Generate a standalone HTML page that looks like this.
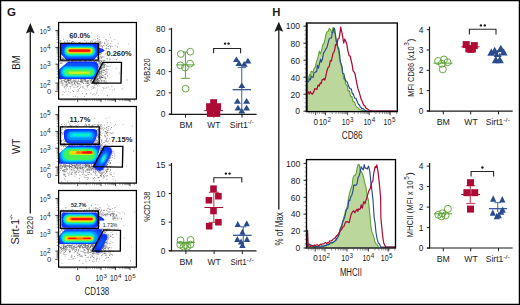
<!DOCTYPE html><html><head><meta charset="utf-8"><style>html,body{margin:0;padding:0;background:#fff;}svg{display:block;}text{font-family:"Liberation Sans",sans-serif;}</style></head><body>
<svg width="520" height="305" viewBox="0 0 520 305">
<defs><filter id="bl" x="-20%" y="-20%" width="140%" height="140%"><feGaussianBlur stdDeviation="0.6"/></filter><filter id="bl2" x="-20%" y="-20%" width="140%" height="140%"><feGaussianBlur stdDeviation="1.1"/></filter></defs>
<rect x="0" y="0" width="520" height="305" fill="#fff"/>
<text x="6.90" y="15.80" font-size="11.6" fill="#1c1c1c" font-weight="bold">G</text>
<text x="272.20" y="15.90" font-size="11.3" fill="#1c1c1c" font-weight="bold">H</text>
<line x1="30.30" y1="31.60" x2="30.30" y2="213.60" stroke="#1a1a1a" stroke-width="1.3"/>
<polygon points="30.30,23.00 34.70,33.60 30.30,31.80 25.90,33.60" fill="#1a1a1a" stroke="none" stroke-width="1"/>
<line x1="278.80" y1="29.80" x2="278.80" y2="209.60" stroke="#1a1a1a" stroke-width="1.3"/>
<polygon points="278.80,21.70 283.20,31.80 278.80,30.00 274.40,31.80" fill="#1a1a1a" stroke="none" stroke-width="1"/>
<text x="19.60" y="69.70" font-size="10.5" fill="#1c1c1c" textLength="14.50" lengthAdjust="spacingAndGlyphs" transform="rotate(-90 19.60 69.70)">BM</text>
<text x="19.60" y="154.10" font-size="10.5" fill="#1c1c1c" textLength="15.30" lengthAdjust="spacingAndGlyphs" transform="rotate(-90 19.60 154.10)">WT</text>
<text x="19.20" y="244.50" font-size="10.5" fill="#1c1c1c" textLength="25.60" lengthAdjust="spacingAndGlyphs" transform="rotate(-90 19.20 244.50)">Sirt-1</text>
<line x1="11.40" y1="219.70" x2="11.40" y2="218.30" stroke="#333" stroke-width="0.75"/>
<line x1="12.80" y1="218.10" x2="9.90" y2="216.50" stroke="#333" stroke-width="0.7"/>
<line x1="11.40" y1="216.10" x2="11.40" y2="214.70" stroke="#333" stroke-width="0.75"/>
<text x="32.90" y="234.60" font-size="8.8" fill="#1c1c1c" textLength="18.40" lengthAdjust="spacingAndGlyphs" transform="rotate(-90 32.90 234.60)">B220</text>
<clipPath id="pc0"><rect x="58.6" y="22.5" width="77.80000000000001" height="76.6"/></clipPath>
<text x="39.80" y="34.40" font-size="7.9" fill="#1c1c1c" textLength="7.00" lengthAdjust="spacingAndGlyphs">10</text>
<text x="47.00" y="31.30" font-size="6.5" fill="#1c1c1c">5</text>
<text x="39.80" y="51.70" font-size="7.9" fill="#1c1c1c" textLength="7.00" lengthAdjust="spacingAndGlyphs">10</text>
<text x="47.00" y="48.60" font-size="6.5" fill="#1c1c1c">4</text>
<text x="39.80" y="68.80" font-size="7.9" fill="#1c1c1c" textLength="7.00" lengthAdjust="spacingAndGlyphs">10</text>
<text x="47.00" y="65.70" font-size="6.5" fill="#1c1c1c">3</text>
<text x="39.80" y="87.70" font-size="7.9" fill="#1c1c1c" textLength="7.00" lengthAdjust="spacingAndGlyphs">10</text>
<text x="47.00" y="84.60" font-size="6.5" fill="#1c1c1c">2</text>
<text x="47.00" y="94.40" font-size="7.6" fill="#1c1c1c">0</text>
<line x1="55.30" y1="30.60" x2="58.60" y2="30.60" stroke="#1a1a1a" stroke-width="0.8"/>
<line x1="55.30" y1="47.40" x2="58.60" y2="47.40" stroke="#1a1a1a" stroke-width="0.8"/>
<line x1="55.30" y1="64.20" x2="58.60" y2="64.20" stroke="#1a1a1a" stroke-width="0.8"/>
<line x1="55.30" y1="83.10" x2="58.60" y2="83.10" stroke="#1a1a1a" stroke-width="0.8"/>
<line x1="55.30" y1="91.30" x2="58.60" y2="91.30" stroke="#1a1a1a" stroke-width="0.8"/>
<line x1="56.60" y1="42.34" x2="58.60" y2="42.34" stroke="#333" stroke-width="0.5"/>
<line x1="56.60" y1="39.38" x2="58.60" y2="39.38" stroke="#333" stroke-width="0.5"/>
<line x1="56.60" y1="37.29" x2="58.60" y2="37.29" stroke="#333" stroke-width="0.5"/>
<line x1="56.60" y1="35.66" x2="58.60" y2="35.66" stroke="#333" stroke-width="0.5"/>
<line x1="56.60" y1="34.33" x2="58.60" y2="34.33" stroke="#333" stroke-width="0.5"/>
<line x1="56.60" y1="33.20" x2="58.60" y2="33.20" stroke="#333" stroke-width="0.5"/>
<line x1="56.60" y1="32.23" x2="58.60" y2="32.23" stroke="#333" stroke-width="0.5"/>
<line x1="56.60" y1="31.37" x2="58.60" y2="31.37" stroke="#333" stroke-width="0.5"/>
<line x1="56.60" y1="59.14" x2="58.60" y2="59.14" stroke="#333" stroke-width="0.5"/>
<line x1="56.60" y1="56.18" x2="58.60" y2="56.18" stroke="#333" stroke-width="0.5"/>
<line x1="56.60" y1="54.09" x2="58.60" y2="54.09" stroke="#333" stroke-width="0.5"/>
<line x1="56.60" y1="52.46" x2="58.60" y2="52.46" stroke="#333" stroke-width="0.5"/>
<line x1="56.60" y1="51.13" x2="58.60" y2="51.13" stroke="#333" stroke-width="0.5"/>
<line x1="56.60" y1="50.00" x2="58.60" y2="50.00" stroke="#333" stroke-width="0.5"/>
<line x1="56.60" y1="49.03" x2="58.60" y2="49.03" stroke="#333" stroke-width="0.5"/>
<line x1="56.60" y1="48.17" x2="58.60" y2="48.17" stroke="#333" stroke-width="0.5"/>
<line x1="56.60" y1="77.41" x2="58.60" y2="77.41" stroke="#333" stroke-width="0.5"/>
<line x1="56.60" y1="74.08" x2="58.60" y2="74.08" stroke="#333" stroke-width="0.5"/>
<line x1="56.60" y1="71.72" x2="58.60" y2="71.72" stroke="#333" stroke-width="0.5"/>
<line x1="56.60" y1="69.89" x2="58.60" y2="69.89" stroke="#333" stroke-width="0.5"/>
<line x1="56.60" y1="68.39" x2="58.60" y2="68.39" stroke="#333" stroke-width="0.5"/>
<line x1="56.60" y1="67.13" x2="58.60" y2="67.13" stroke="#333" stroke-width="0.5"/>
<line x1="56.60" y1="66.03" x2="58.60" y2="66.03" stroke="#333" stroke-width="0.5"/>
<line x1="56.60" y1="65.06" x2="58.60" y2="65.06" stroke="#333" stroke-width="0.5"/>
<line x1="56.60" y1="89.66" x2="58.60" y2="89.66" stroke="#333" stroke-width="0.5"/>
<line x1="56.60" y1="88.84" x2="58.60" y2="88.84" stroke="#333" stroke-width="0.5"/>
<line x1="56.60" y1="88.02" x2="58.60" y2="88.02" stroke="#333" stroke-width="0.5"/>
<line x1="56.60" y1="87.20" x2="58.60" y2="87.20" stroke="#333" stroke-width="0.5"/>
<line x1="56.60" y1="86.38" x2="58.60" y2="86.38" stroke="#333" stroke-width="0.5"/>
<line x1="56.60" y1="85.56" x2="58.60" y2="85.56" stroke="#333" stroke-width="0.5"/>
<line x1="56.60" y1="84.74" x2="58.60" y2="84.74" stroke="#333" stroke-width="0.5"/>
<line x1="56.60" y1="83.92" x2="58.60" y2="83.92" stroke="#333" stroke-width="0.5"/>
<line x1="77.70" y1="99.10" x2="77.70" y2="102.10" stroke="#1a1a1a" stroke-width="0.8"/>
<line x1="101.00" y1="99.10" x2="101.00" y2="102.10" stroke="#1a1a1a" stroke-width="0.8"/>
<line x1="115.50" y1="99.10" x2="115.50" y2="102.10" stroke="#1a1a1a" stroke-width="0.8"/>
<line x1="130.00" y1="99.10" x2="130.00" y2="102.10" stroke="#1a1a1a" stroke-width="0.8"/>
<line x1="105.36" y1="99.10" x2="105.36" y2="101.10" stroke="#333" stroke-width="0.5"/>
<line x1="107.92" y1="99.10" x2="107.92" y2="101.10" stroke="#333" stroke-width="0.5"/>
<line x1="109.73" y1="99.10" x2="109.73" y2="101.10" stroke="#333" stroke-width="0.5"/>
<line x1="111.14" y1="99.10" x2="111.14" y2="101.10" stroke="#333" stroke-width="0.5"/>
<line x1="112.28" y1="99.10" x2="112.28" y2="101.10" stroke="#333" stroke-width="0.5"/>
<line x1="113.25" y1="99.10" x2="113.25" y2="101.10" stroke="#333" stroke-width="0.5"/>
<line x1="114.09" y1="99.10" x2="114.09" y2="101.10" stroke="#333" stroke-width="0.5"/>
<line x1="114.84" y1="99.10" x2="114.84" y2="101.10" stroke="#333" stroke-width="0.5"/>
<line x1="119.86" y1="99.10" x2="119.86" y2="101.10" stroke="#333" stroke-width="0.5"/>
<line x1="122.42" y1="99.10" x2="122.42" y2="101.10" stroke="#333" stroke-width="0.5"/>
<line x1="124.23" y1="99.10" x2="124.23" y2="101.10" stroke="#333" stroke-width="0.5"/>
<line x1="125.64" y1="99.10" x2="125.64" y2="101.10" stroke="#333" stroke-width="0.5"/>
<line x1="126.78" y1="99.10" x2="126.78" y2="101.10" stroke="#333" stroke-width="0.5"/>
<line x1="127.75" y1="99.10" x2="127.75" y2="101.10" stroke="#333" stroke-width="0.5"/>
<line x1="128.59" y1="99.10" x2="128.59" y2="101.10" stroke="#333" stroke-width="0.5"/>
<line x1="129.34" y1="99.10" x2="129.34" y2="101.10" stroke="#333" stroke-width="0.5"/>
<line x1="86.34" y1="99.10" x2="86.34" y2="101.10" stroke="#333" stroke-width="0.5"/>
<line x1="90.04" y1="99.10" x2="90.04" y2="101.10" stroke="#333" stroke-width="0.5"/>
<line x1="92.66" y1="99.10" x2="92.66" y2="101.10" stroke="#333" stroke-width="0.5"/>
<line x1="94.69" y1="99.10" x2="94.69" y2="101.10" stroke="#333" stroke-width="0.5"/>
<line x1="96.35" y1="99.10" x2="96.35" y2="101.10" stroke="#333" stroke-width="0.5"/>
<line x1="97.75" y1="99.10" x2="97.75" y2="101.10" stroke="#333" stroke-width="0.5"/>
<line x1="98.97" y1="99.10" x2="98.97" y2="101.10" stroke="#333" stroke-width="0.5"/>
<line x1="100.04" y1="99.10" x2="100.04" y2="101.10" stroke="#333" stroke-width="0.5"/>
<line x1="61.00" y1="99.10" x2="61.00" y2="100.90" stroke="#333" stroke-width="0.5"/>
<line x1="63.00" y1="99.10" x2="63.00" y2="100.90" stroke="#333" stroke-width="0.5"/>
<line x1="65.00" y1="99.10" x2="65.00" y2="100.90" stroke="#333" stroke-width="0.5"/>
<line x1="67.00" y1="99.10" x2="67.00" y2="100.90" stroke="#333" stroke-width="0.5"/>
<line x1="69.00" y1="99.10" x2="69.00" y2="100.90" stroke="#333" stroke-width="0.5"/>
<line x1="71.00" y1="99.10" x2="71.00" y2="100.90" stroke="#333" stroke-width="0.5"/>
<line x1="73.00" y1="99.10" x2="73.00" y2="100.90" stroke="#333" stroke-width="0.5"/>
<line x1="75.00" y1="99.10" x2="75.00" y2="100.90" stroke="#333" stroke-width="0.5"/>
<line x1="80.00" y1="99.10" x2="80.00" y2="100.90" stroke="#333" stroke-width="0.5"/>
<line x1="82.00" y1="99.10" x2="82.00" y2="100.90" stroke="#333" stroke-width="0.5"/>
<line x1="84.00" y1="99.10" x2="84.00" y2="100.90" stroke="#333" stroke-width="0.5"/>
<line x1="86.00" y1="99.10" x2="86.00" y2="100.90" stroke="#333" stroke-width="0.5"/>
<line x1="88.00" y1="99.10" x2="88.00" y2="100.90" stroke="#333" stroke-width="0.5"/>
<line x1="134.36" y1="99.10" x2="134.36" y2="101.10" stroke="#333" stroke-width="0.5"/>
<clipPath id="pc1"><rect x="58.6" y="106.5" width="77.80000000000001" height="76.6"/></clipPath>
<text x="39.80" y="118.40" font-size="7.9" fill="#1c1c1c" textLength="7.00" lengthAdjust="spacingAndGlyphs">10</text>
<text x="47.00" y="115.30" font-size="6.5" fill="#1c1c1c">5</text>
<text x="39.80" y="135.70" font-size="7.9" fill="#1c1c1c" textLength="7.00" lengthAdjust="spacingAndGlyphs">10</text>
<text x="47.00" y="132.60" font-size="6.5" fill="#1c1c1c">4</text>
<text x="39.80" y="152.80" font-size="7.9" fill="#1c1c1c" textLength="7.00" lengthAdjust="spacingAndGlyphs">10</text>
<text x="47.00" y="149.70" font-size="6.5" fill="#1c1c1c">3</text>
<text x="39.80" y="171.70" font-size="7.9" fill="#1c1c1c" textLength="7.00" lengthAdjust="spacingAndGlyphs">10</text>
<text x="47.00" y="168.60" font-size="6.5" fill="#1c1c1c">2</text>
<text x="47.00" y="178.40" font-size="7.6" fill="#1c1c1c">0</text>
<line x1="55.30" y1="114.60" x2="58.60" y2="114.60" stroke="#1a1a1a" stroke-width="0.8"/>
<line x1="55.30" y1="131.40" x2="58.60" y2="131.40" stroke="#1a1a1a" stroke-width="0.8"/>
<line x1="55.30" y1="148.20" x2="58.60" y2="148.20" stroke="#1a1a1a" stroke-width="0.8"/>
<line x1="55.30" y1="167.10" x2="58.60" y2="167.10" stroke="#1a1a1a" stroke-width="0.8"/>
<line x1="55.30" y1="175.30" x2="58.60" y2="175.30" stroke="#1a1a1a" stroke-width="0.8"/>
<line x1="56.60" y1="126.34" x2="58.60" y2="126.34" stroke="#333" stroke-width="0.5"/>
<line x1="56.60" y1="123.38" x2="58.60" y2="123.38" stroke="#333" stroke-width="0.5"/>
<line x1="56.60" y1="121.29" x2="58.60" y2="121.29" stroke="#333" stroke-width="0.5"/>
<line x1="56.60" y1="119.66" x2="58.60" y2="119.66" stroke="#333" stroke-width="0.5"/>
<line x1="56.60" y1="118.33" x2="58.60" y2="118.33" stroke="#333" stroke-width="0.5"/>
<line x1="56.60" y1="117.20" x2="58.60" y2="117.20" stroke="#333" stroke-width="0.5"/>
<line x1="56.60" y1="116.23" x2="58.60" y2="116.23" stroke="#333" stroke-width="0.5"/>
<line x1="56.60" y1="115.37" x2="58.60" y2="115.37" stroke="#333" stroke-width="0.5"/>
<line x1="56.60" y1="143.14" x2="58.60" y2="143.14" stroke="#333" stroke-width="0.5"/>
<line x1="56.60" y1="140.18" x2="58.60" y2="140.18" stroke="#333" stroke-width="0.5"/>
<line x1="56.60" y1="138.09" x2="58.60" y2="138.09" stroke="#333" stroke-width="0.5"/>
<line x1="56.60" y1="136.46" x2="58.60" y2="136.46" stroke="#333" stroke-width="0.5"/>
<line x1="56.60" y1="135.13" x2="58.60" y2="135.13" stroke="#333" stroke-width="0.5"/>
<line x1="56.60" y1="134.00" x2="58.60" y2="134.00" stroke="#333" stroke-width="0.5"/>
<line x1="56.60" y1="133.03" x2="58.60" y2="133.03" stroke="#333" stroke-width="0.5"/>
<line x1="56.60" y1="132.17" x2="58.60" y2="132.17" stroke="#333" stroke-width="0.5"/>
<line x1="56.60" y1="161.41" x2="58.60" y2="161.41" stroke="#333" stroke-width="0.5"/>
<line x1="56.60" y1="158.08" x2="58.60" y2="158.08" stroke="#333" stroke-width="0.5"/>
<line x1="56.60" y1="155.72" x2="58.60" y2="155.72" stroke="#333" stroke-width="0.5"/>
<line x1="56.60" y1="153.89" x2="58.60" y2="153.89" stroke="#333" stroke-width="0.5"/>
<line x1="56.60" y1="152.39" x2="58.60" y2="152.39" stroke="#333" stroke-width="0.5"/>
<line x1="56.60" y1="151.13" x2="58.60" y2="151.13" stroke="#333" stroke-width="0.5"/>
<line x1="56.60" y1="150.03" x2="58.60" y2="150.03" stroke="#333" stroke-width="0.5"/>
<line x1="56.60" y1="149.06" x2="58.60" y2="149.06" stroke="#333" stroke-width="0.5"/>
<line x1="56.60" y1="173.66" x2="58.60" y2="173.66" stroke="#333" stroke-width="0.5"/>
<line x1="56.60" y1="172.84" x2="58.60" y2="172.84" stroke="#333" stroke-width="0.5"/>
<line x1="56.60" y1="172.02" x2="58.60" y2="172.02" stroke="#333" stroke-width="0.5"/>
<line x1="56.60" y1="171.20" x2="58.60" y2="171.20" stroke="#333" stroke-width="0.5"/>
<line x1="56.60" y1="170.38" x2="58.60" y2="170.38" stroke="#333" stroke-width="0.5"/>
<line x1="56.60" y1="169.56" x2="58.60" y2="169.56" stroke="#333" stroke-width="0.5"/>
<line x1="56.60" y1="168.74" x2="58.60" y2="168.74" stroke="#333" stroke-width="0.5"/>
<line x1="56.60" y1="167.92" x2="58.60" y2="167.92" stroke="#333" stroke-width="0.5"/>
<line x1="77.70" y1="183.10" x2="77.70" y2="186.10" stroke="#1a1a1a" stroke-width="0.8"/>
<line x1="101.00" y1="183.10" x2="101.00" y2="186.10" stroke="#1a1a1a" stroke-width="0.8"/>
<line x1="115.50" y1="183.10" x2="115.50" y2="186.10" stroke="#1a1a1a" stroke-width="0.8"/>
<line x1="130.00" y1="183.10" x2="130.00" y2="186.10" stroke="#1a1a1a" stroke-width="0.8"/>
<line x1="105.36" y1="183.10" x2="105.36" y2="185.10" stroke="#333" stroke-width="0.5"/>
<line x1="107.92" y1="183.10" x2="107.92" y2="185.10" stroke="#333" stroke-width="0.5"/>
<line x1="109.73" y1="183.10" x2="109.73" y2="185.10" stroke="#333" stroke-width="0.5"/>
<line x1="111.14" y1="183.10" x2="111.14" y2="185.10" stroke="#333" stroke-width="0.5"/>
<line x1="112.28" y1="183.10" x2="112.28" y2="185.10" stroke="#333" stroke-width="0.5"/>
<line x1="113.25" y1="183.10" x2="113.25" y2="185.10" stroke="#333" stroke-width="0.5"/>
<line x1="114.09" y1="183.10" x2="114.09" y2="185.10" stroke="#333" stroke-width="0.5"/>
<line x1="114.84" y1="183.10" x2="114.84" y2="185.10" stroke="#333" stroke-width="0.5"/>
<line x1="119.86" y1="183.10" x2="119.86" y2="185.10" stroke="#333" stroke-width="0.5"/>
<line x1="122.42" y1="183.10" x2="122.42" y2="185.10" stroke="#333" stroke-width="0.5"/>
<line x1="124.23" y1="183.10" x2="124.23" y2="185.10" stroke="#333" stroke-width="0.5"/>
<line x1="125.64" y1="183.10" x2="125.64" y2="185.10" stroke="#333" stroke-width="0.5"/>
<line x1="126.78" y1="183.10" x2="126.78" y2="185.10" stroke="#333" stroke-width="0.5"/>
<line x1="127.75" y1="183.10" x2="127.75" y2="185.10" stroke="#333" stroke-width="0.5"/>
<line x1="128.59" y1="183.10" x2="128.59" y2="185.10" stroke="#333" stroke-width="0.5"/>
<line x1="129.34" y1="183.10" x2="129.34" y2="185.10" stroke="#333" stroke-width="0.5"/>
<line x1="86.34" y1="183.10" x2="86.34" y2="185.10" stroke="#333" stroke-width="0.5"/>
<line x1="90.04" y1="183.10" x2="90.04" y2="185.10" stroke="#333" stroke-width="0.5"/>
<line x1="92.66" y1="183.10" x2="92.66" y2="185.10" stroke="#333" stroke-width="0.5"/>
<line x1="94.69" y1="183.10" x2="94.69" y2="185.10" stroke="#333" stroke-width="0.5"/>
<line x1="96.35" y1="183.10" x2="96.35" y2="185.10" stroke="#333" stroke-width="0.5"/>
<line x1="97.75" y1="183.10" x2="97.75" y2="185.10" stroke="#333" stroke-width="0.5"/>
<line x1="98.97" y1="183.10" x2="98.97" y2="185.10" stroke="#333" stroke-width="0.5"/>
<line x1="100.04" y1="183.10" x2="100.04" y2="185.10" stroke="#333" stroke-width="0.5"/>
<line x1="61.00" y1="183.10" x2="61.00" y2="184.90" stroke="#333" stroke-width="0.5"/>
<line x1="63.00" y1="183.10" x2="63.00" y2="184.90" stroke="#333" stroke-width="0.5"/>
<line x1="65.00" y1="183.10" x2="65.00" y2="184.90" stroke="#333" stroke-width="0.5"/>
<line x1="67.00" y1="183.10" x2="67.00" y2="184.90" stroke="#333" stroke-width="0.5"/>
<line x1="69.00" y1="183.10" x2="69.00" y2="184.90" stroke="#333" stroke-width="0.5"/>
<line x1="71.00" y1="183.10" x2="71.00" y2="184.90" stroke="#333" stroke-width="0.5"/>
<line x1="73.00" y1="183.10" x2="73.00" y2="184.90" stroke="#333" stroke-width="0.5"/>
<line x1="75.00" y1="183.10" x2="75.00" y2="184.90" stroke="#333" stroke-width="0.5"/>
<line x1="80.00" y1="183.10" x2="80.00" y2="184.90" stroke="#333" stroke-width="0.5"/>
<line x1="82.00" y1="183.10" x2="82.00" y2="184.90" stroke="#333" stroke-width="0.5"/>
<line x1="84.00" y1="183.10" x2="84.00" y2="184.90" stroke="#333" stroke-width="0.5"/>
<line x1="86.00" y1="183.10" x2="86.00" y2="184.90" stroke="#333" stroke-width="0.5"/>
<line x1="88.00" y1="183.10" x2="88.00" y2="184.90" stroke="#333" stroke-width="0.5"/>
<line x1="134.36" y1="183.10" x2="134.36" y2="185.10" stroke="#333" stroke-width="0.5"/>
<clipPath id="pc2"><rect x="58.6" y="190.5" width="77.80000000000001" height="76.60000000000002"/></clipPath>
<text x="39.80" y="202.40" font-size="7.9" fill="#1c1c1c" textLength="7.00" lengthAdjust="spacingAndGlyphs">10</text>
<text x="47.00" y="199.30" font-size="6.5" fill="#1c1c1c">5</text>
<text x="39.80" y="219.70" font-size="7.9" fill="#1c1c1c" textLength="7.00" lengthAdjust="spacingAndGlyphs">10</text>
<text x="47.00" y="216.60" font-size="6.5" fill="#1c1c1c">4</text>
<text x="39.80" y="236.80" font-size="7.9" fill="#1c1c1c" textLength="7.00" lengthAdjust="spacingAndGlyphs">10</text>
<text x="47.00" y="233.70" font-size="6.5" fill="#1c1c1c">3</text>
<text x="39.80" y="255.70" font-size="7.9" fill="#1c1c1c" textLength="7.00" lengthAdjust="spacingAndGlyphs">10</text>
<text x="47.00" y="252.60" font-size="6.5" fill="#1c1c1c">2</text>
<text x="47.00" y="262.40" font-size="7.6" fill="#1c1c1c">0</text>
<line x1="55.30" y1="198.60" x2="58.60" y2="198.60" stroke="#1a1a1a" stroke-width="0.8"/>
<line x1="55.30" y1="215.40" x2="58.60" y2="215.40" stroke="#1a1a1a" stroke-width="0.8"/>
<line x1="55.30" y1="232.20" x2="58.60" y2="232.20" stroke="#1a1a1a" stroke-width="0.8"/>
<line x1="55.30" y1="251.10" x2="58.60" y2="251.10" stroke="#1a1a1a" stroke-width="0.8"/>
<line x1="55.30" y1="259.30" x2="58.60" y2="259.30" stroke="#1a1a1a" stroke-width="0.8"/>
<line x1="56.60" y1="210.34" x2="58.60" y2="210.34" stroke="#333" stroke-width="0.5"/>
<line x1="56.60" y1="207.38" x2="58.60" y2="207.38" stroke="#333" stroke-width="0.5"/>
<line x1="56.60" y1="205.29" x2="58.60" y2="205.29" stroke="#333" stroke-width="0.5"/>
<line x1="56.60" y1="203.66" x2="58.60" y2="203.66" stroke="#333" stroke-width="0.5"/>
<line x1="56.60" y1="202.33" x2="58.60" y2="202.33" stroke="#333" stroke-width="0.5"/>
<line x1="56.60" y1="201.20" x2="58.60" y2="201.20" stroke="#333" stroke-width="0.5"/>
<line x1="56.60" y1="200.23" x2="58.60" y2="200.23" stroke="#333" stroke-width="0.5"/>
<line x1="56.60" y1="199.37" x2="58.60" y2="199.37" stroke="#333" stroke-width="0.5"/>
<line x1="56.60" y1="227.14" x2="58.60" y2="227.14" stroke="#333" stroke-width="0.5"/>
<line x1="56.60" y1="224.18" x2="58.60" y2="224.18" stroke="#333" stroke-width="0.5"/>
<line x1="56.60" y1="222.09" x2="58.60" y2="222.09" stroke="#333" stroke-width="0.5"/>
<line x1="56.60" y1="220.46" x2="58.60" y2="220.46" stroke="#333" stroke-width="0.5"/>
<line x1="56.60" y1="219.13" x2="58.60" y2="219.13" stroke="#333" stroke-width="0.5"/>
<line x1="56.60" y1="218.00" x2="58.60" y2="218.00" stroke="#333" stroke-width="0.5"/>
<line x1="56.60" y1="217.03" x2="58.60" y2="217.03" stroke="#333" stroke-width="0.5"/>
<line x1="56.60" y1="216.17" x2="58.60" y2="216.17" stroke="#333" stroke-width="0.5"/>
<line x1="56.60" y1="245.41" x2="58.60" y2="245.41" stroke="#333" stroke-width="0.5"/>
<line x1="56.60" y1="242.08" x2="58.60" y2="242.08" stroke="#333" stroke-width="0.5"/>
<line x1="56.60" y1="239.72" x2="58.60" y2="239.72" stroke="#333" stroke-width="0.5"/>
<line x1="56.60" y1="237.89" x2="58.60" y2="237.89" stroke="#333" stroke-width="0.5"/>
<line x1="56.60" y1="236.39" x2="58.60" y2="236.39" stroke="#333" stroke-width="0.5"/>
<line x1="56.60" y1="235.13" x2="58.60" y2="235.13" stroke="#333" stroke-width="0.5"/>
<line x1="56.60" y1="234.03" x2="58.60" y2="234.03" stroke="#333" stroke-width="0.5"/>
<line x1="56.60" y1="233.06" x2="58.60" y2="233.06" stroke="#333" stroke-width="0.5"/>
<line x1="56.60" y1="257.66" x2="58.60" y2="257.66" stroke="#333" stroke-width="0.5"/>
<line x1="56.60" y1="256.84" x2="58.60" y2="256.84" stroke="#333" stroke-width="0.5"/>
<line x1="56.60" y1="256.02" x2="58.60" y2="256.02" stroke="#333" stroke-width="0.5"/>
<line x1="56.60" y1="255.20" x2="58.60" y2="255.20" stroke="#333" stroke-width="0.5"/>
<line x1="56.60" y1="254.38" x2="58.60" y2="254.38" stroke="#333" stroke-width="0.5"/>
<line x1="56.60" y1="253.56" x2="58.60" y2="253.56" stroke="#333" stroke-width="0.5"/>
<line x1="56.60" y1="252.74" x2="58.60" y2="252.74" stroke="#333" stroke-width="0.5"/>
<line x1="56.60" y1="251.92" x2="58.60" y2="251.92" stroke="#333" stroke-width="0.5"/>
<line x1="77.70" y1="267.10" x2="77.70" y2="270.10" stroke="#1a1a1a" stroke-width="0.8"/>
<line x1="101.00" y1="267.10" x2="101.00" y2="270.10" stroke="#1a1a1a" stroke-width="0.8"/>
<line x1="115.50" y1="267.10" x2="115.50" y2="270.10" stroke="#1a1a1a" stroke-width="0.8"/>
<line x1="130.00" y1="267.10" x2="130.00" y2="270.10" stroke="#1a1a1a" stroke-width="0.8"/>
<line x1="105.36" y1="267.10" x2="105.36" y2="269.10" stroke="#333" stroke-width="0.5"/>
<line x1="107.92" y1="267.10" x2="107.92" y2="269.10" stroke="#333" stroke-width="0.5"/>
<line x1="109.73" y1="267.10" x2="109.73" y2="269.10" stroke="#333" stroke-width="0.5"/>
<line x1="111.14" y1="267.10" x2="111.14" y2="269.10" stroke="#333" stroke-width="0.5"/>
<line x1="112.28" y1="267.10" x2="112.28" y2="269.10" stroke="#333" stroke-width="0.5"/>
<line x1="113.25" y1="267.10" x2="113.25" y2="269.10" stroke="#333" stroke-width="0.5"/>
<line x1="114.09" y1="267.10" x2="114.09" y2="269.10" stroke="#333" stroke-width="0.5"/>
<line x1="114.84" y1="267.10" x2="114.84" y2="269.10" stroke="#333" stroke-width="0.5"/>
<line x1="119.86" y1="267.10" x2="119.86" y2="269.10" stroke="#333" stroke-width="0.5"/>
<line x1="122.42" y1="267.10" x2="122.42" y2="269.10" stroke="#333" stroke-width="0.5"/>
<line x1="124.23" y1="267.10" x2="124.23" y2="269.10" stroke="#333" stroke-width="0.5"/>
<line x1="125.64" y1="267.10" x2="125.64" y2="269.10" stroke="#333" stroke-width="0.5"/>
<line x1="126.78" y1="267.10" x2="126.78" y2="269.10" stroke="#333" stroke-width="0.5"/>
<line x1="127.75" y1="267.10" x2="127.75" y2="269.10" stroke="#333" stroke-width="0.5"/>
<line x1="128.59" y1="267.10" x2="128.59" y2="269.10" stroke="#333" stroke-width="0.5"/>
<line x1="129.34" y1="267.10" x2="129.34" y2="269.10" stroke="#333" stroke-width="0.5"/>
<line x1="86.34" y1="267.10" x2="86.34" y2="269.10" stroke="#333" stroke-width="0.5"/>
<line x1="90.04" y1="267.10" x2="90.04" y2="269.10" stroke="#333" stroke-width="0.5"/>
<line x1="92.66" y1="267.10" x2="92.66" y2="269.10" stroke="#333" stroke-width="0.5"/>
<line x1="94.69" y1="267.10" x2="94.69" y2="269.10" stroke="#333" stroke-width="0.5"/>
<line x1="96.35" y1="267.10" x2="96.35" y2="269.10" stroke="#333" stroke-width="0.5"/>
<line x1="97.75" y1="267.10" x2="97.75" y2="269.10" stroke="#333" stroke-width="0.5"/>
<line x1="98.97" y1="267.10" x2="98.97" y2="269.10" stroke="#333" stroke-width="0.5"/>
<line x1="100.04" y1="267.10" x2="100.04" y2="269.10" stroke="#333" stroke-width="0.5"/>
<line x1="61.00" y1="267.10" x2="61.00" y2="268.90" stroke="#333" stroke-width="0.5"/>
<line x1="63.00" y1="267.10" x2="63.00" y2="268.90" stroke="#333" stroke-width="0.5"/>
<line x1="65.00" y1="267.10" x2="65.00" y2="268.90" stroke="#333" stroke-width="0.5"/>
<line x1="67.00" y1="267.10" x2="67.00" y2="268.90" stroke="#333" stroke-width="0.5"/>
<line x1="69.00" y1="267.10" x2="69.00" y2="268.90" stroke="#333" stroke-width="0.5"/>
<line x1="71.00" y1="267.10" x2="71.00" y2="268.90" stroke="#333" stroke-width="0.5"/>
<line x1="73.00" y1="267.10" x2="73.00" y2="268.90" stroke="#333" stroke-width="0.5"/>
<line x1="75.00" y1="267.10" x2="75.00" y2="268.90" stroke="#333" stroke-width="0.5"/>
<line x1="80.00" y1="267.10" x2="80.00" y2="268.90" stroke="#333" stroke-width="0.5"/>
<line x1="82.00" y1="267.10" x2="82.00" y2="268.90" stroke="#333" stroke-width="0.5"/>
<line x1="84.00" y1="267.10" x2="84.00" y2="268.90" stroke="#333" stroke-width="0.5"/>
<line x1="86.00" y1="267.10" x2="86.00" y2="268.90" stroke="#333" stroke-width="0.5"/>
<line x1="88.00" y1="267.10" x2="88.00" y2="268.90" stroke="#333" stroke-width="0.5"/>
<line x1="134.36" y1="267.10" x2="134.36" y2="269.10" stroke="#333" stroke-width="0.5"/>
<path d="M101.1 71.0h0.8v0.8h-0.8zM67.9 80.2h0.8v0.8h-0.8zM61.9 62.7h0.8v0.8h-0.8zM68.4 56.8h0.8v0.8h-0.8zM72.2 41.1h0.8v0.8h-0.8zM67.5 74.6h0.8v0.8h-0.8zM102.0 77.1h0.8v0.8h-0.8zM107.8 48.1h0.8v0.8h-0.8zM105.9 49.4h0.8v0.8h-0.8zM80.0 74.7h0.8v0.8h-0.8zM70.3 85.9h0.8v0.8h-0.8zM97.0 45.1h0.8v0.8h-0.8zM88.7 56.4h0.8v0.8h-0.8zM67.5 41.7h0.8v0.8h-0.8zM68.4 59.4h0.8v0.8h-0.8zM84.5 60.5h0.8v0.8h-0.8zM81.9 86.3h0.8v0.8h-0.8zM95.6 71.5h0.8v0.8h-0.8zM78.4 62.9h0.8v0.8h-0.8zM94.2 61.0h0.8v0.8h-0.8zM94.4 79.7h0.8v0.8h-0.8zM108.3 52.8h0.8v0.8h-0.8zM71.1 61.2h0.8v0.8h-0.8zM68.9 56.7h0.8v0.8h-0.8zM83.2 83.3h0.8v0.8h-0.8zM66.0 82.0h0.8v0.8h-0.8zM96.2 61.7h0.8v0.8h-0.8zM112.7 56.0h0.8v0.8h-0.8zM64.1 80.2h0.8v0.8h-0.8zM62.7 47.2h0.8v0.8h-0.8zM100.7 74.5h0.8v0.8h-0.8zM85.1 80.8h0.8v0.8h-0.8zM107.7 40.3h0.8v0.8h-0.8zM101.0 53.2h0.8v0.8h-0.8zM80.3 56.0h0.8v0.8h-0.8zM81.6 65.8h0.8v0.8h-0.8zM101.5 68.7h0.8v0.8h-0.8zM72.2 56.0h0.8v0.8h-0.8zM100.6 67.5h0.8v0.8h-0.8zM72.2 55.9h0.8v0.8h-0.8zM78.2 78.6h0.8v0.8h-0.8zM76.9 59.0h0.8v0.8h-0.8zM64.1 61.2h0.8v0.8h-0.8zM84.3 74.3h0.8v0.8h-0.8zM74.3 71.2h0.8v0.8h-0.8zM99.1 42.4h0.8v0.8h-0.8zM99.2 60.1h0.8v0.8h-0.8zM88.4 77.0h0.8v0.8h-0.8zM101.5 71.9h0.8v0.8h-0.8zM70.5 76.2h0.8v0.8h-0.8zM98.8 68.1h0.8v0.8h-0.8zM96.3 77.9h0.8v0.8h-0.8zM66.3 61.5h0.8v0.8h-0.8zM92.7 77.3h0.8v0.8h-0.8zM87.0 86.7h0.8v0.8h-0.8zM71.2 61.3h0.8v0.8h-0.8zM65.9 81.3h0.8v0.8h-0.8zM92.9 83.1h0.8v0.8h-0.8zM98.6 71.3h0.8v0.8h-0.8zM103.6 65.8h0.8v0.8h-0.8zM103.5 68.8h0.8v0.8h-0.8zM71.2 81.5h0.8v0.8h-0.8zM93.8 78.3h0.8v0.8h-0.8zM89.9 49.9h0.8v0.8h-0.8zM96.3 41.3h0.8v0.8h-0.8zM61.9 59.9h0.8v0.8h-0.8zM62.1 73.2h0.8v0.8h-0.8zM78.7 59.1h0.8v0.8h-0.8zM64.5 81.2h0.8v0.8h-0.8zM82.2 92.9h0.8v0.8h-0.8zM74.4 80.2h0.8v0.8h-0.8zM103.6 81.4h0.8v0.8h-0.8zM63.2 73.0h0.8v0.8h-0.8zM105.6 54.3h0.8v0.8h-0.8zM85.2 60.9h0.8v0.8h-0.8zM98.4 62.5h0.8v0.8h-0.8zM63.3 61.5h0.8v0.8h-0.8zM95.0 42.5h0.8v0.8h-0.8zM77.5 80.4h0.8v0.8h-0.8zM77.2 96.5h0.8v0.8h-0.8zM85.8 93.6h0.8v0.8h-0.8zM99.9 77.6h0.8v0.8h-0.8zM94.8 94.4h0.8v0.8h-0.8zM77.1 72.1h0.8v0.8h-0.8zM105.0 81.7h0.8v0.8h-0.8zM64.0 49.4h0.8v0.8h-0.8zM98.1 83.6h0.8v0.8h-0.8zM61.5 77.0h0.8v0.8h-0.8zM99.0 44.3h0.8v0.8h-0.8zM86.4 37.0h0.8v0.8h-0.8zM117.0 46.6h0.8v0.8h-0.8zM60.5 62.8h0.8v0.8h-0.8zM77.1 42.9h0.8v0.8h-0.8zM62.6 59.3h0.8v0.8h-0.8zM100.6 74.3h0.8v0.8h-0.8zM96.7 61.0h0.8v0.8h-0.8zM66.6 81.4h0.8v0.8h-0.8zM98.9 57.4h0.8v0.8h-0.8zM84.8 55.9h0.8v0.8h-0.8zM78.1 76.8h0.8v0.8h-0.8zM86.8 58.0h0.8v0.8h-0.8zM80.9 61.3h0.8v0.8h-0.8zM104.1 66.6h0.8v0.8h-0.8zM103.6 63.4h0.8v0.8h-0.8zM62.7 43.0h0.8v0.8h-0.8zM78.6 83.1h0.8v0.8h-0.8zM94.2 82.4h0.8v0.8h-0.8zM63.3 39.2h0.8v0.8h-0.8zM67.0 43.4h0.8v0.8h-0.8zM95.8 80.6h0.8v0.8h-0.8zM75.9 78.5h0.8v0.8h-0.8zM79.7 77.0h0.8v0.8h-0.8zM67.3 72.9h0.8v0.8h-0.8zM115.9 59.1h0.8v0.8h-0.8zM60.5 46.2h0.8v0.8h-0.8zM88.2 42.7h0.8v0.8h-0.8zM103.6 71.7h0.8v0.8h-0.8zM89.1 84.2h0.8v0.8h-0.8zM96.0 60.6h0.8v0.8h-0.8zM71.8 38.2h0.8v0.8h-0.8zM66.9 80.6h0.8v0.8h-0.8zM66.5 69.7h0.8v0.8h-0.8zM77.6 77.7h0.8v0.8h-0.8zM86.9 58.8h0.8v0.8h-0.8zM88.0 73.7h0.8v0.8h-0.8zM65.2 76.0h0.8v0.8h-0.8zM68.4 61.1h0.8v0.8h-0.8zM71.9 60.4h0.8v0.8h-0.8zM121.8 88.4h0.8v0.8h-0.8zM67.6 42.8h0.8v0.8h-0.8zM98.0 55.5h0.8v0.8h-0.8zM82.1 81.9h0.8v0.8h-0.8zM59.3 59.8h0.8v0.8h-0.8zM73.7 60.3h0.8v0.8h-0.8zM100.2 68.9h0.8v0.8h-0.8zM97.0 70.5h0.8v0.8h-0.8zM90.9 71.6h0.8v0.8h-0.8zM84.8 77.5h0.8v0.8h-0.8zM107.8 86.5h0.8v0.8h-0.8zM79.6 81.1h0.8v0.8h-0.8zM80.5 61.0h0.8v0.8h-0.8zM100.3 64.4h0.8v0.8h-0.8zM104.5 87.7h0.8v0.8h-0.8zM109.5 51.1h0.8v0.8h-0.8zM101.3 45.2h0.8v0.8h-0.8zM62.5 94.0h0.8v0.8h-0.8zM80.8 60.3h0.8v0.8h-0.8zM103.7 64.1h0.8v0.8h-0.8zM97.7 81.3h0.8v0.8h-0.8zM98.8 54.0h0.8v0.8h-0.8zM82.3 53.0h0.8v0.8h-0.8zM97.4 42.7h0.8v0.8h-0.8zM98.2 73.9h0.8v0.8h-0.8zM98.4 72.8h0.8v0.8h-0.8zM93.9 81.9h0.8v0.8h-0.8zM86.6 56.6h0.8v0.8h-0.8zM98.8 62.2h0.8v0.8h-0.8zM62.0 44.2h0.8v0.8h-0.8zM65.7 90.8h0.8v0.8h-0.8zM78.3 60.3h0.8v0.8h-0.8zM85.3 63.6h0.8v0.8h-0.8zM59.3 78.8h0.8v0.8h-0.8zM103.8 79.9h0.8v0.8h-0.8zM96.9 57.5h0.8v0.8h-0.8zM70.2 79.1h0.8v0.8h-0.8zM98.7 53.7h0.8v0.8h-0.8zM101.0 71.3h0.8v0.8h-0.8zM102.4 64.4h0.8v0.8h-0.8zM76.9 82.5h0.8v0.8h-0.8zM99.3 59.8h0.8v0.8h-0.8zM62.5 60.3h0.8v0.8h-0.8zM76.2 57.9h0.8v0.8h-0.8zM68.5 81.7h0.8v0.8h-0.8zM97.9 57.5h0.8v0.8h-0.8zM105.2 77.8h0.8v0.8h-0.8zM76.4 81.7h0.8v0.8h-0.8zM68.8 60.3h0.8v0.8h-0.8zM85.9 43.0h0.8v0.8h-0.8zM105.4 78.3h0.8v0.8h-0.8zM84.4 60.9h0.8v0.8h-0.8zM98.1 74.7h0.8v0.8h-0.8zM109.9 46.1h0.8v0.8h-0.8zM115.0 45.5h0.8v0.8h-0.8zM98.6 69.8h0.8v0.8h-0.8zM87.6 80.4h0.8v0.8h-0.8zM93.9 82.1h0.8v0.8h-0.8zM99.6 64.3h0.8v0.8h-0.8zM114.0 88.7h0.8v0.8h-0.8zM111.7 55.2h0.8v0.8h-0.8zM60.7 78.4h0.8v0.8h-0.8zM96.4 48.9h0.8v0.8h-0.8zM62.2 71.7h0.8v0.8h-0.8zM86.2 78.1h0.8v0.8h-0.8zM94.3 55.8h0.8v0.8h-0.8zM73.0 77.4h0.8v0.8h-0.8zM83.8 57.6h0.8v0.8h-0.8zM96.0 80.8h0.8v0.8h-0.8zM91.0 55.2h0.8v0.8h-0.8zM75.6 82.5h0.8v0.8h-0.8zM99.3 61.2h0.8v0.8h-0.8zM85.5 81.2h0.8v0.8h-0.8zM100.5 62.3h0.8v0.8h-0.8zM100.6 67.3h0.8v0.8h-0.8zM77.4 42.9h0.8v0.8h-0.8zM97.5 45.3h0.8v0.8h-0.8zM91.8 61.9h0.8v0.8h-0.8zM69.9 80.9h0.8v0.8h-0.8zM104.2 66.9h0.8v0.8h-0.8zM95.8 80.5h0.8v0.8h-0.8zM90.5 65.8h0.8v0.8h-0.8zM68.0 79.9h0.8v0.8h-0.8zM62.4 83.1h0.8v0.8h-0.8zM64.5 81.8h0.8v0.8h-0.8zM86.2 41.9h0.8v0.8h-0.8zM60.0 76.2h0.8v0.8h-0.8zM81.8 81.9h0.8v0.8h-0.8zM95.1 78.7h0.8v0.8h-0.8zM75.4 58.3h0.8v0.8h-0.8zM96.0 77.8h0.8v0.8h-0.8zM94.7 79.0h0.8v0.8h-0.8zM64.0 51.3h0.8v0.8h-0.8zM93.7 43.6h0.8v0.8h-0.8zM65.2 79.1h0.8v0.8h-0.8zM96.2 76.0h0.8v0.8h-0.8zM96.8 80.4h0.8v0.8h-0.8zM92.1 81.7h0.8v0.8h-0.8zM60.1 57.6h0.8v0.8h-0.8zM112.2 55.3h0.8v0.8h-0.8zM104.6 44.5h0.8v0.8h-0.8zM99.2 60.2h0.8v0.8h-0.8zM101.9 46.4h0.8v0.8h-0.8zM99.2 42.5h0.8v0.8h-0.8zM77.8 43.1h0.8v0.8h-0.8zM95.4 47.2h0.8v0.8h-0.8zM103.8 62.6h0.8v0.8h-0.8zM93.8 53.1h0.8v0.8h-0.8zM73.4 42.9h0.8v0.8h-0.8zM94.6 72.8h0.8v0.8h-0.8zM82.1 62.8h0.8v0.8h-0.8zM100.3 71.0h0.8v0.8h-0.8zM81.2 80.0h0.8v0.8h-0.8zM60.4 55.7h0.8v0.8h-0.8zM86.4 60.5h0.8v0.8h-0.8zM89.2 78.7h0.8v0.8h-0.8zM81.7 82.0h0.8v0.8h-0.8zM64.4 80.4h0.8v0.8h-0.8zM87.2 85.1h0.8v0.8h-0.8zM98.9 45.3h0.8v0.8h-0.8zM73.7 80.4h0.8v0.8h-0.8zM81.1 81.6h0.8v0.8h-0.8zM76.7 55.6h0.8v0.8h-0.8zM59.4 56.6h0.8v0.8h-0.8zM94.5 61.2h0.8v0.8h-0.8zM60.8 82.5h0.8v0.8h-0.8zM59.8 53.3h0.8v0.8h-0.8zM99.6 75.9h0.8v0.8h-0.8zM87.4 81.6h0.8v0.8h-0.8zM93.6 42.8h0.8v0.8h-0.8zM98.9 68.5h0.8v0.8h-0.8zM61.0 73.8h0.8v0.8h-0.8zM69.0 79.8h0.8v0.8h-0.8zM78.8 55.8h0.8v0.8h-0.8zM85.9 60.4h0.8v0.8h-0.8zM102.8 70.2h0.8v0.8h-0.8zM70.0 87.7h0.8v0.8h-0.8zM107.4 63.0h0.8v0.8h-0.8zM103.0 77.4h0.8v0.8h-0.8zM86.4 42.9h0.8v0.8h-0.8zM107.5 43.4h0.8v0.8h-0.8zM109.4 44.9h0.8v0.8h-0.8zM97.2 81.1h0.8v0.8h-0.8zM97.2 54.0h0.8v0.8h-0.8zM77.0 61.0h0.8v0.8h-0.8zM62.5 60.6h0.8v0.8h-0.8zM63.7 77.5h0.8v0.8h-0.8zM116.8 57.7h0.8v0.8h-0.8zM82.7 79.7h0.8v0.8h-0.8zM75.1 95.8h0.8v0.8h-0.8zM90.9 60.6h0.8v0.8h-0.8zM97.3 73.5h0.8v0.8h-0.8zM91.6 45.8h0.8v0.8h-0.8zM63.8 75.6h0.8v0.8h-0.8zM63.2 80.3h0.8v0.8h-0.8zM102.8 77.4h0.8v0.8h-0.8zM82.1 56.8h0.8v0.8h-0.8zM93.9 61.5h0.8v0.8h-0.8zM100.6 82.6h0.8v0.8h-0.8zM82.6 81.0h0.8v0.8h-0.8zM88.8 61.2h0.8v0.8h-0.8zM97.8 44.9h0.8v0.8h-0.8zM102.7 64.5h0.8v0.8h-0.8zM93.8 86.6h0.8v0.8h-0.8zM74.2 77.1h0.8v0.8h-0.8zM89.0 58.8h0.8v0.8h-0.8zM103.2 88.5h0.8v0.8h-0.8zM85.3 79.6h0.8v0.8h-0.8zM62.6 91.4h0.8v0.8h-0.8zM102.3 63.5h0.8v0.8h-0.8zM88.8 55.2h0.8v0.8h-0.8zM72.6 81.3h0.8v0.8h-0.8zM87.4 85.3h0.8v0.8h-0.8zM73.9 61.2h0.8v0.8h-0.8zM99.0 43.7h0.8v0.8h-0.8zM95.1 82.3h0.8v0.8h-0.8zM78.8 61.3h0.8v0.8h-0.8zM73.1 90.9h0.8v0.8h-0.8zM70.8 60.5h0.8v0.8h-0.8zM126.7 79.6h0.8v0.8h-0.8zM98.5 58.0h0.8v0.8h-0.8zM101.0 77.2h0.8v0.8h-0.8zM60.2 61.2h0.8v0.8h-0.8zM74.9 84.3h0.8v0.8h-0.8zM84.8 73.1h0.8v0.8h-0.8zM97.1 46.1h0.8v0.8h-0.8zM78.9 76.8h0.8v0.8h-0.8zM110.1 47.5h0.8v0.8h-0.8zM104.1 65.0h0.8v0.8h-0.8zM64.7 42.9h0.8v0.8h-0.8zM91.4 40.3h0.8v0.8h-0.8zM101.6 48.6h0.8v0.8h-0.8zM86.2 61.0h0.8v0.8h-0.8zM69.8 74.2h0.8v0.8h-0.8zM98.1 81.7h0.8v0.8h-0.8zM65.4 43.5h0.8v0.8h-0.8zM97.5 43.3h0.8v0.8h-0.8zM93.9 81.6h0.8v0.8h-0.8zM95.1 77.1h0.8v0.8h-0.8zM90.6 75.6h0.8v0.8h-0.8zM98.7 73.6h0.8v0.8h-0.8zM76.4 81.6h0.8v0.8h-0.8zM73.8 74.4h0.8v0.8h-0.8zM86.6 60.9h0.8v0.8h-0.8zM78.4 78.5h0.8v0.8h-0.8zM92.8 81.9h0.8v0.8h-0.8zM105.9 68.5h0.8v0.8h-0.8zM100.3 44.4h0.8v0.8h-0.8zM95.6 82.4h0.8v0.8h-0.8zM83.1 79.3h0.8v0.8h-0.8zM96.5 82.3h0.8v0.8h-0.8zM83.6 60.4h0.8v0.8h-0.8zM85.8 83.3h0.8v0.8h-0.8zM94.3 81.1h0.8v0.8h-0.8zM59.6 42.2h0.8v0.8h-0.8zM88.6 59.8h0.8v0.8h-0.8zM105.8 71.5h0.8v0.8h-0.8zM103.0 63.3h0.8v0.8h-0.8zM100.0 41.1h0.8v0.8h-0.8zM91.4 88.8h0.8v0.8h-0.8zM63.6 58.0h0.8v0.8h-0.8zM80.4 81.1h0.8v0.8h-0.8zM97.0 53.8h0.8v0.8h-0.8zM84.1 95.9h0.8v0.8h-0.8zM61.0 82.8h0.8v0.8h-0.8zM64.5 86.1h0.8v0.8h-0.8zM76.6 72.4h0.8v0.8h-0.8zM81.9 64.6h0.8v0.8h-0.8zM98.8 81.4h0.8v0.8h-0.8zM102.1 66.8h0.8v0.8h-0.8zM86.2 58.1h0.8v0.8h-0.8zM74.0 41.9h0.8v0.8h-0.8zM105.4 39.0h0.8v0.8h-0.8zM102.9 69.8h0.8v0.8h-0.8zM91.5 78.1h0.8v0.8h-0.8zM99.4 78.0h0.8v0.8h-0.8zM83.0 77.6h0.8v0.8h-0.8zM77.2 53.2h0.8v0.8h-0.8zM99.1 72.4h0.8v0.8h-0.8zM98.3 83.4h0.8v0.8h-0.8zM73.6 78.1h0.8v0.8h-0.8zM79.8 60.9h0.8v0.8h-0.8zM98.9 70.7h0.8v0.8h-0.8zM72.5 76.0h0.8v0.8h-0.8zM98.8 39.5h0.8v0.8h-0.8zM78.4 60.3h0.8v0.8h-0.8zM61.1 78.4h0.8v0.8h-0.8zM74.7 43.4h0.8v0.8h-0.8zM61.0 53.5h0.8v0.8h-0.8zM119.0 72.8h0.8v0.8h-0.8zM100.7 74.7h0.8v0.8h-0.8zM69.8 82.4h0.8v0.8h-0.8zM84.6 68.0h0.8v0.8h-0.8zM73.6 73.7h0.8v0.8h-0.8zM89.8 60.0h0.8v0.8h-0.8zM68.0 60.2h0.8v0.8h-0.8zM95.4 81.9h0.8v0.8h-0.8zM73.9 82.9h0.8v0.8h-0.8zM97.2 75.8h0.8v0.8h-0.8zM88.5 58.2h0.8v0.8h-0.8zM95.4 80.9h0.8v0.8h-0.8zM80.6 59.0h0.8v0.8h-0.8zM97.7 79.3h0.8v0.8h-0.8zM69.7 80.2h0.8v0.8h-0.8zM79.9 85.7h0.8v0.8h-0.8zM76.7 43.4h0.8v0.8h-0.8zM99.4 54.3h0.8v0.8h-0.8zM71.5 76.0h0.8v0.8h-0.8zM99.1 70.9h0.8v0.8h-0.8zM102.7 64.9h0.8v0.8h-0.8zM99.4 68.5h0.8v0.8h-0.8zM76.4 68.5h0.8v0.8h-0.8zM86.6 85.8h0.8v0.8h-0.8zM92.9 80.5h0.8v0.8h-0.8zM60.3 41.3h0.8v0.8h-0.8zM96.1 81.7h0.8v0.8h-0.8zM65.4 60.5h0.8v0.8h-0.8zM103.9 70.1h0.8v0.8h-0.8zM106.2 45.1h0.8v0.8h-0.8zM80.8 78.9h0.8v0.8h-0.8zM90.9 82.7h0.8v0.8h-0.8zM67.4 60.4h0.8v0.8h-0.8zM72.6 61.4h0.8v0.8h-0.8zM94.2 80.0h0.8v0.8h-0.8zM101.0 76.6h0.8v0.8h-0.8zM71.5 82.6h0.8v0.8h-0.8zM96.2 92.6h0.8v0.8h-0.8zM98.2 82.2h0.8v0.8h-0.8zM75.7 43.2h0.8v0.8h-0.8zM90.6 60.6h0.8v0.8h-0.8zM84.2 73.6h0.8v0.8h-0.8zM76.3 81.4h0.8v0.8h-0.8zM76.0 62.6h0.8v0.8h-0.8zM62.4 60.8h0.8v0.8h-0.8zM79.0 76.7h0.8v0.8h-0.8zM66.3 60.4h0.8v0.8h-0.8zM64.4 80.8h0.8v0.8h-0.8zM97.8 73.4h0.8v0.8h-0.8zM74.9 62.0h0.8v0.8h-0.8zM90.7 79.2h0.8v0.8h-0.8zM78.4 76.1h0.8v0.8h-0.8zM101.4 80.6h0.8v0.8h-0.8zM104.8 82.5h0.8v0.8h-0.8zM68.8 59.5h0.8v0.8h-0.8zM106.9 95.1h0.8v0.8h-0.8zM83.8 56.9h0.8v0.8h-0.8zM86.5 62.3h0.8v0.8h-0.8zM101.6 80.8h0.8v0.8h-0.8zM95.2 78.9h0.8v0.8h-0.8zM99.2 51.7h0.8v0.8h-0.8zM65.6 81.8h0.8v0.8h-0.8zM64.6 42.6h0.8v0.8h-0.8zM88.8 43.6h0.8v0.8h-0.8zM100.1 62.5h0.8v0.8h-0.8zM99.4 77.5h0.8v0.8h-0.8zM67.7 79.0h0.8v0.8h-0.8zM77.6 78.3h0.8v0.8h-0.8zM99.1 72.1h0.8v0.8h-0.8zM64.4 41.2h0.8v0.8h-0.8zM99.8 42.3h0.8v0.8h-0.8zM70.0 79.4h0.8v0.8h-0.8zM91.9 41.2h0.8v0.8h-0.8zM92.9 47.7h0.8v0.8h-0.8zM101.0 61.0h0.8v0.8h-0.8zM65.0 57.7h0.8v0.8h-0.8zM65.6 60.3h0.8v0.8h-0.8zM98.6 73.0h0.8v0.8h-0.8zM77.2 83.1h0.8v0.8h-0.8zM69.8 62.8h0.8v0.8h-0.8zM79.2 61.4h0.8v0.8h-0.8zM90.3 44.8h0.8v0.8h-0.8zM75.2 81.2h0.8v0.8h-0.8zM65.9 84.8h0.8v0.8h-0.8zM71.5 42.2h0.8v0.8h-0.8zM106.5 83.5h0.8v0.8h-0.8zM90.3 71.2h0.8v0.8h-0.8zM63.1 58.5h0.8v0.8h-0.8zM70.4 43.1h0.8v0.8h-0.8zM91.3 56.8h0.8v0.8h-0.8zM61.5 77.0h0.8v0.8h-0.8zM93.9 42.2h0.8v0.8h-0.8zM67.2 85.7h0.8v0.8h-0.8zM94.2 71.2h0.8v0.8h-0.8zM87.1 83.0h0.8v0.8h-0.8zM91.0 78.6h0.8v0.8h-0.8zM72.8 58.5h0.8v0.8h-0.8zM90.6 62.9h0.8v0.8h-0.8zM78.0 89.7h0.8v0.8h-0.8zM66.9 76.4h0.8v0.8h-0.8zM69.6 78.9h0.8v0.8h-0.8zM105.6 53.1h0.8v0.8h-0.8zM108.9 56.2h0.8v0.8h-0.8zM91.9 62.9h0.8v0.8h-0.8zM66.6 61.6h0.8v0.8h-0.8zM74.0 82.3h0.8v0.8h-0.8zM66.8 80.7h0.8v0.8h-0.8zM91.9 57.8h0.8v0.8h-0.8zM64.8 69.8h0.8v0.8h-0.8zM95.4 46.3h0.8v0.8h-0.8zM62.2 77.5h0.8v0.8h-0.8zM64.2 43.5h0.8v0.8h-0.8zM64.2 48.6h0.8v0.8h-0.8zM99.4 85.4h0.8v0.8h-0.8zM96.2 51.8h0.8v0.8h-0.8zM87.4 75.5h0.8v0.8h-0.8zM99.3 39.4h0.8v0.8h-0.8zM97.0 38.1h0.8v0.8h-0.8zM69.9 80.9h0.8v0.8h-0.8zM61.8 58.7h0.8v0.8h-0.8zM84.8 60.4h0.8v0.8h-0.8zM98.9 66.7h0.8v0.8h-0.8zM112.3 62.3h0.8v0.8h-0.8zM62.6 81.7h0.8v0.8h-0.8zM96.8 45.1h0.8v0.8h-0.8zM108.2 46.2h0.8v0.8h-0.8zM74.6 55.6h0.8v0.8h-0.8zM101.5 72.0h0.8v0.8h-0.8zM97.7 58.9h0.8v0.8h-0.8zM69.9 43.5h0.8v0.8h-0.8zM63.8 87.0h0.8v0.8h-0.8zM100.3 43.2h0.8v0.8h-0.8zM77.3 86.0h0.8v0.8h-0.8zM93.9 85.0h0.8v0.8h-0.8zM91.8 74.4h0.8v0.8h-0.8zM61.6 58.8h0.8v0.8h-0.8zM73.8 77.7h0.8v0.8h-0.8zM97.5 44.9h0.8v0.8h-0.8zM93.0 80.0h0.8v0.8h-0.8zM105.9 39.4h0.8v0.8h-0.8zM62.8 57.5h0.8v0.8h-0.8zM70.9 41.7h0.8v0.8h-0.8zM96.1 82.7h0.8v0.8h-0.8zM66.8 41.5h0.8v0.8h-0.8zM102.8 72.2h0.8v0.8h-0.8zM92.8 73.9h0.8v0.8h-0.8zM93.3 82.5h0.8v0.8h-0.8zM101.9 56.6h0.8v0.8h-0.8zM98.0 67.4h0.8v0.8h-0.8zM81.8 80.0h0.8v0.8h-0.8zM76.9 55.8h0.8v0.8h-0.8zM95.3 79.8h0.8v0.8h-0.8zM93.9 43.1h0.8v0.8h-0.8zM97.5 79.2h0.8v0.8h-0.8zM96.4 77.1h0.8v0.8h-0.8zM89.3 46.0h0.8v0.8h-0.8zM76.0 82.4h0.8v0.8h-0.8zM83.6 73.4h0.8v0.8h-0.8zM60.0 45.8h0.8v0.8h-0.8zM94.0 81.0h0.8v0.8h-0.8zM96.8 79.1h0.8v0.8h-0.8zM98.4 75.0h0.8v0.8h-0.8zM105.6 48.1h0.8v0.8h-0.8zM79.0 43.0h0.8v0.8h-0.8zM87.4 73.8h0.8v0.8h-0.8zM101.3 65.1h0.8v0.8h-0.8zM82.5 57.6h0.8v0.8h-0.8zM80.9 79.4h0.8v0.8h-0.8zM97.2 82.1h0.8v0.8h-0.8zM98.9 51.4h0.8v0.8h-0.8zM61.2 42.9h0.8v0.8h-0.8zM72.9 60.0h0.8v0.8h-0.8zM101.8 46.2h0.8v0.8h-0.8zM95.2 41.4h0.8v0.8h-0.8zM87.8 42.9h0.8v0.8h-0.8zM103.9 80.6h0.8v0.8h-0.8zM100.9 57.4h0.8v0.8h-0.8zM90.3 92.7h0.8v0.8h-0.8zM61.6 56.9h0.8v0.8h-0.8zM99.2 60.4h0.8v0.8h-0.8zM91.3 61.0h0.8v0.8h-0.8zM97.8 61.3h0.8v0.8h-0.8zM98.7 42.0h0.8v0.8h-0.8zM104.5 59.7h0.8v0.8h-0.8zM106.7 43.9h0.8v0.8h-0.8zM100.6 79.5h0.8v0.8h-0.8zM78.7 84.5h0.8v0.8h-0.8zM102.3 66.8h0.8v0.8h-0.8zM62.4 58.6h0.8v0.8h-0.8zM109.0 50.3h0.8v0.8h-0.8zM82.9 75.0h0.8v0.8h-0.8zM99.7 77.8h0.8v0.8h-0.8zM63.0 77.1h0.8v0.8h-0.8zM99.2 68.8h0.8v0.8h-0.8zM83.7 88.0h0.8v0.8h-0.8zM109.4 59.6h0.8v0.8h-0.8zM84.5 77.0h0.8v0.8h-0.8zM76.4 60.6h0.8v0.8h-0.8zM72.9 58.8h0.8v0.8h-0.8zM61.4 47.8h0.8v0.8h-0.8zM84.0 60.7h0.8v0.8h-0.8zM61.7 75.7h0.8v0.8h-0.8zM68.7 56.9h0.8v0.8h-0.8zM90.0 80.3h0.8v0.8h-0.8zM79.6 72.1h0.8v0.8h-0.8zM92.7 76.9h0.8v0.8h-0.8zM66.0 83.6h0.8v0.8h-0.8zM98.2 66.3h0.8v0.8h-0.8zM93.6 93.3h0.8v0.8h-0.8zM108.6 52.7h0.8v0.8h-0.8zM91.3 67.1h0.8v0.8h-0.8zM92.1 78.7h0.8v0.8h-0.8zM95.6 78.0h0.8v0.8h-0.8zM75.5 80.2h0.8v0.8h-0.8zM72.8 58.8h0.8v0.8h-0.8zM64.2 51.7h0.8v0.8h-0.8zM97.3 82.5h0.8v0.8h-0.8zM63.0 77.2h0.8v0.8h-0.8zM74.0 83.3h0.8v0.8h-0.8zM64.0 78.9h0.8v0.8h-0.8zM85.2 80.9h0.8v0.8h-0.8zM90.2 41.6h0.8v0.8h-0.8zM64.7 61.6h0.8v0.8h-0.8zM99.7 56.6h0.8v0.8h-0.8zM85.8 81.3h0.8v0.8h-0.8zM74.3 57.2h0.8v0.8h-0.8zM72.7 60.1h0.8v0.8h-0.8zM96.5 53.7h0.8v0.8h-0.8zM106.2 53.2h0.8v0.8h-0.8zM84.8 79.2h0.8v0.8h-0.8zM97.7 39.8h0.8v0.8h-0.8zM62.5 72.3h0.8v0.8h-0.8zM94.1 81.5h0.8v0.8h-0.8zM100.3 55.8h0.8v0.8h-0.8zM72.8 41.4h0.8v0.8h-0.8zM98.4 74.4h0.8v0.8h-0.8zM86.9 81.1h0.8v0.8h-0.8zM98.4 61.2h0.8v0.8h-0.8zM98.5 47.4h0.8v0.8h-0.8zM104.9 73.5h0.8v0.8h-0.8zM106.3 87.5h0.8v0.8h-0.8zM74.5 80.9h0.8v0.8h-0.8zM68.7 57.4h0.8v0.8h-0.8zM62.7 60.8h0.8v0.8h-0.8zM103.3 66.9h0.8v0.8h-0.8zM96.4 76.5h0.8v0.8h-0.8zM94.5 77.7h0.8v0.8h-0.8zM97.1 79.1h0.8v0.8h-0.8zM94.7 82.8h0.8v0.8h-0.8zM102.9 75.5h0.8v0.8h-0.8zM90.8 81.0h0.8v0.8h-0.8zM96.1 83.6h0.8v0.8h-0.8zM89.6 78.8h0.8v0.8h-0.8zM94.9 77.4h0.8v0.8h-0.8zM75.1 61.0h0.8v0.8h-0.8zM64.0 57.0h0.8v0.8h-0.8zM79.0 88.2h0.8v0.8h-0.8zM92.7 79.2h0.8v0.8h-0.8zM86.7 43.6h0.8v0.8h-0.8zM90.8 80.5h0.8v0.8h-0.8zM100.9 61.2h0.8v0.8h-0.8zM104.6 74.2h0.8v0.8h-0.8zM84.7 61.5h0.8v0.8h-0.8zM77.6 83.7h0.8v0.8h-0.8zM77.7 86.3h0.8v0.8h-0.8zM79.8 72.2h0.8v0.8h-0.8zM61.0 81.4h0.8v0.8h-0.8zM82.1 58.7h0.8v0.8h-0.8zM101.7 47.4h0.8v0.8h-0.8zM97.0 77.9h0.8v0.8h-0.8zM103.9 60.2h0.8v0.8h-0.8zM98.0 63.7h0.8v0.8h-0.8zM64.4 74.4h0.8v0.8h-0.8zM104.3 77.4h0.8v0.8h-0.8zM79.3 41.9h0.8v0.8h-0.8zM74.7 75.9h0.8v0.8h-0.8zM94.7 84.0h0.8v0.8h-0.8zM81.3 57.0h0.8v0.8h-0.8zM99.8 52.8h0.8v0.8h-0.8zM101.3 68.2h0.8v0.8h-0.8zM94.3 44.4h0.8v0.8h-0.8zM100.2 62.3h0.8v0.8h-0.8zM108.9 57.5h0.8v0.8h-0.8zM90.5 79.9h0.8v0.8h-0.8zM93.5 82.7h0.8v0.8h-0.8zM68.6 80.2h0.8v0.8h-0.8zM77.6 58.7h0.8v0.8h-0.8zM80.4 60.5h0.8v0.8h-0.8zM59.9 63.2h0.8v0.8h-0.8zM111.5 85.7h0.8v0.8h-0.8zM68.3 79.1h0.8v0.8h-0.8zM100.2 63.0h0.8v0.8h-0.8zM63.1 73.9h0.8v0.8h-0.8zM88.1 80.0h0.8v0.8h-0.8zM87.1 69.2h0.8v0.8h-0.8zM85.2 59.9h0.8v0.8h-0.8zM96.4 75.3h0.8v0.8h-0.8zM111.8 46.0h0.8v0.8h-0.8zM61.8 84.6h0.8v0.8h-0.8zM99.5 41.1h0.8v0.8h-0.8zM65.1 75.8h0.8v0.8h-0.8zM68.3 80.8h0.8v0.8h-0.8zM100.6 78.3h0.8v0.8h-0.8zM110.3 43.3h0.8v0.8h-0.8zM84.2 78.6h0.8v0.8h-0.8zM98.8 53.7h0.8v0.8h-0.8zM60.6 61.6h0.8v0.8h-0.8zM102.8 45.2h0.8v0.8h-0.8zM105.2 64.0h0.8v0.8h-0.8zM108.9 48.9h0.8v0.8h-0.8zM59.4 59.9h0.8v0.8h-0.8zM80.4 43.1h0.8v0.8h-0.8zM102.8 60.6h0.8v0.8h-0.8zM85.1 79.7h0.8v0.8h-0.8zM75.5 60.2h0.8v0.8h-0.8zM97.5 79.8h0.8v0.8h-0.8zM82.8 76.7h0.8v0.8h-0.8zM78.1 81.3h0.8v0.8h-0.8zM91.8 56.4h0.8v0.8h-0.8zM93.4 87.3h0.8v0.8h-0.8zM64.8 80.7h0.8v0.8h-0.8zM60.6 43.0h0.8v0.8h-0.8z" fill="#1a1a1a" fill-opacity="0.6"/>
<path d="M69.3 61.3h0.8v0.8h-0.8zM73.7 82.2h0.8v0.8h-0.8zM63.0 55.1h0.8v0.8h-0.8zM73.4 81.3h0.8v0.8h-0.8zM100.3 64.9h0.8v0.8h-0.8zM98.6 55.3h0.8v0.8h-0.8zM97.1 81.7h0.8v0.8h-0.8zM69.0 85.9h0.8v0.8h-0.8zM91.4 79.2h0.8v0.8h-0.8zM100.0 78.9h0.8v0.8h-0.8zM89.4 74.1h0.8v0.8h-0.8zM98.0 75.8h0.8v0.8h-0.8zM97.8 83.0h0.8v0.8h-0.8zM59.9 50.2h0.8v0.8h-0.8zM96.1 75.9h0.8v0.8h-0.8zM95.7 52.1h0.8v0.8h-0.8zM107.3 66.0h0.8v0.8h-0.8zM91.3 81.9h0.8v0.8h-0.8zM100.5 67.7h0.8v0.8h-0.8zM98.6 61.6h0.8v0.8h-0.8zM85.8 85.2h0.8v0.8h-0.8zM82.5 55.8h0.8v0.8h-0.8zM99.1 72.1h0.8v0.8h-0.8zM106.5 58.1h0.8v0.8h-0.8zM94.0 81.5h0.8v0.8h-0.8zM67.3 84.3h0.8v0.8h-0.8zM60.3 53.4h0.8v0.8h-0.8zM65.6 85.1h0.8v0.8h-0.8zM90.2 52.5h0.8v0.8h-0.8zM95.3 81.7h0.8v0.8h-0.8zM81.4 81.8h0.8v0.8h-0.8zM109.1 34.3h0.8v0.8h-0.8zM104.8 53.8h0.8v0.8h-0.8zM65.3 76.5h0.8v0.8h-0.8zM80.1 56.1h0.8v0.8h-0.8zM80.0 59.4h0.8v0.8h-0.8zM98.6 77.4h0.8v0.8h-0.8zM76.8 91.1h0.8v0.8h-0.8zM100.5 42.6h0.8v0.8h-0.8zM86.3 93.2h0.8v0.8h-0.8zM88.8 77.6h0.8v0.8h-0.8zM80.4 79.0h0.8v0.8h-0.8zM93.2 61.5h0.8v0.8h-0.8zM96.6 83.5h0.8v0.8h-0.8zM61.3 42.4h0.8v0.8h-0.8zM63.6 71.9h0.8v0.8h-0.8zM75.6 43.2h0.8v0.8h-0.8zM97.2 56.7h0.8v0.8h-0.8zM96.6 77.8h0.8v0.8h-0.8zM104.4 43.1h0.8v0.8h-0.8zM79.0 58.5h0.8v0.8h-0.8zM91.1 86.7h0.8v0.8h-0.8zM103.6 36.9h0.8v0.8h-0.8zM96.6 79.1h0.8v0.8h-0.8zM67.0 79.1h0.8v0.8h-0.8zM104.9 79.7h0.8v0.8h-0.8zM103.7 45.7h0.8v0.8h-0.8zM85.7 88.7h0.8v0.8h-0.8zM90.2 52.0h0.8v0.8h-0.8zM96.7 45.8h0.8v0.8h-0.8zM86.6 40.8h0.8v0.8h-0.8zM93.3 38.9h0.8v0.8h-0.8zM109.1 57.4h0.8v0.8h-0.8zM70.4 83.4h0.8v0.8h-0.8zM60.1 77.4h0.8v0.8h-0.8zM60.5 58.9h0.8v0.8h-0.8zM100.1 53.9h0.8v0.8h-0.8zM66.8 40.1h0.8v0.8h-0.8zM91.1 73.0h0.8v0.8h-0.8zM62.7 73.3h0.8v0.8h-0.8zM85.0 61.1h0.8v0.8h-0.8zM103.2 64.3h0.8v0.8h-0.8zM72.5 77.8h0.8v0.8h-0.8zM59.4 74.9h0.8v0.8h-0.8zM59.6 82.8h0.8v0.8h-0.8zM100.7 76.7h0.8v0.8h-0.8zM103.7 55.7h0.8v0.8h-0.8zM87.6 58.3h0.8v0.8h-0.8zM59.3 61.0h0.8v0.8h-0.8zM115.9 68.3h0.8v0.8h-0.8zM94.6 60.6h0.8v0.8h-0.8zM96.8 60.8h0.8v0.8h-0.8zM90.4 58.5h0.8v0.8h-0.8zM60.5 49.3h0.8v0.8h-0.8zM107.2 54.5h0.8v0.8h-0.8zM98.1 40.9h0.8v0.8h-0.8zM73.2 61.0h0.8v0.8h-0.8zM99.6 52.2h0.8v0.8h-0.8zM76.8 59.6h0.8v0.8h-0.8zM79.0 78.3h0.8v0.8h-0.8zM102.3 47.6h0.8v0.8h-0.8zM113.9 54.4h0.8v0.8h-0.8zM68.5 62.6h0.8v0.8h-0.8zM91.3 81.7h0.8v0.8h-0.8zM64.8 88.6h0.8v0.8h-0.8zM88.3 58.2h0.8v0.8h-0.8zM73.7 84.6h0.8v0.8h-0.8zM92.7 88.1h0.8v0.8h-0.8zM61.1 72.5h0.8v0.8h-0.8zM67.0 83.6h0.8v0.8h-0.8zM81.7 81.8h0.8v0.8h-0.8zM85.4 35.7h0.8v0.8h-0.8zM97.2 55.1h0.8v0.8h-0.8zM73.0 90.8h0.8v0.8h-0.8zM86.2 59.0h0.8v0.8h-0.8zM66.5 60.6h0.8v0.8h-0.8zM94.0 47.3h0.8v0.8h-0.8zM95.2 79.2h0.8v0.8h-0.8zM87.6 83.7h0.8v0.8h-0.8zM90.9 48.6h0.8v0.8h-0.8zM67.6 41.9h0.8v0.8h-0.8zM79.2 61.7h0.8v0.8h-0.8zM95.5 79.1h0.8v0.8h-0.8zM90.9 80.1h0.8v0.8h-0.8zM64.4 74.6h0.8v0.8h-0.8zM65.7 80.9h0.8v0.8h-0.8zM79.8 42.3h0.8v0.8h-0.8zM98.2 55.6h0.8v0.8h-0.8zM63.1 77.2h0.8v0.8h-0.8zM100.8 66.6h0.8v0.8h-0.8zM63.0 44.5h0.8v0.8h-0.8zM88.1 81.8h0.8v0.8h-0.8zM68.9 60.5h0.8v0.8h-0.8zM102.4 67.2h0.8v0.8h-0.8zM113.5 54.1h0.8v0.8h-0.8zM59.6 46.8h0.8v0.8h-0.8zM73.2 96.3h0.8v0.8h-0.8zM100.8 72.5h0.8v0.8h-0.8zM66.5 78.6h0.8v0.8h-0.8zM96.2 56.1h0.8v0.8h-0.8zM64.8 57.3h0.8v0.8h-0.8zM101.6 65.2h0.8v0.8h-0.8zM76.7 81.1h0.8v0.8h-0.8zM67.9 58.8h0.8v0.8h-0.8zM81.7 79.1h0.8v0.8h-0.8zM59.5 47.4h0.8v0.8h-0.8zM97.2 75.7h0.8v0.8h-0.8zM71.3 60.4h0.8v0.8h-0.8zM96.7 50.5h0.8v0.8h-0.8zM98.1 95.2h0.8v0.8h-0.8zM63.6 43.1h0.8v0.8h-0.8zM87.3 82.4h0.8v0.8h-0.8zM101.8 61.9h0.8v0.8h-0.8zM86.3 81.9h0.8v0.8h-0.8zM88.2 71.2h0.8v0.8h-0.8zM89.2 59.7h0.8v0.8h-0.8zM101.5 42.8h0.8v0.8h-0.8zM68.3 80.1h0.8v0.8h-0.8zM97.1 82.7h0.8v0.8h-0.8zM60.6 39.9h0.8v0.8h-0.8zM96.7 43.5h0.8v0.8h-0.8zM96.9 35.8h0.8v0.8h-0.8zM109.6 88.7h0.8v0.8h-0.8zM62.0 77.1h0.8v0.8h-0.8zM62.2 46.5h0.8v0.8h-0.8zM106.5 50.5h0.8v0.8h-0.8zM70.9 38.2h0.8v0.8h-0.8zM60.4 81.3h0.8v0.8h-0.8zM98.0 54.5h0.8v0.8h-0.8zM97.8 79.9h0.8v0.8h-0.8zM94.6 79.9h0.8v0.8h-0.8zM115.1 53.4h0.8v0.8h-0.8zM64.6 81.0h0.8v0.8h-0.8zM99.0 76.2h0.8v0.8h-0.8zM86.8 70.7h0.8v0.8h-0.8zM105.3 74.0h0.8v0.8h-0.8zM68.5 82.8h0.8v0.8h-0.8zM78.6 59.1h0.8v0.8h-0.8zM76.7 72.3h0.8v0.8h-0.8zM79.2 42.7h0.8v0.8h-0.8zM97.7 73.4h0.8v0.8h-0.8zM66.2 87.4h0.8v0.8h-0.8zM84.0 79.0h0.8v0.8h-0.8zM92.5 54.5h0.8v0.8h-0.8zM82.7 37.2h0.8v0.8h-0.8zM98.7 78.2h0.8v0.8h-0.8zM81.2 59.5h0.8v0.8h-0.8zM83.1 86.6h0.8v0.8h-0.8zM69.0 77.0h0.8v0.8h-0.8zM87.4 81.4h0.8v0.8h-0.8zM84.6 56.2h0.8v0.8h-0.8zM104.1 41.9h0.8v0.8h-0.8zM78.4 75.4h0.8v0.8h-0.8zM61.0 54.0h0.8v0.8h-0.8zM68.3 58.6h0.8v0.8h-0.8zM104.6 69.5h0.8v0.8h-0.8zM99.4 59.6h0.8v0.8h-0.8zM98.7 70.7h0.8v0.8h-0.8zM98.6 81.0h0.8v0.8h-0.8zM86.2 61.8h0.8v0.8h-0.8zM96.1 59.0h0.8v0.8h-0.8zM95.4 61.4h0.8v0.8h-0.8zM106.2 69.4h0.8v0.8h-0.8zM67.9 81.9h0.8v0.8h-0.8zM101.7 42.2h0.8v0.8h-0.8zM62.2 58.8h0.8v0.8h-0.8zM75.6 85.2h0.8v0.8h-0.8zM97.2 69.0h0.8v0.8h-0.8zM64.4 42.4h0.8v0.8h-0.8zM71.1 79.5h0.8v0.8h-0.8zM76.8 52.8h0.8v0.8h-0.8zM82.3 62.1h0.8v0.8h-0.8zM90.8 60.8h0.8v0.8h-0.8zM96.0 76.9h0.8v0.8h-0.8zM95.5 57.4h0.8v0.8h-0.8zM102.9 80.2h0.8v0.8h-0.8zM95.0 83.6h0.8v0.8h-0.8zM77.7 73.7h0.8v0.8h-0.8zM105.1 52.8h0.8v0.8h-0.8zM59.5 55.9h0.8v0.8h-0.8zM97.3 85.7h0.8v0.8h-0.8zM67.8 82.8h0.8v0.8h-0.8zM81.1 56.7h0.8v0.8h-0.8zM110.9 40.6h0.8v0.8h-0.8zM72.9 41.1h0.8v0.8h-0.8zM92.6 87.7h0.8v0.8h-0.8zM77.8 89.5h0.8v0.8h-0.8zM93.2 75.3h0.8v0.8h-0.8zM71.8 70.2h0.8v0.8h-0.8zM95.3 59.4h0.8v0.8h-0.8zM98.7 72.5h0.8v0.8h-0.8zM72.5 84.1h0.8v0.8h-0.8zM92.2 85.9h0.8v0.8h-0.8zM82.5 60.4h0.8v0.8h-0.8zM107.0 76.5h0.8v0.8h-0.8zM106.0 80.7h0.8v0.8h-0.8zM93.9 82.1h0.8v0.8h-0.8zM61.4 59.7h0.8v0.8h-0.8zM91.8 67.3h0.8v0.8h-0.8zM82.9 61.4h0.8v0.8h-0.8zM93.5 53.9h0.8v0.8h-0.8zM76.7 81.6h0.8v0.8h-0.8zM97.4 48.9h0.8v0.8h-0.8zM99.7 67.9h0.8v0.8h-0.8zM108.7 73.7h0.8v0.8h-0.8zM106.4 72.5h0.8v0.8h-0.8zM63.4 84.6h0.8v0.8h-0.8zM99.1 76.8h0.8v0.8h-0.8zM70.8 82.5h0.8v0.8h-0.8zM80.0 81.6h0.8v0.8h-0.8zM62.1 76.3h0.8v0.8h-0.8zM83.9 79.0h0.8v0.8h-0.8zM96.9 77.8h0.8v0.8h-0.8zM67.0 61.6h0.8v0.8h-0.8zM88.6 73.7h0.8v0.8h-0.8zM92.9 60.3h0.8v0.8h-0.8zM107.7 69.3h0.8v0.8h-0.8zM69.8 92.1h0.8v0.8h-0.8zM85.4 60.2h0.8v0.8h-0.8zM102.7 60.1h0.8v0.8h-0.8zM95.7 76.0h0.8v0.8h-0.8zM90.3 59.9h0.8v0.8h-0.8zM89.6 80.4h0.8v0.8h-0.8zM106.1 47.6h0.8v0.8h-0.8zM90.9 72.0h0.8v0.8h-0.8zM101.8 77.1h0.8v0.8h-0.8zM65.2 60.5h0.8v0.8h-0.8zM66.4 84.9h0.8v0.8h-0.8zM69.6 77.2h0.8v0.8h-0.8zM87.9 76.5h0.8v0.8h-0.8zM95.3 57.7h0.8v0.8h-0.8zM81.5 80.2h0.8v0.8h-0.8zM92.1 55.6h0.8v0.8h-0.8zM80.9 78.3h0.8v0.8h-0.8zM99.1 76.7h0.8v0.8h-0.8zM80.3 61.6h0.8v0.8h-0.8zM94.7 80.7h0.8v0.8h-0.8zM73.6 80.6h0.8v0.8h-0.8zM100.1 73.0h0.8v0.8h-0.8zM100.6 68.6h0.8v0.8h-0.8zM93.6 81.4h0.8v0.8h-0.8zM95.6 78.2h0.8v0.8h-0.8zM81.4 80.9h0.8v0.8h-0.8zM62.2 78.3h0.8v0.8h-0.8zM96.2 84.3h0.8v0.8h-0.8zM98.4 80.8h0.8v0.8h-0.8zM127.9 43.7h0.8v0.8h-0.8zM89.9 43.3h0.8v0.8h-0.8zM106.6 51.7h0.8v0.8h-0.8zM99.7 63.5h0.8v0.8h-0.8zM94.0 80.0h0.8v0.8h-0.8zM60.8 60.1h0.8v0.8h-0.8zM102.8 63.7h0.8v0.8h-0.8zM101.6 46.2h0.8v0.8h-0.8zM66.4 79.5h0.8v0.8h-0.8zM71.1 74.1h0.8v0.8h-0.8zM67.9 81.6h0.8v0.8h-0.8zM96.6 80.0h0.8v0.8h-0.8zM100.4 61.7h0.8v0.8h-0.8zM94.8 87.7h0.8v0.8h-0.8zM99.4 70.8h0.8v0.8h-0.8zM84.1 79.3h0.8v0.8h-0.8zM95.5 60.4h0.8v0.8h-0.8zM81.3 56.4h0.8v0.8h-0.8zM98.5 71.5h0.8v0.8h-0.8zM74.0 82.9h0.8v0.8h-0.8zM98.6 72.4h0.8v0.8h-0.8zM97.5 78.4h0.8v0.8h-0.8zM94.6 61.0h0.8v0.8h-0.8zM102.4 69.7h0.8v0.8h-0.8zM73.1 60.7h0.8v0.8h-0.8zM80.2 79.4h0.8v0.8h-0.8zM100.7 69.6h0.8v0.8h-0.8zM91.8 75.2h0.8v0.8h-0.8zM64.3 91.9h0.8v0.8h-0.8zM61.4 61.0h0.8v0.8h-0.8zM61.9 80.2h0.8v0.8h-0.8zM87.7 82.7h0.8v0.8h-0.8zM69.2 82.0h0.8v0.8h-0.8zM62.3 45.4h0.8v0.8h-0.8zM83.0 79.7h0.8v0.8h-0.8zM93.0 75.2h0.8v0.8h-0.8zM61.5 80.0h0.8v0.8h-0.8zM111.2 62.5h0.8v0.8h-0.8zM79.7 41.9h0.8v0.8h-0.8zM93.9 81.5h0.8v0.8h-0.8zM100.6 67.7h0.8v0.8h-0.8zM98.1 78.1h0.8v0.8h-0.8zM62.4 61.3h0.8v0.8h-0.8zM98.8 65.3h0.8v0.8h-0.8zM106.5 40.9h0.8v0.8h-0.8zM98.0 72.6h0.8v0.8h-0.8zM93.7 82.2h0.8v0.8h-0.8zM76.9 69.4h0.8v0.8h-0.8zM73.0 86.8h0.8v0.8h-0.8zM82.0 87.0h0.8v0.8h-0.8zM107.9 55.0h0.8v0.8h-0.8zM61.4 42.9h0.8v0.8h-0.8zM78.3 60.7h0.8v0.8h-0.8zM99.0 46.3h0.8v0.8h-0.8zM101.7 74.6h0.8v0.8h-0.8zM93.8 65.7h0.8v0.8h-0.8zM71.7 60.9h0.8v0.8h-0.8zM94.5 79.5h0.8v0.8h-0.8zM81.8 42.4h0.8v0.8h-0.8zM90.9 44.2h0.8v0.8h-0.8zM73.5 79.1h0.8v0.8h-0.8zM86.7 67.6h0.8v0.8h-0.8zM84.5 40.1h0.8v0.8h-0.8zM85.0 55.7h0.8v0.8h-0.8zM71.3 60.4h0.8v0.8h-0.8zM69.3 62.2h0.8v0.8h-0.8zM90.5 40.8h0.8v0.8h-0.8zM105.3 69.3h0.8v0.8h-0.8zM101.2 73.3h0.8v0.8h-0.8zM99.5 82.5h0.8v0.8h-0.8zM96.6 75.7h0.8v0.8h-0.8zM99.0 75.3h0.8v0.8h-0.8zM96.8 74.7h0.8v0.8h-0.8zM86.9 83.0h0.8v0.8h-0.8zM72.0 90.3h0.8v0.8h-0.8zM67.9 60.7h0.8v0.8h-0.8zM68.7 43.0h0.8v0.8h-0.8zM96.6 75.3h0.8v0.8h-0.8zM94.9 39.0h0.8v0.8h-0.8zM59.6 82.5h0.8v0.8h-0.8zM76.6 86.9h0.8v0.8h-0.8zM98.2 79.7h0.8v0.8h-0.8zM107.7 65.9h0.8v0.8h-0.8zM71.7 80.4h0.8v0.8h-0.8zM65.0 60.3h0.8v0.8h-0.8zM100.1 66.0h0.8v0.8h-0.8zM102.1 75.3h0.8v0.8h-0.8zM97.3 75.1h0.8v0.8h-0.8zM95.0 82.5h0.8v0.8h-0.8zM80.5 42.7h0.8v0.8h-0.8zM89.6 70.9h0.8v0.8h-0.8zM88.2 59.4h0.8v0.8h-0.8zM106.5 57.6h0.8v0.8h-0.8zM110.8 45.4h0.8v0.8h-0.8zM95.6 80.1h0.8v0.8h-0.8zM74.9 78.0h0.8v0.8h-0.8zM67.5 80.7h0.8v0.8h-0.8zM82.4 74.5h0.8v0.8h-0.8zM62.8 76.5h0.8v0.8h-0.8zM84.0 80.2h0.8v0.8h-0.8zM97.3 40.6h0.8v0.8h-0.8zM109.6 66.1h0.8v0.8h-0.8zM80.4 62.5h0.8v0.8h-0.8zM112.6 58.5h0.8v0.8h-0.8zM89.9 40.7h0.8v0.8h-0.8zM101.2 57.8h0.8v0.8h-0.8zM80.5 84.0h0.8v0.8h-0.8zM107.1 75.1h0.8v0.8h-0.8zM61.6 57.5h0.8v0.8h-0.8zM75.7 61.3h0.8v0.8h-0.8zM101.2 70.5h0.8v0.8h-0.8zM102.5 62.8h0.8v0.8h-0.8zM102.7 63.1h0.8v0.8h-0.8zM71.0 79.3h0.8v0.8h-0.8zM99.4 62.9h0.8v0.8h-0.8zM110.5 51.2h0.8v0.8h-0.8zM99.6 70.8h0.8v0.8h-0.8zM113.2 50.8h0.8v0.8h-0.8zM78.3 76.2h0.8v0.8h-0.8zM104.0 64.6h0.8v0.8h-0.8zM68.2 82.8h0.8v0.8h-0.8zM80.2 87.3h0.8v0.8h-0.8zM65.6 78.4h0.8v0.8h-0.8zM97.9 46.1h0.8v0.8h-0.8zM88.9 76.6h0.8v0.8h-0.8zM71.4 60.4h0.8v0.8h-0.8zM101.4 80.2h0.8v0.8h-0.8zM69.3 82.9h0.8v0.8h-0.8zM72.1 61.5h0.8v0.8h-0.8zM86.6 57.4h0.8v0.8h-0.8zM91.1 53.8h0.8v0.8h-0.8zM71.0 42.6h0.8v0.8h-0.8zM66.5 77.4h0.8v0.8h-0.8zM71.1 61.5h0.8v0.8h-0.8zM91.2 82.9h0.8v0.8h-0.8zM82.7 71.4h0.8v0.8h-0.8zM109.7 53.1h0.8v0.8h-0.8zM79.9 58.8h0.8v0.8h-0.8zM95.6 79.5h0.8v0.8h-0.8zM95.9 47.4h0.8v0.8h-0.8zM112.9 55.7h0.8v0.8h-0.8zM67.3 80.1h0.8v0.8h-0.8zM98.8 49.6h0.8v0.8h-0.8zM81.9 63.8h0.8v0.8h-0.8zM68.0 60.8h0.8v0.8h-0.8zM77.0 83.5h0.8v0.8h-0.8zM99.9 72.4h0.8v0.8h-0.8zM83.3 74.4h0.8v0.8h-0.8zM97.0 89.4h0.8v0.8h-0.8zM79.6 61.5h0.8v0.8h-0.8zM96.7 60.4h0.8v0.8h-0.8zM98.5 51.1h0.8v0.8h-0.8zM79.8 59.3h0.8v0.8h-0.8zM100.3 60.6h0.8v0.8h-0.8zM84.9 63.2h0.8v0.8h-0.8zM92.3 42.9h0.8v0.8h-0.8zM97.8 61.3h0.8v0.8h-0.8zM99.1 75.6h0.8v0.8h-0.8zM95.8 77.6h0.8v0.8h-0.8zM92.4 49.1h0.8v0.8h-0.8zM64.9 57.9h0.8v0.8h-0.8zM103.0 65.9h0.8v0.8h-0.8zM84.1 60.2h0.8v0.8h-0.8zM107.1 58.6h0.8v0.8h-0.8zM114.3 38.9h0.8v0.8h-0.8zM61.3 63.1h0.8v0.8h-0.8zM71.9 59.7h0.8v0.8h-0.8zM89.2 60.8h0.8v0.8h-0.8zM101.3 63.0h0.8v0.8h-0.8zM94.0 79.9h0.8v0.8h-0.8zM97.4 73.7h0.8v0.8h-0.8zM104.9 71.3h0.8v0.8h-0.8zM102.5 66.8h0.8v0.8h-0.8zM100.8 72.0h0.8v0.8h-0.8zM94.5 80.4h0.8v0.8h-0.8zM59.6 60.1h0.8v0.8h-0.8zM76.4 60.8h0.8v0.8h-0.8zM101.9 63.3h0.8v0.8h-0.8zM88.7 63.8h0.8v0.8h-0.8zM93.6 83.5h0.8v0.8h-0.8zM92.2 63.1h0.8v0.8h-0.8zM62.7 77.3h0.8v0.8h-0.8zM99.5 72.7h0.8v0.8h-0.8zM107.1 65.9h0.8v0.8h-0.8zM83.2 78.3h0.8v0.8h-0.8zM96.4 83.0h0.8v0.8h-0.8zM92.0 93.9h0.8v0.8h-0.8zM101.4 67.7h0.8v0.8h-0.8zM84.1 81.2h0.8v0.8h-0.8zM96.8 90.7h0.8v0.8h-0.8zM65.5 85.8h0.8v0.8h-0.8zM65.8 43.0h0.8v0.8h-0.8zM73.1 78.3h0.8v0.8h-0.8zM67.7 63.7h0.8v0.8h-0.8zM95.1 81.8h0.8v0.8h-0.8zM66.1 74.7h0.8v0.8h-0.8zM88.3 72.6h0.8v0.8h-0.8zM101.5 89.9h0.8v0.8h-0.8zM100.6 60.1h0.8v0.8h-0.8zM95.2 79.2h0.8v0.8h-0.8zM99.5 63.1h0.8v0.8h-0.8zM98.3 70.5h0.8v0.8h-0.8zM92.9 83.4h0.8v0.8h-0.8zM71.8 85.1h0.8v0.8h-0.8zM68.8 83.1h0.8v0.8h-0.8zM99.5 45.3h0.8v0.8h-0.8zM100.4 69.1h0.8v0.8h-0.8zM79.5 58.1h0.8v0.8h-0.8zM74.1 57.0h0.8v0.8h-0.8zM61.3 80.6h0.8v0.8h-0.8zM84.7 80.2h0.8v0.8h-0.8zM64.9 70.2h0.8v0.8h-0.8zM62.4 53.0h0.8v0.8h-0.8zM92.0 54.5h0.8v0.8h-0.8zM101.9 65.4h0.8v0.8h-0.8zM105.0 77.5h0.8v0.8h-0.8zM101.4 68.3h0.8v0.8h-0.8zM79.1 59.8h0.8v0.8h-0.8zM95.9 44.4h0.8v0.8h-0.8zM79.6 83.8h0.8v0.8h-0.8zM107.3 71.6h0.8v0.8h-0.8zM85.8 41.8h0.8v0.8h-0.8zM64.7 84.2h0.8v0.8h-0.8zM59.7 76.4h0.8v0.8h-0.8zM95.3 51.1h0.8v0.8h-0.8zM61.9 76.7h0.8v0.8h-0.8zM89.5 55.0h0.8v0.8h-0.8zM81.6 80.7h0.8v0.8h-0.8zM78.0 60.7h0.8v0.8h-0.8zM100.0 46.2h0.8v0.8h-0.8zM94.0 58.1h0.8v0.8h-0.8zM67.6 43.6h0.8v0.8h-0.8zM80.5 80.3h0.8v0.8h-0.8zM106.1 65.5h0.8v0.8h-0.8zM112.0 89.7h0.8v0.8h-0.8zM60.3 74.7h0.8v0.8h-0.8zM75.2 62.9h0.8v0.8h-0.8zM64.1 54.3h0.8v0.8h-0.8zM106.4 73.4h0.8v0.8h-0.8zM97.7 53.2h0.8v0.8h-0.8zM69.2 40.0h0.8v0.8h-0.8zM91.1 32.5h0.8v0.8h-0.8zM87.6 81.5h0.8v0.8h-0.8zM82.4 43.5h0.8v0.8h-0.8zM76.4 61.3h0.8v0.8h-0.8zM97.0 85.3h0.8v0.8h-0.8zM88.3 85.1h0.8v0.8h-0.8zM84.7 80.3h0.8v0.8h-0.8zM104.6 69.5h0.8v0.8h-0.8zM91.9 43.7h0.8v0.8h-0.8zM90.8 81.5h0.8v0.8h-0.8zM100.9 76.3h0.8v0.8h-0.8zM86.0 46.9h0.8v0.8h-0.8zM72.4 37.4h0.8v0.8h-0.8zM72.3 81.9h0.8v0.8h-0.8zM62.1 78.2h0.8v0.8h-0.8zM96.3 49.7h0.8v0.8h-0.8zM86.7 58.0h0.8v0.8h-0.8zM67.4 77.7h0.8v0.8h-0.8zM95.8 80.1h0.8v0.8h-0.8zM101.5 55.7h0.8v0.8h-0.8zM87.3 80.0h0.8v0.8h-0.8zM63.1 77.2h0.8v0.8h-0.8zM89.8 82.2h0.8v0.8h-0.8zM102.7 87.1h0.8v0.8h-0.8zM88.2 60.5h0.8v0.8h-0.8zM96.6 60.4h0.8v0.8h-0.8zM67.9 60.5h0.8v0.8h-0.8zM62.2 51.4h0.8v0.8h-0.8zM71.4 84.5h0.8v0.8h-0.8zM99.2 49.5h0.8v0.8h-0.8zM96.2 63.7h0.8v0.8h-0.8zM117.7 43.1h0.8v0.8h-0.8zM89.3 80.5h0.8v0.8h-0.8zM99.7 76.5h0.8v0.8h-0.8zM62.2 55.2h0.8v0.8h-0.8zM81.1 43.0h0.8v0.8h-0.8zM68.3 90.9h0.8v0.8h-0.8zM95.6 78.2h0.8v0.8h-0.8zM62.4 61.0h0.8v0.8h-0.8zM64.3 42.4h0.8v0.8h-0.8zM105.7 50.2h0.8v0.8h-0.8zM63.3 59.4h0.8v0.8h-0.8zM105.6 66.0h0.8v0.8h-0.8zM66.5 60.4h0.8v0.8h-0.8zM82.9 57.0h0.8v0.8h-0.8zM61.9 85.4h0.8v0.8h-0.8zM99.9 74.8h0.8v0.8h-0.8zM100.9 66.9h0.8v0.8h-0.8zM66.0 82.3h0.8v0.8h-0.8zM72.7 80.3h0.8v0.8h-0.8zM85.9 80.6h0.8v0.8h-0.8zM60.4 79.1h0.8v0.8h-0.8zM61.8 81.3h0.8v0.8h-0.8zM74.4 87.2h0.8v0.8h-0.8zM100.7 52.5h0.8v0.8h-0.8zM94.5 82.0h0.8v0.8h-0.8zM77.7 84.8h0.8v0.8h-0.8zM73.9 60.4h0.8v0.8h-0.8zM73.4 61.4h0.8v0.8h-0.8zM75.4 79.2h0.8v0.8h-0.8zM91.7 42.4h0.8v0.8h-0.8zM72.0 61.1h0.8v0.8h-0.8zM99.5 71.6h0.8v0.8h-0.8zM97.4 73.7h0.8v0.8h-0.8zM97.2 76.3h0.8v0.8h-0.8zM59.9 43.7h0.8v0.8h-0.8zM66.6 57.0h0.8v0.8h-0.8zM78.1 42.3h0.8v0.8h-0.8zM72.5 71.5h0.8v0.8h-0.8zM69.6 80.3h0.8v0.8h-0.8zM87.4 80.4h0.8v0.8h-0.8zM99.1 80.1h0.8v0.8h-0.8zM64.7 41.9h0.8v0.8h-0.8zM99.6 76.1h0.8v0.8h-0.8zM90.1 81.6h0.8v0.8h-0.8zM86.5 77.2h0.8v0.8h-0.8zM102.1 63.9h0.8v0.8h-0.8zM77.8 58.7h0.8v0.8h-0.8zM65.4 83.7h0.8v0.8h-0.8zM101.2 67.2h0.8v0.8h-0.8zM63.4 75.1h0.8v0.8h-0.8zM96.6 77.1h0.8v0.8h-0.8zM89.5 82.4h0.8v0.8h-0.8zM97.0 49.6h0.8v0.8h-0.8zM104.6 76.0h0.8v0.8h-0.8zM98.7 74.1h0.8v0.8h-0.8zM75.4 41.2h0.8v0.8h-0.8zM70.8 72.3h0.8v0.8h-0.8zM63.4 65.8h0.8v0.8h-0.8zM92.0 82.2h0.8v0.8h-0.8zM101.1 60.4h0.8v0.8h-0.8zM60.2 40.1h0.8v0.8h-0.8zM63.2 71.4h0.8v0.8h-0.8zM99.1 71.8h0.8v0.8h-0.8zM102.9 56.5h0.8v0.8h-0.8zM100.0 68.2h0.8v0.8h-0.8zM105.9 54.7h0.8v0.8h-0.8zM74.7 75.7h0.8v0.8h-0.8zM93.0 74.6h0.8v0.8h-0.8zM96.6 75.2h0.8v0.8h-0.8zM88.2 42.9h0.8v0.8h-0.8zM94.9 49.6h0.8v0.8h-0.8zM111.1 54.4h0.8v0.8h-0.8zM110.4 52.3h0.8v0.8h-0.8zM78.9 58.8h0.8v0.8h-0.8zM91.7 79.4h0.8v0.8h-0.8zM88.4 83.1h0.8v0.8h-0.8zM96.0 43.6h0.8v0.8h-0.8zM60.0 53.9h0.8v0.8h-0.8zM63.9 56.9h0.8v0.8h-0.8zM98.7 36.6h0.8v0.8h-0.8zM72.6 60.8h0.8v0.8h-0.8zM78.4 91.4h0.8v0.8h-0.8zM71.8 60.5h0.8v0.8h-0.8zM78.5 60.8h0.8v0.8h-0.8zM66.9 64.6h0.8v0.8h-0.8zM70.6 60.2h0.8v0.8h-0.8zM99.6 76.9h0.8v0.8h-0.8zM95.9 46.8h0.8v0.8h-0.8zM109.9 36.9h0.8v0.8h-0.8zM60.7 61.4h0.8v0.8h-0.8zM92.2 81.1h0.8v0.8h-0.8zM75.2 60.4h0.8v0.8h-0.8zM99.6 66.6h0.8v0.8h-0.8zM94.7 83.0h0.8v0.8h-0.8zM63.0 70.0h0.8v0.8h-0.8zM63.8 51.1h0.8v0.8h-0.8zM97.4 74.6h0.8v0.8h-0.8zM100.4 80.2h0.8v0.8h-0.8zM68.6 76.0h0.8v0.8h-0.8zM98.9 62.7h0.8v0.8h-0.8zM85.5 79.5h0.8v0.8h-0.8zM100.2 61.9h0.8v0.8h-0.8zM102.0 70.7h0.8v0.8h-0.8zM64.4 80.8h0.8v0.8h-0.8zM81.6 61.3h0.8v0.8h-0.8zM69.0 42.2h0.8v0.8h-0.8zM101.3 81.0h0.8v0.8h-0.8zM94.5 81.2h0.8v0.8h-0.8zM60.0 54.4h0.8v0.8h-0.8zM64.2 60.0h0.8v0.8h-0.8zM67.8 79.7h0.8v0.8h-0.8zM82.7 82.7h0.8v0.8h-0.8zM89.5 60.6h0.8v0.8h-0.8zM65.6 52.0h0.8v0.8h-0.8zM76.5 43.3h0.8v0.8h-0.8zM90.1 57.2h0.8v0.8h-0.8zM88.0 83.5h0.8v0.8h-0.8zM87.4 55.9h0.8v0.8h-0.8zM82.7 42.7h0.8v0.8h-0.8zM107.3 46.0h0.8v0.8h-0.8zM68.2 88.8h0.8v0.8h-0.8zM81.8 81.3h0.8v0.8h-0.8zM99.6 57.9h0.8v0.8h-0.8zM104.0 42.8h0.8v0.8h-0.8zM61.1 72.5h0.8v0.8h-0.8zM89.3 56.0h0.8v0.8h-0.8zM80.8 75.8h0.8v0.8h-0.8zM85.2 83.3h0.8v0.8h-0.8zM73.0 77.9h0.8v0.8h-0.8zM61.8 83.0h0.8v0.8h-0.8zM63.3 66.4h0.8v0.8h-0.8zM99.2 77.4h0.8v0.8h-0.8zM99.7 73.3h0.8v0.8h-0.8zM95.4 46.9h0.8v0.8h-0.8zM101.4 56.9h0.8v0.8h-0.8zM100.1 77.0h0.8v0.8h-0.8zM107.6 42.4h0.8v0.8h-0.8zM77.8 80.0h0.8v0.8h-0.8zM71.7 82.5h0.8v0.8h-0.8zM60.6 80.5h0.8v0.8h-0.8zM80.1 70.6h0.8v0.8h-0.8zM110.2 58.5h0.8v0.8h-0.8zM95.0 78.2h0.8v0.8h-0.8zM85.4 80.7h0.8v0.8h-0.8zM90.0 55.5h0.8v0.8h-0.8zM80.7 81.5h0.8v0.8h-0.8zM88.0 43.4h0.8v0.8h-0.8zM64.2 74.5h0.8v0.8h-0.8zM75.8 61.5h0.8v0.8h-0.8zM77.3 78.0h0.8v0.8h-0.8zM79.6 60.3h0.8v0.8h-0.8z" fill="#444" fill-opacity="0.55"/>
<path d="M91.5 161.2h0.8v0.8h-0.8zM94.6 145.0h0.8v0.8h-0.8zM73.7 150.5h0.8v0.8h-0.8zM60.3 134.8h0.8v0.8h-0.8zM95.2 165.0h0.8v0.8h-0.8zM84.6 161.9h0.8v0.8h-0.8zM109.3 150.7h0.8v0.8h-0.8zM85.8 165.3h0.8v0.8h-0.8zM98.5 165.2h0.8v0.8h-0.8zM90.6 168.0h0.8v0.8h-0.8zM107.2 164.5h0.8v0.8h-0.8zM69.6 168.8h0.8v0.8h-0.8zM90.7 155.9h0.8v0.8h-0.8zM89.6 147.4h0.8v0.8h-0.8zM79.9 159.4h0.8v0.8h-0.8zM66.7 167.9h0.8v0.8h-0.8zM80.9 155.8h0.8v0.8h-0.8zM76.5 156.1h0.8v0.8h-0.8zM95.7 157.3h0.8v0.8h-0.8zM93.8 163.5h0.8v0.8h-0.8zM83.8 144.5h0.8v0.8h-0.8zM89.7 166.0h0.8v0.8h-0.8zM99.2 143.6h0.8v0.8h-0.8zM86.2 164.6h0.8v0.8h-0.8zM79.6 158.0h0.8v0.8h-0.8zM77.6 141.6h0.8v0.8h-0.8zM99.0 142.4h0.8v0.8h-0.8zM62.7 170.9h0.8v0.8h-0.8zM66.9 165.3h0.8v0.8h-0.8zM95.3 165.3h0.8v0.8h-0.8zM74.8 166.9h0.8v0.8h-0.8zM65.6 146.2h0.8v0.8h-0.8zM96.3 165.0h0.8v0.8h-0.8zM65.0 166.1h0.8v0.8h-0.8zM72.1 155.9h0.8v0.8h-0.8zM106.7 126.6h0.8v0.8h-0.8zM93.2 168.6h0.8v0.8h-0.8zM64.8 171.5h0.8v0.8h-0.8zM89.8 169.5h0.8v0.8h-0.8zM107.9 128.5h0.8v0.8h-0.8zM70.2 157.6h0.8v0.8h-0.8zM105.4 164.9h0.8v0.8h-0.8zM97.6 171.4h0.8v0.8h-0.8zM69.3 163.0h0.8v0.8h-0.8zM63.1 146.5h0.8v0.8h-0.8zM64.1 145.3h0.8v0.8h-0.8zM78.1 172.0h0.8v0.8h-0.8zM97.5 164.7h0.8v0.8h-0.8zM68.7 144.2h0.8v0.8h-0.8zM98.2 164.9h0.8v0.8h-0.8zM91.7 162.5h0.8v0.8h-0.8zM86.2 124.7h0.8v0.8h-0.8zM110.4 157.0h0.8v0.8h-0.8zM65.4 165.6h0.8v0.8h-0.8zM83.2 142.5h0.8v0.8h-0.8zM105.3 144.2h0.8v0.8h-0.8zM94.9 144.9h0.8v0.8h-0.8zM96.9 147.3h0.8v0.8h-0.8zM62.2 126.1h0.8v0.8h-0.8zM95.1 166.7h0.8v0.8h-0.8zM72.5 167.6h0.8v0.8h-0.8zM100.7 167.1h0.8v0.8h-0.8zM85.6 159.5h0.8v0.8h-0.8zM62.7 158.0h0.8v0.8h-0.8zM100.1 175.7h0.8v0.8h-0.8zM63.1 160.5h0.8v0.8h-0.8zM101.4 172.2h0.8v0.8h-0.8zM101.2 150.4h0.8v0.8h-0.8zM94.4 118.3h0.8v0.8h-0.8zM74.7 163.6h0.8v0.8h-0.8zM97.0 140.5h0.8v0.8h-0.8zM68.0 162.6h0.8v0.8h-0.8zM106.1 127.2h0.8v0.8h-0.8zM95.9 163.8h0.8v0.8h-0.8zM71.3 156.9h0.8v0.8h-0.8zM84.2 167.8h0.8v0.8h-0.8zM99.5 159.1h0.8v0.8h-0.8zM99.2 159.6h0.8v0.8h-0.8zM70.3 161.5h0.8v0.8h-0.8zM85.5 123.9h0.8v0.8h-0.8zM77.7 161.4h0.8v0.8h-0.8zM86.1 161.4h0.8v0.8h-0.8zM93.7 143.6h0.8v0.8h-0.8zM74.7 163.4h0.8v0.8h-0.8zM75.4 166.7h0.8v0.8h-0.8zM97.5 135.1h0.8v0.8h-0.8zM98.3 144.2h0.8v0.8h-0.8zM68.6 173.9h0.8v0.8h-0.8zM96.5 166.1h0.8v0.8h-0.8zM91.9 126.3h0.8v0.8h-0.8zM100.1 157.5h0.8v0.8h-0.8zM110.0 169.0h0.8v0.8h-0.8zM68.2 121.6h0.8v0.8h-0.8zM62.3 151.3h0.8v0.8h-0.8zM96.2 130.1h0.8v0.8h-0.8zM85.6 144.7h0.8v0.8h-0.8zM66.0 150.8h0.8v0.8h-0.8zM99.3 133.8h0.8v0.8h-0.8zM105.1 162.8h0.8v0.8h-0.8zM109.5 173.4h0.8v0.8h-0.8zM101.8 151.3h0.8v0.8h-0.8zM81.3 171.7h0.8v0.8h-0.8zM104.4 134.9h0.8v0.8h-0.8zM60.3 166.3h0.8v0.8h-0.8zM82.6 146.9h0.8v0.8h-0.8zM74.5 165.7h0.8v0.8h-0.8zM100.5 161.7h0.8v0.8h-0.8zM84.5 163.4h0.8v0.8h-0.8zM103.9 145.4h0.8v0.8h-0.8zM85.5 123.5h0.8v0.8h-0.8zM106.4 139.4h0.8v0.8h-0.8zM60.9 145.3h0.8v0.8h-0.8zM72.3 162.9h0.8v0.8h-0.8zM76.7 156.6h0.8v0.8h-0.8zM87.0 140.1h0.8v0.8h-0.8zM70.3 159.1h0.8v0.8h-0.8zM83.9 161.2h0.8v0.8h-0.8zM73.7 126.5h0.8v0.8h-0.8zM68.6 173.2h0.8v0.8h-0.8zM109.0 157.5h0.8v0.8h-0.8zM95.9 163.9h0.8v0.8h-0.8zM73.3 143.7h0.8v0.8h-0.8zM72.2 141.7h0.8v0.8h-0.8zM94.0 161.2h0.8v0.8h-0.8zM59.8 167.8h0.8v0.8h-0.8zM82.2 168.0h0.8v0.8h-0.8zM71.9 145.7h0.8v0.8h-0.8zM65.4 176.1h0.8v0.8h-0.8zM72.4 170.5h0.8v0.8h-0.8zM91.3 169.4h0.8v0.8h-0.8zM86.4 161.4h0.8v0.8h-0.8zM77.6 162.4h0.8v0.8h-0.8zM64.8 132.3h0.8v0.8h-0.8zM112.2 175.9h0.8v0.8h-0.8zM80.6 167.9h0.8v0.8h-0.8zM104.5 128.1h0.8v0.8h-0.8zM76.1 143.8h0.8v0.8h-0.8zM65.7 154.7h0.8v0.8h-0.8zM82.4 165.7h0.8v0.8h-0.8zM93.7 139.9h0.8v0.8h-0.8zM60.0 170.3h0.8v0.8h-0.8zM110.5 174.6h0.8v0.8h-0.8zM60.1 130.0h0.8v0.8h-0.8zM107.9 158.6h0.8v0.8h-0.8zM64.7 146.2h0.8v0.8h-0.8zM92.7 177.9h0.8v0.8h-0.8zM70.5 163.5h0.8v0.8h-0.8zM99.7 132.6h0.8v0.8h-0.8zM94.9 168.0h0.8v0.8h-0.8zM81.6 167.4h0.8v0.8h-0.8zM81.7 143.4h0.8v0.8h-0.8zM97.6 137.0h0.8v0.8h-0.8zM88.7 165.7h0.8v0.8h-0.8zM101.3 151.5h0.8v0.8h-0.8zM74.0 144.4h0.8v0.8h-0.8zM106.8 137.9h0.8v0.8h-0.8zM67.0 161.7h0.8v0.8h-0.8zM108.4 126.1h0.8v0.8h-0.8zM59.4 133.4h0.8v0.8h-0.8zM87.8 146.3h0.8v0.8h-0.8zM87.2 162.4h0.8v0.8h-0.8zM97.7 124.9h0.8v0.8h-0.8zM73.1 151.6h0.8v0.8h-0.8zM60.4 164.6h0.8v0.8h-0.8zM74.5 148.2h0.8v0.8h-0.8zM100.3 163.4h0.8v0.8h-0.8zM85.5 163.2h0.8v0.8h-0.8zM66.8 144.3h0.8v0.8h-0.8zM106.8 161.2h0.8v0.8h-0.8zM72.6 140.3h0.8v0.8h-0.8zM100.5 164.3h0.8v0.8h-0.8zM96.7 124.6h0.8v0.8h-0.8zM88.9 172.1h0.8v0.8h-0.8zM110.2 150.4h0.8v0.8h-0.8zM106.2 171.6h0.8v0.8h-0.8zM111.8 157.3h0.8v0.8h-0.8zM106.4 147.9h0.8v0.8h-0.8zM64.1 169.2h0.8v0.8h-0.8zM61.4 167.7h0.8v0.8h-0.8zM94.1 166.6h0.8v0.8h-0.8zM70.8 173.9h0.8v0.8h-0.8zM94.2 164.0h0.8v0.8h-0.8zM74.5 160.7h0.8v0.8h-0.8zM96.6 163.8h0.8v0.8h-0.8zM88.4 164.5h0.8v0.8h-0.8zM63.3 145.4h0.8v0.8h-0.8zM87.1 179.2h0.8v0.8h-0.8zM84.9 156.5h0.8v0.8h-0.8zM73.3 160.7h0.8v0.8h-0.8zM87.4 169.5h0.8v0.8h-0.8zM71.4 125.9h0.8v0.8h-0.8zM100.1 163.6h0.8v0.8h-0.8zM61.3 161.9h0.8v0.8h-0.8zM97.1 129.2h0.8v0.8h-0.8zM99.4 126.9h0.8v0.8h-0.8zM90.3 156.6h0.8v0.8h-0.8zM62.8 150.1h0.8v0.8h-0.8zM88.4 169.3h0.8v0.8h-0.8zM103.7 176.1h0.8v0.8h-0.8zM73.1 143.1h0.8v0.8h-0.8zM96.2 164.6h0.8v0.8h-0.8zM90.7 153.5h0.8v0.8h-0.8zM74.7 161.6h0.8v0.8h-0.8zM90.1 157.4h0.8v0.8h-0.8zM95.3 139.8h0.8v0.8h-0.8zM71.6 162.2h0.8v0.8h-0.8zM106.1 128.8h0.8v0.8h-0.8zM83.2 172.6h0.8v0.8h-0.8zM96.2 159.9h0.8v0.8h-0.8zM72.3 165.1h0.8v0.8h-0.8zM71.6 166.3h0.8v0.8h-0.8zM64.0 167.0h0.8v0.8h-0.8zM105.6 174.9h0.8v0.8h-0.8zM110.3 162.7h0.8v0.8h-0.8zM77.1 168.4h0.8v0.8h-0.8zM87.6 154.9h0.8v0.8h-0.8zM91.6 159.9h0.8v0.8h-0.8zM73.9 161.7h0.8v0.8h-0.8zM71.5 166.2h0.8v0.8h-0.8zM62.0 126.7h0.8v0.8h-0.8zM83.2 166.9h0.8v0.8h-0.8zM105.6 161.1h0.8v0.8h-0.8zM95.5 167.0h0.8v0.8h-0.8zM100.7 160.3h0.8v0.8h-0.8zM101.0 176.0h0.8v0.8h-0.8zM92.1 166.0h0.8v0.8h-0.8zM110.6 151.7h0.8v0.8h-0.8zM66.6 169.4h0.8v0.8h-0.8zM65.0 169.2h0.8v0.8h-0.8zM95.3 141.7h0.8v0.8h-0.8zM109.4 159.9h0.8v0.8h-0.8zM86.9 142.7h0.8v0.8h-0.8zM80.7 142.7h0.8v0.8h-0.8zM81.0 145.9h0.8v0.8h-0.8zM77.1 167.6h0.8v0.8h-0.8zM74.8 162.9h0.8v0.8h-0.8zM63.4 126.0h0.8v0.8h-0.8zM101.0 141.8h0.8v0.8h-0.8zM87.3 162.3h0.8v0.8h-0.8zM89.5 127.0h0.8v0.8h-0.8zM95.7 143.7h0.8v0.8h-0.8zM82.9 163.4h0.8v0.8h-0.8zM77.1 151.9h0.8v0.8h-0.8zM81.3 163.5h0.8v0.8h-0.8zM101.3 163.1h0.8v0.8h-0.8zM64.2 166.3h0.8v0.8h-0.8zM86.9 162.2h0.8v0.8h-0.8zM102.5 151.0h0.8v0.8h-0.8zM65.1 133.8h0.8v0.8h-0.8zM70.0 126.5h0.8v0.8h-0.8zM100.7 147.0h0.8v0.8h-0.8zM106.1 159.7h0.8v0.8h-0.8zM109.5 155.1h0.8v0.8h-0.8zM104.8 166.0h0.8v0.8h-0.8zM83.4 139.7h0.8v0.8h-0.8zM74.9 124.9h0.8v0.8h-0.8zM74.6 158.5h0.8v0.8h-0.8zM114.5 155.6h0.8v0.8h-0.8zM114.4 153.4h0.8v0.8h-0.8zM60.2 134.4h0.8v0.8h-0.8zM97.8 124.3h0.8v0.8h-0.8zM105.9 163.4h0.8v0.8h-0.8zM103.0 146.2h0.8v0.8h-0.8zM100.9 128.7h0.8v0.8h-0.8zM85.0 164.1h0.8v0.8h-0.8zM97.4 170.1h0.8v0.8h-0.8zM63.5 157.9h0.8v0.8h-0.8zM64.1 167.0h0.8v0.8h-0.8zM96.6 133.3h0.8v0.8h-0.8zM75.2 166.6h0.8v0.8h-0.8zM62.9 162.2h0.8v0.8h-0.8zM93.1 125.6h0.8v0.8h-0.8zM83.0 155.0h0.8v0.8h-0.8zM96.1 160.7h0.8v0.8h-0.8zM82.9 169.6h0.8v0.8h-0.8zM93.1 171.6h0.8v0.8h-0.8zM62.1 150.8h0.8v0.8h-0.8zM63.5 169.9h0.8v0.8h-0.8zM74.6 165.2h0.8v0.8h-0.8zM91.0 145.2h0.8v0.8h-0.8zM60.2 164.9h0.8v0.8h-0.8zM75.6 167.5h0.8v0.8h-0.8zM104.3 153.2h0.8v0.8h-0.8zM98.4 143.3h0.8v0.8h-0.8zM69.5 145.2h0.8v0.8h-0.8zM91.1 143.2h0.8v0.8h-0.8zM79.1 178.2h0.8v0.8h-0.8zM106.7 146.6h0.8v0.8h-0.8zM82.5 171.7h0.8v0.8h-0.8zM109.1 137.9h0.8v0.8h-0.8zM70.1 166.1h0.8v0.8h-0.8zM80.2 163.6h0.8v0.8h-0.8zM82.7 141.8h0.8v0.8h-0.8zM61.2 163.4h0.8v0.8h-0.8zM83.9 160.4h0.8v0.8h-0.8zM94.0 165.8h0.8v0.8h-0.8zM71.9 125.6h0.8v0.8h-0.8zM92.7 168.4h0.8v0.8h-0.8zM99.7 127.4h0.8v0.8h-0.8zM83.1 143.4h0.8v0.8h-0.8zM109.3 154.6h0.8v0.8h-0.8zM86.4 159.8h0.8v0.8h-0.8zM109.7 163.1h0.8v0.8h-0.8zM90.1 162.1h0.8v0.8h-0.8zM80.7 158.6h0.8v0.8h-0.8zM85.3 175.3h0.8v0.8h-0.8zM81.5 144.6h0.8v0.8h-0.8zM73.8 162.4h0.8v0.8h-0.8zM99.5 170.8h0.8v0.8h-0.8zM112.2 135.2h0.8v0.8h-0.8zM86.7 170.1h0.8v0.8h-0.8zM100.7 175.3h0.8v0.8h-0.8zM96.5 126.4h0.8v0.8h-0.8zM84.5 177.1h0.8v0.8h-0.8zM103.6 177.0h0.8v0.8h-0.8zM98.8 136.2h0.8v0.8h-0.8zM68.6 162.8h0.8v0.8h-0.8zM94.8 132.9h0.8v0.8h-0.8zM88.6 159.0h0.8v0.8h-0.8zM83.6 175.8h0.8v0.8h-0.8zM87.6 144.2h0.8v0.8h-0.8zM77.4 126.5h0.8v0.8h-0.8zM80.7 140.9h0.8v0.8h-0.8zM79.4 160.5h0.8v0.8h-0.8zM98.6 145.1h0.8v0.8h-0.8zM76.8 167.1h0.8v0.8h-0.8zM77.7 156.9h0.8v0.8h-0.8zM66.4 123.7h0.8v0.8h-0.8zM79.3 157.9h0.8v0.8h-0.8zM66.2 161.2h0.8v0.8h-0.8zM97.1 162.2h0.8v0.8h-0.8zM100.4 143.9h0.8v0.8h-0.8zM74.6 163.1h0.8v0.8h-0.8zM113.1 166.8h0.8v0.8h-0.8zM61.6 126.2h0.8v0.8h-0.8zM95.5 162.8h0.8v0.8h-0.8zM67.2 127.0h0.8v0.8h-0.8zM106.7 169.1h0.8v0.8h-0.8zM92.2 156.1h0.8v0.8h-0.8zM61.2 140.6h0.8v0.8h-0.8zM63.8 142.9h0.8v0.8h-0.8zM60.1 164.5h0.8v0.8h-0.8zM100.2 175.0h0.8v0.8h-0.8zM65.5 145.6h0.8v0.8h-0.8zM81.5 141.6h0.8v0.8h-0.8zM108.3 140.6h0.8v0.8h-0.8zM100.5 146.8h0.8v0.8h-0.8zM59.9 158.5h0.8v0.8h-0.8zM97.4 177.2h0.8v0.8h-0.8zM108.4 153.8h0.8v0.8h-0.8zM68.4 126.7h0.8v0.8h-0.8zM110.1 139.1h0.8v0.8h-0.8zM61.8 161.2h0.8v0.8h-0.8zM88.4 124.7h0.8v0.8h-0.8zM70.3 150.3h0.8v0.8h-0.8zM90.3 145.4h0.8v0.8h-0.8zM64.3 174.4h0.8v0.8h-0.8zM78.1 152.5h0.8v0.8h-0.8zM93.0 144.2h0.8v0.8h-0.8zM60.4 134.5h0.8v0.8h-0.8zM100.3 158.7h0.8v0.8h-0.8zM89.2 166.5h0.8v0.8h-0.8zM100.8 174.5h0.8v0.8h-0.8zM99.3 143.6h0.8v0.8h-0.8zM94.7 140.5h0.8v0.8h-0.8zM97.9 129.5h0.8v0.8h-0.8zM85.4 159.7h0.8v0.8h-0.8zM91.3 152.6h0.8v0.8h-0.8zM88.5 164.6h0.8v0.8h-0.8zM90.2 162.5h0.8v0.8h-0.8zM82.7 162.4h0.8v0.8h-0.8zM90.4 157.9h0.8v0.8h-0.8zM101.3 168.3h0.8v0.8h-0.8zM93.9 137.1h0.8v0.8h-0.8zM71.5 174.0h0.8v0.8h-0.8zM83.0 160.9h0.8v0.8h-0.8zM63.4 164.1h0.8v0.8h-0.8zM77.9 142.4h0.8v0.8h-0.8zM97.9 136.2h0.8v0.8h-0.8zM80.1 167.0h0.8v0.8h-0.8zM104.7 135.9h0.8v0.8h-0.8zM107.3 156.8h0.8v0.8h-0.8zM93.6 171.6h0.8v0.8h-0.8zM103.2 175.5h0.8v0.8h-0.8zM69.5 171.6h0.8v0.8h-0.8zM81.4 147.6h0.8v0.8h-0.8zM133.3 150.6h0.8v0.8h-0.8zM94.8 172.2h0.8v0.8h-0.8zM98.4 126.8h0.8v0.8h-0.8zM83.0 156.3h0.8v0.8h-0.8zM89.0 145.1h0.8v0.8h-0.8zM100.9 156.2h0.8v0.8h-0.8zM76.1 125.5h0.8v0.8h-0.8zM82.3 160.5h0.8v0.8h-0.8zM97.8 161.9h0.8v0.8h-0.8zM89.2 166.3h0.8v0.8h-0.8zM72.0 147.0h0.8v0.8h-0.8zM97.0 141.9h0.8v0.8h-0.8zM69.9 160.7h0.8v0.8h-0.8zM88.2 145.3h0.8v0.8h-0.8zM93.1 164.6h0.8v0.8h-0.8zM77.2 162.8h0.8v0.8h-0.8zM94.2 143.8h0.8v0.8h-0.8zM62.1 165.9h0.8v0.8h-0.8zM89.5 163.4h0.8v0.8h-0.8zM76.4 160.8h0.8v0.8h-0.8zM93.0 161.1h0.8v0.8h-0.8zM100.7 162.1h0.8v0.8h-0.8zM85.1 139.0h0.8v0.8h-0.8zM72.5 163.5h0.8v0.8h-0.8zM84.3 143.1h0.8v0.8h-0.8zM99.3 130.9h0.8v0.8h-0.8zM86.6 166.5h0.8v0.8h-0.8zM88.4 157.4h0.8v0.8h-0.8zM101.3 153.9h0.8v0.8h-0.8zM81.6 169.7h0.8v0.8h-0.8zM99.7 137.3h0.8v0.8h-0.8zM108.8 156.6h0.8v0.8h-0.8zM88.0 159.5h0.8v0.8h-0.8zM74.9 166.0h0.8v0.8h-0.8zM107.1 156.1h0.8v0.8h-0.8zM92.8 161.0h0.8v0.8h-0.8zM69.6 144.0h0.8v0.8h-0.8zM106.9 134.4h0.8v0.8h-0.8zM80.5 166.2h0.8v0.8h-0.8zM88.2 124.3h0.8v0.8h-0.8zM101.0 141.5h0.8v0.8h-0.8zM80.0 141.0h0.8v0.8h-0.8zM110.5 167.1h0.8v0.8h-0.8zM82.5 139.9h0.8v0.8h-0.8zM90.8 126.9h0.8v0.8h-0.8zM96.9 132.8h0.8v0.8h-0.8zM109.0 160.7h0.8v0.8h-0.8zM106.5 168.8h0.8v0.8h-0.8zM63.4 170.0h0.8v0.8h-0.8zM106.2 161.3h0.8v0.8h-0.8zM84.9 170.0h0.8v0.8h-0.8zM95.9 132.4h0.8v0.8h-0.8zM86.6 145.1h0.8v0.8h-0.8zM96.9 144.3h0.8v0.8h-0.8zM107.3 163.7h0.8v0.8h-0.8zM71.8 159.8h0.8v0.8h-0.8zM95.2 165.7h0.8v0.8h-0.8zM105.8 161.2h0.8v0.8h-0.8zM78.5 166.9h0.8v0.8h-0.8zM71.0 126.8h0.8v0.8h-0.8zM113.6 125.4h0.8v0.8h-0.8zM95.6 138.4h0.8v0.8h-0.8zM70.4 166.2h0.8v0.8h-0.8zM93.5 141.4h0.8v0.8h-0.8zM91.5 141.1h0.8v0.8h-0.8zM102.6 162.2h0.8v0.8h-0.8zM99.7 159.6h0.8v0.8h-0.8zM94.3 179.8h0.8v0.8h-0.8zM75.9 164.0h0.8v0.8h-0.8zM104.9 131.2h0.8v0.8h-0.8zM99.8 172.8h0.8v0.8h-0.8zM97.1 160.6h0.8v0.8h-0.8zM61.8 144.7h0.8v0.8h-0.8zM110.0 170.2h0.8v0.8h-0.8zM105.4 140.4h0.8v0.8h-0.8zM76.6 140.2h0.8v0.8h-0.8zM71.3 167.1h0.8v0.8h-0.8zM95.3 173.6h0.8v0.8h-0.8zM93.8 161.4h0.8v0.8h-0.8zM88.1 177.7h0.8v0.8h-0.8zM61.6 126.6h0.8v0.8h-0.8zM102.1 173.0h0.8v0.8h-0.8zM100.6 150.2h0.8v0.8h-0.8zM83.3 170.8h0.8v0.8h-0.8zM91.8 162.8h0.8v0.8h-0.8zM79.5 166.9h0.8v0.8h-0.8zM80.3 142.4h0.8v0.8h-0.8zM79.8 168.8h0.8v0.8h-0.8zM103.7 142.3h0.8v0.8h-0.8zM110.5 151.0h0.8v0.8h-0.8zM99.3 162.8h0.8v0.8h-0.8zM79.4 160.7h0.8v0.8h-0.8zM69.8 166.1h0.8v0.8h-0.8zM82.2 144.8h0.8v0.8h-0.8zM96.6 164.2h0.8v0.8h-0.8zM100.1 131.9h0.8v0.8h-0.8zM61.0 157.5h0.8v0.8h-0.8zM103.5 161.6h0.8v0.8h-0.8zM83.1 150.7h0.8v0.8h-0.8zM102.9 172.4h0.8v0.8h-0.8zM106.5 132.6h0.8v0.8h-0.8zM86.7 177.2h0.8v0.8h-0.8zM105.0 173.0h0.8v0.8h-0.8zM67.6 158.8h0.8v0.8h-0.8zM101.3 147.7h0.8v0.8h-0.8zM105.7 160.6h0.8v0.8h-0.8zM91.3 165.9h0.8v0.8h-0.8zM107.9 168.4h0.8v0.8h-0.8zM94.5 167.8h0.8v0.8h-0.8zM84.3 125.6h0.8v0.8h-0.8zM74.9 159.0h0.8v0.8h-0.8zM71.7 142.3h0.8v0.8h-0.8zM99.1 180.3h0.8v0.8h-0.8zM74.5 175.8h0.8v0.8h-0.8zM85.8 163.3h0.8v0.8h-0.8zM82.2 167.8h0.8v0.8h-0.8zM97.6 165.3h0.8v0.8h-0.8zM86.2 169.3h0.8v0.8h-0.8zM73.6 170.3h0.8v0.8h-0.8zM84.9 164.0h0.8v0.8h-0.8zM98.4 129.5h0.8v0.8h-0.8zM112.1 155.0h0.8v0.8h-0.8zM77.4 143.5h0.8v0.8h-0.8zM92.3 143.4h0.8v0.8h-0.8zM60.4 134.7h0.8v0.8h-0.8zM104.7 132.7h0.8v0.8h-0.8zM61.3 164.9h0.8v0.8h-0.8zM63.6 162.0h0.8v0.8h-0.8zM80.6 162.4h0.8v0.8h-0.8zM94.7 157.3h0.8v0.8h-0.8zM93.2 161.6h0.8v0.8h-0.8zM88.9 169.8h0.8v0.8h-0.8zM80.4 167.7h0.8v0.8h-0.8zM68.6 166.2h0.8v0.8h-0.8zM74.9 166.4h0.8v0.8h-0.8zM93.4 163.3h0.8v0.8h-0.8zM82.1 167.3h0.8v0.8h-0.8zM61.8 132.6h0.8v0.8h-0.8zM100.3 150.5h0.8v0.8h-0.8zM68.9 156.9h0.8v0.8h-0.8zM72.9 142.7h0.8v0.8h-0.8zM92.4 160.3h0.8v0.8h-0.8zM107.4 130.1h0.8v0.8h-0.8zM69.6 158.4h0.8v0.8h-0.8zM73.9 163.5h0.8v0.8h-0.8zM105.0 136.8h0.8v0.8h-0.8zM99.4 137.0h0.8v0.8h-0.8zM98.2 177.3h0.8v0.8h-0.8zM77.4 143.2h0.8v0.8h-0.8zM99.3 170.4h0.8v0.8h-0.8zM68.8 125.6h0.8v0.8h-0.8zM90.6 154.9h0.8v0.8h-0.8zM100.8 160.3h0.8v0.8h-0.8zM90.8 163.5h0.8v0.8h-0.8zM67.2 142.5h0.8v0.8h-0.8zM82.0 163.0h0.8v0.8h-0.8zM67.7 126.5h0.8v0.8h-0.8zM108.0 155.1h0.8v0.8h-0.8zM69.4 164.5h0.8v0.8h-0.8zM97.3 167.4h0.8v0.8h-0.8zM92.0 125.0h0.8v0.8h-0.8zM108.0 153.3h0.8v0.8h-0.8zM106.3 160.0h0.8v0.8h-0.8zM64.3 173.8h0.8v0.8h-0.8zM70.8 172.8h0.8v0.8h-0.8zM64.5 165.1h0.8v0.8h-0.8zM105.7 165.7h0.8v0.8h-0.8zM78.2 160.8h0.8v0.8h-0.8zM67.4 180.8h0.8v0.8h-0.8zM61.8 167.2h0.8v0.8h-0.8zM90.7 163.9h0.8v0.8h-0.8zM96.1 164.0h0.8v0.8h-0.8zM69.2 123.5h0.8v0.8h-0.8zM99.2 141.6h0.8v0.8h-0.8zM61.2 156.3h0.8v0.8h-0.8zM82.0 164.4h0.8v0.8h-0.8zM94.6 140.5h0.8v0.8h-0.8zM98.9 134.3h0.8v0.8h-0.8zM100.8 140.4h0.8v0.8h-0.8zM65.5 140.9h0.8v0.8h-0.8zM80.4 145.3h0.8v0.8h-0.8zM70.9 163.9h0.8v0.8h-0.8zM69.2 165.3h0.8v0.8h-0.8zM63.3 133.8h0.8v0.8h-0.8zM63.7 171.7h0.8v0.8h-0.8zM76.1 164.5h0.8v0.8h-0.8zM85.2 154.1h0.8v0.8h-0.8zM92.5 126.7h0.8v0.8h-0.8zM69.2 163.1h0.8v0.8h-0.8zM90.6 172.9h0.8v0.8h-0.8zM84.8 166.7h0.8v0.8h-0.8zM78.4 170.4h0.8v0.8h-0.8zM107.3 131.7h0.8v0.8h-0.8zM107.3 160.5h0.8v0.8h-0.8zM63.0 165.2h0.8v0.8h-0.8zM94.8 163.8h0.8v0.8h-0.8zM61.3 143.9h0.8v0.8h-0.8zM88.5 165.0h0.8v0.8h-0.8zM60.1 133.8h0.8v0.8h-0.8zM88.5 166.7h0.8v0.8h-0.8zM93.2 147.6h0.8v0.8h-0.8zM70.0 125.1h0.8v0.8h-0.8zM76.5 146.0h0.8v0.8h-0.8zM76.9 149.8h0.8v0.8h-0.8zM89.3 136.5h0.8v0.8h-0.8zM94.5 137.7h0.8v0.8h-0.8zM88.3 174.2h0.8v0.8h-0.8zM106.9 171.1h0.8v0.8h-0.8zM69.3 167.5h0.8v0.8h-0.8zM101.7 171.8h0.8v0.8h-0.8zM83.7 173.9h0.8v0.8h-0.8zM97.7 154.4h0.8v0.8h-0.8zM132.9 142.2h0.8v0.8h-0.8zM90.7 166.4h0.8v0.8h-0.8zM83.1 126.3h0.8v0.8h-0.8zM87.8 166.4h0.8v0.8h-0.8zM100.9 134.9h0.8v0.8h-0.8zM101.4 173.9h0.8v0.8h-0.8zM100.3 128.8h0.8v0.8h-0.8zM106.1 158.3h0.8v0.8h-0.8zM74.5 151.9h0.8v0.8h-0.8zM83.9 164.9h0.8v0.8h-0.8zM99.6 148.8h0.8v0.8h-0.8zM86.5 161.1h0.8v0.8h-0.8zM98.4 152.0h0.8v0.8h-0.8zM88.5 163.0h0.8v0.8h-0.8zM97.9 170.8h0.8v0.8h-0.8zM93.9 159.3h0.8v0.8h-0.8zM73.1 143.5h0.8v0.8h-0.8zM69.2 166.8h0.8v0.8h-0.8zM62.4 170.0h0.8v0.8h-0.8zM85.4 160.6h0.8v0.8h-0.8zM80.1 158.4h0.8v0.8h-0.8zM62.6 139.8h0.8v0.8h-0.8zM107.2 169.5h0.8v0.8h-0.8zM79.3 180.7h0.8v0.8h-0.8zM73.9 153.1h0.8v0.8h-0.8zM83.2 148.6h0.8v0.8h-0.8zM77.2 126.6h0.8v0.8h-0.8zM64.8 164.5h0.8v0.8h-0.8zM87.0 169.0h0.8v0.8h-0.8zM87.1 164.6h0.8v0.8h-0.8zM93.8 142.9h0.8v0.8h-0.8zM97.0 140.5h0.8v0.8h-0.8zM110.8 152.2h0.8v0.8h-0.8zM78.0 143.2h0.8v0.8h-0.8zM59.9 142.7h0.8v0.8h-0.8zM108.4 152.7h0.8v0.8h-0.8zM62.3 165.9h0.8v0.8h-0.8zM108.1 155.4h0.8v0.8h-0.8zM93.4 169.8h0.8v0.8h-0.8zM104.2 124.8h0.8v0.8h-0.8zM84.1 163.5h0.8v0.8h-0.8zM97.1 135.5h0.8v0.8h-0.8zM81.3 148.1h0.8v0.8h-0.8zM101.4 162.4h0.8v0.8h-0.8zM96.1 159.8h0.8v0.8h-0.8zM69.0 167.3h0.8v0.8h-0.8zM106.4 166.9h0.8v0.8h-0.8zM95.5 142.4h0.8v0.8h-0.8zM79.9 145.9h0.8v0.8h-0.8zM61.0 131.9h0.8v0.8h-0.8zM101.5 139.4h0.8v0.8h-0.8zM84.8 163.4h0.8v0.8h-0.8zM100.6 148.2h0.8v0.8h-0.8zM76.9 121.9h0.8v0.8h-0.8zM89.1 164.9h0.8v0.8h-0.8zM89.8 150.2h0.8v0.8h-0.8zM99.3 130.5h0.8v0.8h-0.8zM60.4 143.0h0.8v0.8h-0.8zM78.3 155.2h0.8v0.8h-0.8zM99.0 164.7h0.8v0.8h-0.8zM99.9 143.0h0.8v0.8h-0.8zM73.7 126.1h0.8v0.8h-0.8zM88.8 142.7h0.8v0.8h-0.8zM99.4 126.6h0.8v0.8h-0.8zM99.7 173.3h0.8v0.8h-0.8zM74.4 165.3h0.8v0.8h-0.8zM76.2 167.4h0.8v0.8h-0.8zM62.5 160.0h0.8v0.8h-0.8zM64.5 141.1h0.8v0.8h-0.8zM85.7 162.2h0.8v0.8h-0.8zM82.0 159.0h0.8v0.8h-0.8zM108.1 153.4h0.8v0.8h-0.8zM98.5 166.7h0.8v0.8h-0.8zM89.3 162.5h0.8v0.8h-0.8zM106.6 132.1h0.8v0.8h-0.8zM100.3 162.2h0.8v0.8h-0.8zM88.3 162.1h0.8v0.8h-0.8zM86.9 158.3h0.8v0.8h-0.8zM61.6 145.3h0.8v0.8h-0.8zM85.4 167.3h0.8v0.8h-0.8zM70.7 173.9h0.8v0.8h-0.8zM104.8 164.7h0.8v0.8h-0.8zM109.9 162.1h0.8v0.8h-0.8zM102.9 163.7h0.8v0.8h-0.8zM98.5 126.7h0.8v0.8h-0.8zM102.6 177.7h0.8v0.8h-0.8zM72.2 145.0h0.8v0.8h-0.8zM81.6 159.6h0.8v0.8h-0.8zM71.3 163.6h0.8v0.8h-0.8zM71.2 169.3h0.8v0.8h-0.8zM97.3 144.7h0.8v0.8h-0.8zM66.0 168.5h0.8v0.8h-0.8zM79.5 164.6h0.8v0.8h-0.8zM87.2 163.1h0.8v0.8h-0.8zM60.1 159.2h0.8v0.8h-0.8zM80.9 126.7h0.8v0.8h-0.8zM76.1 162.0h0.8v0.8h-0.8zM106.8 164.2h0.8v0.8h-0.8zM69.4 141.7h0.8v0.8h-0.8zM66.5 166.0h0.8v0.8h-0.8zM85.2 166.1h0.8v0.8h-0.8zM114.3 157.8h0.8v0.8h-0.8zM92.0 168.0h0.8v0.8h-0.8zM90.4 139.9h0.8v0.8h-0.8zM77.9 163.0h0.8v0.8h-0.8zM83.0 158.9h0.8v0.8h-0.8zM85.7 155.1h0.8v0.8h-0.8zM104.7 163.3h0.8v0.8h-0.8zM86.9 172.3h0.8v0.8h-0.8zM61.7 165.7h0.8v0.8h-0.8zM91.0 169.4h0.8v0.8h-0.8zM64.4 175.5h0.8v0.8h-0.8zM60.3 137.0h0.8v0.8h-0.8zM74.3 165.0h0.8v0.8h-0.8zM66.2 163.1h0.8v0.8h-0.8zM101.8 145.6h0.8v0.8h-0.8zM64.8 179.4h0.8v0.8h-0.8zM75.5 171.5h0.8v0.8h-0.8zM99.8 150.1h0.8v0.8h-0.8zM71.0 161.1h0.8v0.8h-0.8zM67.9 156.5h0.8v0.8h-0.8zM101.1 168.9h0.8v0.8h-0.8zM76.6 126.6h0.8v0.8h-0.8zM74.5 165.6h0.8v0.8h-0.8zM63.4 170.4h0.8v0.8h-0.8zM69.8 158.7h0.8v0.8h-0.8zM70.8 161.2h0.8v0.8h-0.8zM68.0 157.2h0.8v0.8h-0.8zM106.0 165.3h0.8v0.8h-0.8zM111.1 127.1h0.8v0.8h-0.8zM103.3 174.9h0.8v0.8h-0.8zM72.7 164.7h0.8v0.8h-0.8zM100.3 131.4h0.8v0.8h-0.8zM93.3 143.0h0.8v0.8h-0.8zM84.6 162.2h0.8v0.8h-0.8zM82.1 143.2h0.8v0.8h-0.8zM99.8 164.0h0.8v0.8h-0.8zM67.6 159.6h0.8v0.8h-0.8zM97.9 145.1h0.8v0.8h-0.8zM96.0 166.8h0.8v0.8h-0.8zM68.9 157.7h0.8v0.8h-0.8zM71.9 165.2h0.8v0.8h-0.8zM98.9 145.5h0.8v0.8h-0.8zM88.7 167.2h0.8v0.8h-0.8zM86.7 156.9h0.8v0.8h-0.8zM86.3 125.4h0.8v0.8h-0.8zM80.0 168.0h0.8v0.8h-0.8zM102.4 161.6h0.8v0.8h-0.8zM64.6 135.8h0.8v0.8h-0.8zM77.6 124.6h0.8v0.8h-0.8zM90.9 125.4h0.8v0.8h-0.8zM105.7 139.9h0.8v0.8h-0.8zM64.1 145.2h0.8v0.8h-0.8zM79.6 141.4h0.8v0.8h-0.8zM64.1 123.9h0.8v0.8h-0.8zM96.0 159.8h0.8v0.8h-0.8zM60.9 162.5h0.8v0.8h-0.8zM110.8 151.8h0.8v0.8h-0.8zM89.2 143.8h0.8v0.8h-0.8zM84.3 163.3h0.8v0.8h-0.8zM99.5 164.4h0.8v0.8h-0.8zM76.3 171.4h0.8v0.8h-0.8zM68.9 157.5h0.8v0.8h-0.8zM92.7 168.4h0.8v0.8h-0.8zM92.4 158.9h0.8v0.8h-0.8zM68.4 160.1h0.8v0.8h-0.8zM110.2 132.4h0.8v0.8h-0.8zM99.6 157.6h0.8v0.8h-0.8zM107.2 163.5h0.8v0.8h-0.8zM97.9 145.0h0.8v0.8h-0.8zM81.6 168.6h0.8v0.8h-0.8zM93.0 167.4h0.8v0.8h-0.8zM78.1 164.4h0.8v0.8h-0.8zM96.6 174.7h0.8v0.8h-0.8zM100.4 127.9h0.8v0.8h-0.8zM70.1 160.1h0.8v0.8h-0.8zM82.1 173.9h0.8v0.8h-0.8zM105.5 153.4h0.8v0.8h-0.8zM94.1 177.0h0.8v0.8h-0.8zM95.7 130.7h0.8v0.8h-0.8zM71.9 143.7h0.8v0.8h-0.8zM76.7 164.0h0.8v0.8h-0.8zM67.5 141.4h0.8v0.8h-0.8zM81.3 152.9h0.8v0.8h-0.8zM61.0 161.8h0.8v0.8h-0.8zM107.5 158.1h0.8v0.8h-0.8zM68.1 144.2h0.8v0.8h-0.8zM95.9 142.8h0.8v0.8h-0.8zM97.0 164.7h0.8v0.8h-0.8zM75.8 174.2h0.8v0.8h-0.8zM67.5 142.3h0.8v0.8h-0.8zM84.8 141.4h0.8v0.8h-0.8zM101.0 159.0h0.8v0.8h-0.8zM93.3 162.1h0.8v0.8h-0.8zM97.8 141.6h0.8v0.8h-0.8zM100.7 124.0h0.8v0.8h-0.8zM110.0 128.8h0.8v0.8h-0.8zM74.8 142.5h0.8v0.8h-0.8zM99.8 161.4h0.8v0.8h-0.8zM107.5 159.7h0.8v0.8h-0.8zM98.8 156.3h0.8v0.8h-0.8zM99.6 130.5h0.8v0.8h-0.8zM94.6 152.9h0.8v0.8h-0.8zM62.2 154.1h0.8v0.8h-0.8z" fill="#1a1a1a" fill-opacity="0.6"/>
<path d="M89.0 166.9h0.8v0.8h-0.8zM64.2 171.1h0.8v0.8h-0.8zM100.0 162.7h0.8v0.8h-0.8zM99.9 156.8h0.8v0.8h-0.8zM97.6 163.5h0.8v0.8h-0.8zM107.7 169.1h0.8v0.8h-0.8zM65.3 159.0h0.8v0.8h-0.8zM92.8 145.5h0.8v0.8h-0.8zM98.9 165.3h0.8v0.8h-0.8zM96.6 129.7h0.8v0.8h-0.8zM109.1 165.5h0.8v0.8h-0.8zM95.2 170.3h0.8v0.8h-0.8zM91.9 157.7h0.8v0.8h-0.8zM62.1 134.3h0.8v0.8h-0.8zM67.6 166.0h0.8v0.8h-0.8zM73.7 144.4h0.8v0.8h-0.8zM108.5 143.2h0.8v0.8h-0.8zM100.3 148.6h0.8v0.8h-0.8zM103.9 173.8h0.8v0.8h-0.8zM71.9 155.8h0.8v0.8h-0.8zM77.5 164.9h0.8v0.8h-0.8zM78.2 165.4h0.8v0.8h-0.8zM77.7 158.3h0.8v0.8h-0.8zM115.1 124.1h0.8v0.8h-0.8zM81.1 162.8h0.8v0.8h-0.8zM60.0 159.5h0.8v0.8h-0.8zM65.3 145.1h0.8v0.8h-0.8zM64.6 162.8h0.8v0.8h-0.8zM82.3 167.1h0.8v0.8h-0.8zM84.5 149.8h0.8v0.8h-0.8zM99.1 141.9h0.8v0.8h-0.8zM63.4 165.7h0.8v0.8h-0.8zM94.9 169.1h0.8v0.8h-0.8zM71.2 166.0h0.8v0.8h-0.8zM95.8 135.0h0.8v0.8h-0.8zM100.3 170.2h0.8v0.8h-0.8zM67.3 162.4h0.8v0.8h-0.8zM89.1 126.4h0.8v0.8h-0.8zM102.4 166.0h0.8v0.8h-0.8zM78.3 125.8h0.8v0.8h-0.8zM61.5 162.6h0.8v0.8h-0.8zM100.0 168.2h0.8v0.8h-0.8zM79.2 166.9h0.8v0.8h-0.8zM85.8 164.6h0.8v0.8h-0.8zM76.8 158.9h0.8v0.8h-0.8zM84.6 124.6h0.8v0.8h-0.8zM113.7 176.0h0.8v0.8h-0.8zM101.1 163.1h0.8v0.8h-0.8zM89.0 124.0h0.8v0.8h-0.8zM60.7 161.4h0.8v0.8h-0.8zM61.0 168.6h0.8v0.8h-0.8zM93.8 140.1h0.8v0.8h-0.8zM101.3 159.5h0.8v0.8h-0.8zM101.8 148.1h0.8v0.8h-0.8zM95.9 147.2h0.8v0.8h-0.8zM69.7 123.4h0.8v0.8h-0.8zM96.5 158.8h0.8v0.8h-0.8zM85.0 144.0h0.8v0.8h-0.8zM90.8 144.8h0.8v0.8h-0.8zM97.1 141.4h0.8v0.8h-0.8zM91.6 170.4h0.8v0.8h-0.8zM65.7 167.2h0.8v0.8h-0.8zM64.8 137.6h0.8v0.8h-0.8zM97.5 145.1h0.8v0.8h-0.8zM67.7 160.5h0.8v0.8h-0.8zM95.8 127.2h0.8v0.8h-0.8zM106.9 159.5h0.8v0.8h-0.8zM76.7 145.3h0.8v0.8h-0.8zM65.7 166.7h0.8v0.8h-0.8zM95.0 166.9h0.8v0.8h-0.8zM97.6 143.6h0.8v0.8h-0.8zM69.2 166.3h0.8v0.8h-0.8zM99.6 159.3h0.8v0.8h-0.8zM106.3 159.5h0.8v0.8h-0.8zM95.8 165.4h0.8v0.8h-0.8zM87.8 169.9h0.8v0.8h-0.8zM92.3 143.2h0.8v0.8h-0.8zM103.1 149.1h0.8v0.8h-0.8zM98.3 139.1h0.8v0.8h-0.8zM59.3 161.9h0.8v0.8h-0.8zM76.3 171.7h0.8v0.8h-0.8zM88.1 142.0h0.8v0.8h-0.8zM88.0 165.9h0.8v0.8h-0.8zM77.4 144.6h0.8v0.8h-0.8zM80.9 144.8h0.8v0.8h-0.8zM98.2 161.9h0.8v0.8h-0.8zM60.9 181.1h0.8v0.8h-0.8zM104.8 163.8h0.8v0.8h-0.8zM78.9 171.8h0.8v0.8h-0.8zM80.2 156.9h0.8v0.8h-0.8zM68.1 175.3h0.8v0.8h-0.8zM71.2 164.4h0.8v0.8h-0.8zM106.2 161.9h0.8v0.8h-0.8zM97.0 135.3h0.8v0.8h-0.8zM107.1 166.8h0.8v0.8h-0.8zM106.4 170.3h0.8v0.8h-0.8zM83.6 162.1h0.8v0.8h-0.8zM59.9 167.8h0.8v0.8h-0.8zM95.7 132.4h0.8v0.8h-0.8zM80.6 144.2h0.8v0.8h-0.8zM95.9 165.9h0.8v0.8h-0.8zM74.9 143.3h0.8v0.8h-0.8zM106.4 165.6h0.8v0.8h-0.8zM104.9 162.9h0.8v0.8h-0.8zM79.0 162.5h0.8v0.8h-0.8zM95.1 168.6h0.8v0.8h-0.8zM70.2 145.9h0.8v0.8h-0.8zM103.5 127.2h0.8v0.8h-0.8zM100.3 159.9h0.8v0.8h-0.8zM102.0 164.7h0.8v0.8h-0.8zM89.9 167.9h0.8v0.8h-0.8zM96.0 143.2h0.8v0.8h-0.8zM100.1 134.1h0.8v0.8h-0.8zM69.2 157.7h0.8v0.8h-0.8zM108.7 117.4h0.8v0.8h-0.8zM103.1 169.5h0.8v0.8h-0.8zM59.4 137.7h0.8v0.8h-0.8zM107.3 156.4h0.8v0.8h-0.8zM79.3 141.7h0.8v0.8h-0.8zM105.1 165.8h0.8v0.8h-0.8zM91.2 169.4h0.8v0.8h-0.8zM59.3 168.9h0.8v0.8h-0.8zM100.2 153.0h0.8v0.8h-0.8zM73.7 158.7h0.8v0.8h-0.8zM126.0 165.7h0.8v0.8h-0.8zM89.1 169.7h0.8v0.8h-0.8zM115.2 179.9h0.8v0.8h-0.8zM103.2 161.0h0.8v0.8h-0.8zM76.7 170.4h0.8v0.8h-0.8zM74.8 143.3h0.8v0.8h-0.8zM60.1 135.1h0.8v0.8h-0.8zM79.6 174.6h0.8v0.8h-0.8zM77.6 161.4h0.8v0.8h-0.8zM61.9 166.3h0.8v0.8h-0.8zM99.9 171.6h0.8v0.8h-0.8zM86.2 158.5h0.8v0.8h-0.8zM106.1 165.1h0.8v0.8h-0.8zM110.4 162.5h0.8v0.8h-0.8zM73.8 158.2h0.8v0.8h-0.8zM98.7 146.6h0.8v0.8h-0.8zM93.0 134.2h0.8v0.8h-0.8zM78.4 143.3h0.8v0.8h-0.8zM78.1 166.0h0.8v0.8h-0.8zM74.1 166.1h0.8v0.8h-0.8zM64.8 131.8h0.8v0.8h-0.8zM82.3 157.7h0.8v0.8h-0.8zM60.6 167.1h0.8v0.8h-0.8zM80.3 161.2h0.8v0.8h-0.8zM99.0 129.8h0.8v0.8h-0.8zM88.8 167.4h0.8v0.8h-0.8zM101.5 164.0h0.8v0.8h-0.8zM97.5 156.9h0.8v0.8h-0.8zM101.4 126.2h0.8v0.8h-0.8zM63.2 144.5h0.8v0.8h-0.8zM100.3 162.2h0.8v0.8h-0.8zM99.3 132.9h0.8v0.8h-0.8zM72.4 165.5h0.8v0.8h-0.8zM102.7 168.5h0.8v0.8h-0.8zM99.7 138.8h0.8v0.8h-0.8zM96.8 142.2h0.8v0.8h-0.8zM71.4 145.6h0.8v0.8h-0.8zM102.7 148.7h0.8v0.8h-0.8zM110.3 121.9h0.8v0.8h-0.8zM107.1 135.1h0.8v0.8h-0.8zM99.8 132.1h0.8v0.8h-0.8zM71.0 125.6h0.8v0.8h-0.8zM105.0 131.6h0.8v0.8h-0.8zM110.7 173.9h0.8v0.8h-0.8zM108.3 161.7h0.8v0.8h-0.8zM105.6 131.1h0.8v0.8h-0.8zM67.5 161.7h0.8v0.8h-0.8zM61.0 124.2h0.8v0.8h-0.8zM89.6 160.5h0.8v0.8h-0.8zM106.3 164.8h0.8v0.8h-0.8zM70.9 157.2h0.8v0.8h-0.8zM68.3 145.1h0.8v0.8h-0.8zM94.4 145.9h0.8v0.8h-0.8zM109.5 156.1h0.8v0.8h-0.8zM93.6 162.2h0.8v0.8h-0.8zM93.6 149.1h0.8v0.8h-0.8zM99.8 151.7h0.8v0.8h-0.8zM63.6 142.9h0.8v0.8h-0.8zM108.7 157.7h0.8v0.8h-0.8zM59.9 129.4h0.8v0.8h-0.8zM90.6 147.1h0.8v0.8h-0.8zM78.8 168.5h0.8v0.8h-0.8zM106.0 171.1h0.8v0.8h-0.8zM63.9 160.7h0.8v0.8h-0.8zM63.2 173.8h0.8v0.8h-0.8zM74.4 152.9h0.8v0.8h-0.8zM95.0 138.0h0.8v0.8h-0.8zM66.8 162.6h0.8v0.8h-0.8zM86.2 165.7h0.8v0.8h-0.8zM95.2 172.9h0.8v0.8h-0.8zM66.0 162.1h0.8v0.8h-0.8zM64.5 167.3h0.8v0.8h-0.8zM84.8 165.2h0.8v0.8h-0.8zM87.7 148.6h0.8v0.8h-0.8zM99.4 163.6h0.8v0.8h-0.8zM86.0 162.8h0.8v0.8h-0.8zM111.7 132.2h0.8v0.8h-0.8zM73.8 164.7h0.8v0.8h-0.8zM100.8 144.2h0.8v0.8h-0.8zM95.3 170.0h0.8v0.8h-0.8zM90.8 167.5h0.8v0.8h-0.8zM105.1 147.0h0.8v0.8h-0.8zM85.8 144.7h0.8v0.8h-0.8zM87.4 162.3h0.8v0.8h-0.8zM110.8 153.2h0.8v0.8h-0.8zM99.5 142.0h0.8v0.8h-0.8zM107.8 161.9h0.8v0.8h-0.8zM106.1 153.4h0.8v0.8h-0.8zM91.7 164.6h0.8v0.8h-0.8zM106.1 176.0h0.8v0.8h-0.8zM59.2 172.2h0.8v0.8h-0.8zM81.0 145.3h0.8v0.8h-0.8zM83.2 144.4h0.8v0.8h-0.8zM98.4 125.0h0.8v0.8h-0.8zM106.8 157.9h0.8v0.8h-0.8zM87.4 173.9h0.8v0.8h-0.8zM73.8 142.9h0.8v0.8h-0.8zM110.7 137.5h0.8v0.8h-0.8zM65.8 145.0h0.8v0.8h-0.8zM100.5 165.6h0.8v0.8h-0.8zM60.4 144.2h0.8v0.8h-0.8zM80.6 163.0h0.8v0.8h-0.8zM91.8 124.8h0.8v0.8h-0.8zM94.2 126.3h0.8v0.8h-0.8zM107.2 122.5h0.8v0.8h-0.8zM63.2 145.4h0.8v0.8h-0.8zM82.5 165.7h0.8v0.8h-0.8zM77.7 168.0h0.8v0.8h-0.8zM60.7 167.7h0.8v0.8h-0.8zM63.9 164.6h0.8v0.8h-0.8zM98.8 158.9h0.8v0.8h-0.8zM74.5 123.0h0.8v0.8h-0.8zM79.7 171.1h0.8v0.8h-0.8zM90.7 168.4h0.8v0.8h-0.8zM89.9 162.4h0.8v0.8h-0.8zM106.0 159.9h0.8v0.8h-0.8zM76.9 169.4h0.8v0.8h-0.8zM93.0 165.7h0.8v0.8h-0.8zM76.4 163.0h0.8v0.8h-0.8zM89.1 166.6h0.8v0.8h-0.8zM67.1 166.2h0.8v0.8h-0.8zM93.4 161.0h0.8v0.8h-0.8zM66.3 165.0h0.8v0.8h-0.8zM66.0 161.6h0.8v0.8h-0.8zM109.6 151.8h0.8v0.8h-0.8zM65.6 168.8h0.8v0.8h-0.8zM64.8 131.0h0.8v0.8h-0.8zM68.7 158.1h0.8v0.8h-0.8zM62.4 133.3h0.8v0.8h-0.8zM103.4 171.0h0.8v0.8h-0.8zM96.7 142.1h0.8v0.8h-0.8zM97.1 165.6h0.8v0.8h-0.8zM86.0 164.8h0.8v0.8h-0.8zM61.3 160.6h0.8v0.8h-0.8zM99.2 144.6h0.8v0.8h-0.8zM63.7 152.6h0.8v0.8h-0.8zM102.7 154.0h0.8v0.8h-0.8zM68.8 140.5h0.8v0.8h-0.8zM86.8 160.7h0.8v0.8h-0.8zM76.0 126.1h0.8v0.8h-0.8zM74.7 165.3h0.8v0.8h-0.8zM74.7 143.8h0.8v0.8h-0.8zM91.1 168.5h0.8v0.8h-0.8zM98.1 147.3h0.8v0.8h-0.8zM99.7 163.3h0.8v0.8h-0.8zM91.6 168.4h0.8v0.8h-0.8zM88.4 163.8h0.8v0.8h-0.8zM63.9 166.3h0.8v0.8h-0.8zM90.7 169.7h0.8v0.8h-0.8zM79.1 166.5h0.8v0.8h-0.8zM78.6 160.6h0.8v0.8h-0.8zM75.8 173.8h0.8v0.8h-0.8zM86.0 166.4h0.8v0.8h-0.8zM91.4 165.5h0.8v0.8h-0.8zM103.3 169.1h0.8v0.8h-0.8zM62.5 126.3h0.8v0.8h-0.8zM76.4 159.2h0.8v0.8h-0.8zM98.3 134.1h0.8v0.8h-0.8zM73.9 145.2h0.8v0.8h-0.8zM91.2 166.2h0.8v0.8h-0.8zM93.3 167.0h0.8v0.8h-0.8zM73.2 168.9h0.8v0.8h-0.8zM85.9 145.4h0.8v0.8h-0.8zM87.1 143.6h0.8v0.8h-0.8zM63.6 169.3h0.8v0.8h-0.8zM94.2 144.5h0.8v0.8h-0.8zM72.1 143.9h0.8v0.8h-0.8zM66.1 170.6h0.8v0.8h-0.8zM68.8 167.5h0.8v0.8h-0.8zM98.3 122.2h0.8v0.8h-0.8zM91.3 163.6h0.8v0.8h-0.8zM76.5 144.4h0.8v0.8h-0.8zM101.8 154.3h0.8v0.8h-0.8zM85.6 164.3h0.8v0.8h-0.8zM102.9 161.2h0.8v0.8h-0.8zM60.4 141.2h0.8v0.8h-0.8zM104.7 163.8h0.8v0.8h-0.8zM79.7 168.3h0.8v0.8h-0.8zM72.7 164.5h0.8v0.8h-0.8zM73.1 158.9h0.8v0.8h-0.8zM76.4 165.2h0.8v0.8h-0.8zM96.4 136.0h0.8v0.8h-0.8zM90.2 126.3h0.8v0.8h-0.8zM75.1 172.1h0.8v0.8h-0.8zM65.5 154.8h0.8v0.8h-0.8zM79.9 165.8h0.8v0.8h-0.8zM98.3 136.4h0.8v0.8h-0.8zM95.3 168.8h0.8v0.8h-0.8zM89.1 124.5h0.8v0.8h-0.8zM95.4 178.0h0.8v0.8h-0.8zM65.3 174.4h0.8v0.8h-0.8zM63.1 155.2h0.8v0.8h-0.8zM68.9 162.2h0.8v0.8h-0.8zM63.0 174.4h0.8v0.8h-0.8zM81.1 155.2h0.8v0.8h-0.8zM97.4 124.5h0.8v0.8h-0.8zM85.6 171.5h0.8v0.8h-0.8zM108.4 151.9h0.8v0.8h-0.8zM87.7 144.5h0.8v0.8h-0.8zM65.8 140.1h0.8v0.8h-0.8zM94.8 164.5h0.8v0.8h-0.8zM89.6 167.2h0.8v0.8h-0.8zM67.9 166.0h0.8v0.8h-0.8zM104.9 140.7h0.8v0.8h-0.8zM79.3 161.9h0.8v0.8h-0.8zM71.7 157.3h0.8v0.8h-0.8zM86.9 145.6h0.8v0.8h-0.8zM100.0 125.2h0.8v0.8h-0.8zM61.5 129.4h0.8v0.8h-0.8zM102.7 158.4h0.8v0.8h-0.8zM100.2 146.6h0.8v0.8h-0.8zM100.2 151.4h0.8v0.8h-0.8zM88.9 171.5h0.8v0.8h-0.8zM95.1 135.7h0.8v0.8h-0.8zM90.3 145.0h0.8v0.8h-0.8zM69.4 164.1h0.8v0.8h-0.8zM68.5 143.8h0.8v0.8h-0.8zM99.3 135.7h0.8v0.8h-0.8zM60.6 165.3h0.8v0.8h-0.8zM86.6 177.0h0.8v0.8h-0.8zM112.5 145.6h0.8v0.8h-0.8zM95.5 159.3h0.8v0.8h-0.8zM94.4 144.5h0.8v0.8h-0.8zM92.4 166.9h0.8v0.8h-0.8zM77.8 144.4h0.8v0.8h-0.8zM102.0 153.0h0.8v0.8h-0.8zM81.7 145.0h0.8v0.8h-0.8zM89.3 141.8h0.8v0.8h-0.8zM74.5 165.2h0.8v0.8h-0.8zM77.3 160.8h0.8v0.8h-0.8zM96.1 139.6h0.8v0.8h-0.8zM107.1 168.3h0.8v0.8h-0.8zM107.1 175.1h0.8v0.8h-0.8zM70.6 145.1h0.8v0.8h-0.8zM90.9 145.7h0.8v0.8h-0.8zM75.2 156.6h0.8v0.8h-0.8zM107.1 155.5h0.8v0.8h-0.8zM93.8 158.0h0.8v0.8h-0.8zM86.9 164.6h0.8v0.8h-0.8zM87.9 165.0h0.8v0.8h-0.8zM67.1 157.7h0.8v0.8h-0.8zM70.5 126.0h0.8v0.8h-0.8zM74.0 172.5h0.8v0.8h-0.8zM77.5 165.8h0.8v0.8h-0.8zM99.6 162.1h0.8v0.8h-0.8zM73.6 167.3h0.8v0.8h-0.8zM80.2 155.9h0.8v0.8h-0.8zM84.7 163.5h0.8v0.8h-0.8zM76.6 164.9h0.8v0.8h-0.8zM79.5 175.2h0.8v0.8h-0.8zM111.6 145.5h0.8v0.8h-0.8zM92.8 124.0h0.8v0.8h-0.8zM109.4 158.4h0.8v0.8h-0.8zM95.1 145.0h0.8v0.8h-0.8zM101.1 162.8h0.8v0.8h-0.8zM81.7 145.0h0.8v0.8h-0.8zM99.1 177.2h0.8v0.8h-0.8zM95.6 142.9h0.8v0.8h-0.8zM99.7 158.6h0.8v0.8h-0.8zM91.7 166.2h0.8v0.8h-0.8zM67.0 172.6h0.8v0.8h-0.8zM63.2 132.1h0.8v0.8h-0.8zM105.9 172.4h0.8v0.8h-0.8zM86.8 168.4h0.8v0.8h-0.8zM109.1 170.9h0.8v0.8h-0.8zM71.9 161.2h0.8v0.8h-0.8zM100.7 163.9h0.8v0.8h-0.8zM62.8 166.2h0.8v0.8h-0.8zM115.7 166.9h0.8v0.8h-0.8zM97.0 134.8h0.8v0.8h-0.8zM81.6 166.8h0.8v0.8h-0.8zM68.1 147.8h0.8v0.8h-0.8zM80.7 165.6h0.8v0.8h-0.8zM87.3 165.8h0.8v0.8h-0.8zM106.1 164.7h0.8v0.8h-0.8zM78.7 169.7h0.8v0.8h-0.8zM74.0 145.0h0.8v0.8h-0.8zM100.2 156.9h0.8v0.8h-0.8zM78.6 165.1h0.8v0.8h-0.8zM94.9 137.6h0.8v0.8h-0.8zM93.3 162.1h0.8v0.8h-0.8zM99.7 159.0h0.8v0.8h-0.8zM66.8 169.2h0.8v0.8h-0.8zM89.1 125.5h0.8v0.8h-0.8zM101.3 173.1h0.8v0.8h-0.8zM79.5 144.3h0.8v0.8h-0.8zM78.6 159.8h0.8v0.8h-0.8zM98.3 136.1h0.8v0.8h-0.8zM99.0 172.2h0.8v0.8h-0.8zM100.0 134.7h0.8v0.8h-0.8zM101.5 124.6h0.8v0.8h-0.8zM93.9 157.1h0.8v0.8h-0.8zM92.0 167.7h0.8v0.8h-0.8zM101.1 144.8h0.8v0.8h-0.8zM75.3 165.9h0.8v0.8h-0.8zM97.7 157.5h0.8v0.8h-0.8zM86.9 162.6h0.8v0.8h-0.8zM73.7 158.5h0.8v0.8h-0.8zM64.7 128.0h0.8v0.8h-0.8zM97.5 166.1h0.8v0.8h-0.8zM72.7 167.5h0.8v0.8h-0.8zM68.7 165.1h0.8v0.8h-0.8zM72.1 161.8h0.8v0.8h-0.8zM89.7 139.3h0.8v0.8h-0.8zM105.7 118.2h0.8v0.8h-0.8zM93.8 139.8h0.8v0.8h-0.8zM96.3 140.6h0.8v0.8h-0.8zM72.8 121.6h0.8v0.8h-0.8zM100.6 125.8h0.8v0.8h-0.8zM98.1 134.2h0.8v0.8h-0.8zM106.0 165.0h0.8v0.8h-0.8zM66.2 146.9h0.8v0.8h-0.8zM97.5 133.8h0.8v0.8h-0.8zM98.8 162.4h0.8v0.8h-0.8zM91.0 145.4h0.8v0.8h-0.8zM106.0 141.3h0.8v0.8h-0.8zM66.6 158.9h0.8v0.8h-0.8zM98.7 166.3h0.8v0.8h-0.8zM75.0 146.1h0.8v0.8h-0.8zM95.1 145.0h0.8v0.8h-0.8zM74.4 164.9h0.8v0.8h-0.8zM88.1 165.7h0.8v0.8h-0.8zM98.4 162.2h0.8v0.8h-0.8zM116.7 140.0h0.8v0.8h-0.8zM110.8 172.2h0.8v0.8h-0.8zM94.3 165.7h0.8v0.8h-0.8zM95.8 129.7h0.8v0.8h-0.8zM96.0 163.0h0.8v0.8h-0.8zM114.5 146.3h0.8v0.8h-0.8zM88.3 159.1h0.8v0.8h-0.8zM74.2 143.3h0.8v0.8h-0.8zM65.3 164.6h0.8v0.8h-0.8zM94.5 143.1h0.8v0.8h-0.8zM62.9 168.7h0.8v0.8h-0.8zM96.5 165.6h0.8v0.8h-0.8zM71.3 172.6h0.8v0.8h-0.8zM65.4 166.6h0.8v0.8h-0.8zM64.2 145.2h0.8v0.8h-0.8zM101.1 157.8h0.8v0.8h-0.8zM86.1 175.0h0.8v0.8h-0.8zM101.8 144.2h0.8v0.8h-0.8zM99.5 137.8h0.8v0.8h-0.8zM90.7 158.7h0.8v0.8h-0.8zM73.6 165.0h0.8v0.8h-0.8zM76.2 164.6h0.8v0.8h-0.8zM101.4 152.0h0.8v0.8h-0.8zM75.9 167.8h0.8v0.8h-0.8zM101.9 149.7h0.8v0.8h-0.8zM70.6 168.4h0.8v0.8h-0.8zM90.7 166.2h0.8v0.8h-0.8zM86.6 162.7h0.8v0.8h-0.8zM95.4 143.3h0.8v0.8h-0.8zM62.3 123.0h0.8v0.8h-0.8zM113.0 132.4h0.8v0.8h-0.8zM89.0 147.6h0.8v0.8h-0.8zM103.0 155.1h0.8v0.8h-0.8zM101.2 160.1h0.8v0.8h-0.8zM93.8 165.6h0.8v0.8h-0.8zM93.8 165.5h0.8v0.8h-0.8zM61.9 159.1h0.8v0.8h-0.8zM111.5 165.8h0.8v0.8h-0.8zM78.8 144.3h0.8v0.8h-0.8zM102.1 143.0h0.8v0.8h-0.8zM72.6 143.8h0.8v0.8h-0.8zM78.2 168.2h0.8v0.8h-0.8zM108.5 151.0h0.8v0.8h-0.8zM91.0 164.8h0.8v0.8h-0.8zM97.6 165.2h0.8v0.8h-0.8zM85.1 146.4h0.8v0.8h-0.8zM103.5 142.0h0.8v0.8h-0.8zM94.6 134.5h0.8v0.8h-0.8zM99.4 141.2h0.8v0.8h-0.8zM101.0 163.6h0.8v0.8h-0.8zM99.5 168.4h0.8v0.8h-0.8zM61.3 148.9h0.8v0.8h-0.8zM76.9 160.4h0.8v0.8h-0.8zM62.1 126.7h0.8v0.8h-0.8zM104.2 163.4h0.8v0.8h-0.8zM100.3 156.5h0.8v0.8h-0.8zM77.1 164.9h0.8v0.8h-0.8zM87.8 167.9h0.8v0.8h-0.8zM97.5 167.5h0.8v0.8h-0.8zM99.6 138.1h0.8v0.8h-0.8zM99.5 158.4h0.8v0.8h-0.8zM90.7 167.3h0.8v0.8h-0.8zM99.6 126.3h0.8v0.8h-0.8zM94.1 143.8h0.8v0.8h-0.8zM81.7 144.6h0.8v0.8h-0.8zM67.0 146.0h0.8v0.8h-0.8zM102.3 156.1h0.8v0.8h-0.8zM99.9 162.9h0.8v0.8h-0.8zM102.7 172.2h0.8v0.8h-0.8zM73.6 142.7h0.8v0.8h-0.8zM95.3 164.5h0.8v0.8h-0.8zM89.3 144.4h0.8v0.8h-0.8zM62.2 144.8h0.8v0.8h-0.8zM91.9 168.1h0.8v0.8h-0.8zM98.7 145.0h0.8v0.8h-0.8zM81.8 153.9h0.8v0.8h-0.8zM79.9 164.0h0.8v0.8h-0.8zM71.2 144.4h0.8v0.8h-0.8zM83.7 159.0h0.8v0.8h-0.8zM79.2 144.4h0.8v0.8h-0.8zM98.1 138.2h0.8v0.8h-0.8zM71.2 160.9h0.8v0.8h-0.8zM88.0 144.6h0.8v0.8h-0.8zM117.1 135.8h0.8v0.8h-0.8zM95.3 131.9h0.8v0.8h-0.8zM60.3 142.3h0.8v0.8h-0.8zM84.5 165.1h0.8v0.8h-0.8zM67.8 144.2h0.8v0.8h-0.8zM74.5 170.8h0.8v0.8h-0.8zM107.2 155.8h0.8v0.8h-0.8zM85.4 159.4h0.8v0.8h-0.8zM87.9 168.3h0.8v0.8h-0.8zM70.9 144.5h0.8v0.8h-0.8zM71.4 166.8h0.8v0.8h-0.8zM98.3 156.9h0.8v0.8h-0.8zM99.6 163.9h0.8v0.8h-0.8zM90.5 158.6h0.8v0.8h-0.8zM79.6 164.7h0.8v0.8h-0.8zM85.3 165.6h0.8v0.8h-0.8zM61.8 144.6h0.8v0.8h-0.8zM63.7 174.3h0.8v0.8h-0.8zM62.2 125.8h0.8v0.8h-0.8zM92.6 167.1h0.8v0.8h-0.8zM100.9 145.2h0.8v0.8h-0.8zM66.1 140.8h0.8v0.8h-0.8zM62.0 129.3h0.8v0.8h-0.8zM86.5 165.6h0.8v0.8h-0.8zM68.5 163.2h0.8v0.8h-0.8zM106.9 158.4h0.8v0.8h-0.8zM100.0 148.9h0.8v0.8h-0.8zM96.8 164.5h0.8v0.8h-0.8zM98.2 144.8h0.8v0.8h-0.8zM96.1 160.0h0.8v0.8h-0.8zM101.9 128.3h0.8v0.8h-0.8zM76.6 166.2h0.8v0.8h-0.8zM94.2 142.3h0.8v0.8h-0.8zM95.6 162.6h0.8v0.8h-0.8zM86.3 164.7h0.8v0.8h-0.8zM92.4 166.2h0.8v0.8h-0.8zM83.5 166.5h0.8v0.8h-0.8zM99.1 144.4h0.8v0.8h-0.8zM93.1 140.0h0.8v0.8h-0.8zM106.3 160.3h0.8v0.8h-0.8zM106.9 141.7h0.8v0.8h-0.8zM85.3 171.7h0.8v0.8h-0.8zM83.2 144.5h0.8v0.8h-0.8zM95.0 171.1h0.8v0.8h-0.8zM106.5 169.0h0.8v0.8h-0.8zM83.2 164.7h0.8v0.8h-0.8zM113.9 173.0h0.8v0.8h-0.8zM62.5 165.7h0.8v0.8h-0.8zM64.0 160.9h0.8v0.8h-0.8zM77.3 168.7h0.8v0.8h-0.8zM68.4 142.4h0.8v0.8h-0.8zM85.1 171.0h0.8v0.8h-0.8zM74.1 170.5h0.8v0.8h-0.8zM74.4 162.6h0.8v0.8h-0.8zM107.8 154.8h0.8v0.8h-0.8zM61.0 140.7h0.8v0.8h-0.8zM96.0 143.2h0.8v0.8h-0.8zM91.7 168.3h0.8v0.8h-0.8zM102.1 128.3h0.8v0.8h-0.8zM80.7 144.4h0.8v0.8h-0.8zM108.5 132.1h0.8v0.8h-0.8zM104.9 130.8h0.8v0.8h-0.8zM100.3 161.3h0.8v0.8h-0.8zM90.1 148.8h0.8v0.8h-0.8zM99.4 124.2h0.8v0.8h-0.8zM82.9 147.5h0.8v0.8h-0.8zM91.6 157.8h0.8v0.8h-0.8zM72.6 165.5h0.8v0.8h-0.8zM62.0 162.6h0.8v0.8h-0.8zM95.6 133.6h0.8v0.8h-0.8zM94.7 162.8h0.8v0.8h-0.8zM73.9 160.7h0.8v0.8h-0.8zM71.7 158.7h0.8v0.8h-0.8zM97.1 153.1h0.8v0.8h-0.8zM98.7 142.5h0.8v0.8h-0.8zM87.8 172.3h0.8v0.8h-0.8zM68.8 162.3h0.8v0.8h-0.8zM89.5 165.0h0.8v0.8h-0.8zM76.8 160.9h0.8v0.8h-0.8zM105.1 169.6h0.8v0.8h-0.8zM104.8 130.8h0.8v0.8h-0.8zM99.2 171.4h0.8v0.8h-0.8zM63.6 162.9h0.8v0.8h-0.8zM91.9 157.3h0.8v0.8h-0.8zM108.6 162.5h0.8v0.8h-0.8zM62.0 166.3h0.8v0.8h-0.8zM107.5 160.1h0.8v0.8h-0.8zM63.8 169.8h0.8v0.8h-0.8zM97.7 144.6h0.8v0.8h-0.8zM90.6 143.8h0.8v0.8h-0.8zM94.3 124.0h0.8v0.8h-0.8zM70.1 158.8h0.8v0.8h-0.8zM88.8 164.7h0.8v0.8h-0.8zM64.3 171.1h0.8v0.8h-0.8zM87.0 158.3h0.8v0.8h-0.8zM92.9 178.0h0.8v0.8h-0.8zM66.7 163.4h0.8v0.8h-0.8zM81.9 152.4h0.8v0.8h-0.8zM73.8 168.1h0.8v0.8h-0.8zM65.3 170.8h0.8v0.8h-0.8zM75.7 153.3h0.8v0.8h-0.8zM106.1 170.3h0.8v0.8h-0.8zM90.9 160.1h0.8v0.8h-0.8zM101.6 127.0h0.8v0.8h-0.8zM103.6 159.6h0.8v0.8h-0.8zM68.5 160.3h0.8v0.8h-0.8zM63.5 162.4h0.8v0.8h-0.8zM97.4 130.6h0.8v0.8h-0.8zM110.9 160.3h0.8v0.8h-0.8zM107.0 141.3h0.8v0.8h-0.8zM74.9 166.9h0.8v0.8h-0.8zM83.1 168.8h0.8v0.8h-0.8zM91.7 126.6h0.8v0.8h-0.8zM122.7 123.9h0.8v0.8h-0.8zM99.9 175.2h0.8v0.8h-0.8zM101.3 140.0h0.8v0.8h-0.8zM60.2 145.1h0.8v0.8h-0.8zM85.4 165.2h0.8v0.8h-0.8zM83.6 161.5h0.8v0.8h-0.8zM93.2 170.9h0.8v0.8h-0.8zM73.6 143.5h0.8v0.8h-0.8zM68.2 163.3h0.8v0.8h-0.8zM88.4 161.4h0.8v0.8h-0.8zM111.9 133.4h0.8v0.8h-0.8zM106.2 133.1h0.8v0.8h-0.8zM112.8 178.7h0.8v0.8h-0.8zM94.5 124.1h0.8v0.8h-0.8zM104.4 134.8h0.8v0.8h-0.8zM98.0 125.6h0.8v0.8h-0.8zM75.9 159.6h0.8v0.8h-0.8zM100.0 145.3h0.8v0.8h-0.8zM75.6 147.4h0.8v0.8h-0.8zM93.1 139.4h0.8v0.8h-0.8zM60.9 159.8h0.8v0.8h-0.8zM74.4 168.5h0.8v0.8h-0.8zM102.3 151.6h0.8v0.8h-0.8zM76.7 161.7h0.8v0.8h-0.8zM73.1 157.1h0.8v0.8h-0.8zM72.0 172.0h0.8v0.8h-0.8zM108.0 161.5h0.8v0.8h-0.8zM98.7 163.1h0.8v0.8h-0.8zM84.0 145.8h0.8v0.8h-0.8zM69.7 144.5h0.8v0.8h-0.8zM96.3 145.6h0.8v0.8h-0.8zM96.7 163.7h0.8v0.8h-0.8zM74.8 173.0h0.8v0.8h-0.8zM79.4 161.9h0.8v0.8h-0.8zM74.0 161.4h0.8v0.8h-0.8zM87.7 168.8h0.8v0.8h-0.8zM99.8 148.8h0.8v0.8h-0.8zM88.8 168.9h0.8v0.8h-0.8zM60.8 145.6h0.8v0.8h-0.8zM60.0 133.9h0.8v0.8h-0.8zM107.6 153.7h0.8v0.8h-0.8zM63.6 141.9h0.8v0.8h-0.8zM64.0 178.0h0.8v0.8h-0.8zM67.8 165.0h0.8v0.8h-0.8zM106.0 148.6h0.8v0.8h-0.8zM106.5 131.8h0.8v0.8h-0.8zM78.6 163.2h0.8v0.8h-0.8zM100.0 152.1h0.8v0.8h-0.8zM63.0 161.6h0.8v0.8h-0.8zM96.3 154.4h0.8v0.8h-0.8zM93.6 151.2h0.8v0.8h-0.8zM99.1 162.3h0.8v0.8h-0.8zM86.0 164.5h0.8v0.8h-0.8zM73.6 146.1h0.8v0.8h-0.8zM73.0 126.9h0.8v0.8h-0.8zM74.2 160.7h0.8v0.8h-0.8zM74.4 144.6h0.8v0.8h-0.8zM65.5 162.8h0.8v0.8h-0.8zM112.7 152.6h0.8v0.8h-0.8zM69.5 143.0h0.8v0.8h-0.8zM101.0 161.2h0.8v0.8h-0.8zM101.9 132.8h0.8v0.8h-0.8zM70.1 160.8h0.8v0.8h-0.8zM66.2 153.1h0.8v0.8h-0.8zM106.4 179.1h0.8v0.8h-0.8zM110.2 167.0h0.8v0.8h-0.8zM94.9 132.6h0.8v0.8h-0.8zM76.6 126.1h0.8v0.8h-0.8zM59.4 166.3h0.8v0.8h-0.8zM79.0 145.1h0.8v0.8h-0.8zM95.7 174.9h0.8v0.8h-0.8zM97.8 130.6h0.8v0.8h-0.8zM72.0 144.7h0.8v0.8h-0.8zM87.0 161.8h0.8v0.8h-0.8zM98.0 172.0h0.8v0.8h-0.8zM67.4 168.8h0.8v0.8h-0.8zM68.0 145.4h0.8v0.8h-0.8zM89.6 167.6h0.8v0.8h-0.8zM106.0 138.5h0.8v0.8h-0.8zM82.4 144.7h0.8v0.8h-0.8zM85.0 161.5h0.8v0.8h-0.8zM102.7 161.5h0.8v0.8h-0.8zM71.6 169.3h0.8v0.8h-0.8zM105.6 163.1h0.8v0.8h-0.8zM71.2 125.5h0.8v0.8h-0.8zM108.7 158.1h0.8v0.8h-0.8zM73.6 159.1h0.8v0.8h-0.8zM108.4 152.0h0.8v0.8h-0.8zM98.7 158.1h0.8v0.8h-0.8zM62.2 170.2h0.8v0.8h-0.8zM67.8 144.0h0.8v0.8h-0.8zM109.9 157.8h0.8v0.8h-0.8zM97.8 143.3h0.8v0.8h-0.8zM82.9 145.1h0.8v0.8h-0.8zM62.3 127.7h0.8v0.8h-0.8zM89.8 146.9h0.8v0.8h-0.8zM64.6 154.6h0.8v0.8h-0.8zM84.8 161.1h0.8v0.8h-0.8zM91.2 161.5h0.8v0.8h-0.8zM64.1 131.7h0.8v0.8h-0.8zM79.6 157.9h0.8v0.8h-0.8zM111.1 133.2h0.8v0.8h-0.8zM65.6 125.1h0.8v0.8h-0.8zM110.4 149.9h0.8v0.8h-0.8zM63.6 156.4h0.8v0.8h-0.8zM99.4 162.2h0.8v0.8h-0.8zM103.1 161.7h0.8v0.8h-0.8zM103.2 129.3h0.8v0.8h-0.8zM90.6 166.8h0.8v0.8h-0.8zM59.4 162.8h0.8v0.8h-0.8zM86.7 126.2h0.8v0.8h-0.8zM70.4 166.3h0.8v0.8h-0.8zM79.0 163.4h0.8v0.8h-0.8zM109.4 152.4h0.8v0.8h-0.8zM106.6 158.4h0.8v0.8h-0.8zM131.7 125.6h0.8v0.8h-0.8zM59.4 157.2h0.8v0.8h-0.8zM73.9 162.6h0.8v0.8h-0.8zM98.7 158.9h0.8v0.8h-0.8zM78.3 165.5h0.8v0.8h-0.8zM71.0 125.7h0.8v0.8h-0.8zM85.9 163.5h0.8v0.8h-0.8zM101.4 153.6h0.8v0.8h-0.8zM87.8 163.4h0.8v0.8h-0.8zM113.2 151.1h0.8v0.8h-0.8zM85.4 166.4h0.8v0.8h-0.8zM100.2 153.0h0.8v0.8h-0.8zM91.1 173.9h0.8v0.8h-0.8zM90.2 167.1h0.8v0.8h-0.8zM85.2 141.6h0.8v0.8h-0.8zM65.6 165.2h0.8v0.8h-0.8zM97.7 143.9h0.8v0.8h-0.8zM105.4 135.5h0.8v0.8h-0.8zM95.2 164.1h0.8v0.8h-0.8zM95.1 132.2h0.8v0.8h-0.8zM77.3 166.8h0.8v0.8h-0.8zM93.8 169.1h0.8v0.8h-0.8zM102.7 162.1h0.8v0.8h-0.8zM109.1 152.1h0.8v0.8h-0.8zM96.0 171.4h0.8v0.8h-0.8zM85.4 165.1h0.8v0.8h-0.8zM71.0 142.7h0.8v0.8h-0.8zM104.0 171.7h0.8v0.8h-0.8zM61.7 163.0h0.8v0.8h-0.8zM71.8 165.3h0.8v0.8h-0.8zM90.5 167.2h0.8v0.8h-0.8zM64.3 148.6h0.8v0.8h-0.8zM75.3 165.6h0.8v0.8h-0.8zM91.3 145.5h0.8v0.8h-0.8zM102.0 161.3h0.8v0.8h-0.8zM101.5 146.4h0.8v0.8h-0.8zM81.7 159.9h0.8v0.8h-0.8zM107.6 161.5h0.8v0.8h-0.8zM102.6 129.7h0.8v0.8h-0.8zM77.2 163.4h0.8v0.8h-0.8zM93.6 157.7h0.8v0.8h-0.8zM97.4 136.9h0.8v0.8h-0.8zM70.7 170.1h0.8v0.8h-0.8zM63.1 139.6h0.8v0.8h-0.8zM80.2 145.2h0.8v0.8h-0.8z" fill="#444" fill-opacity="0.55"/>
<path d="M85.2 246.6h0.8v0.8h-0.8zM103.3 225.3h0.8v0.8h-0.8zM103.2 244.8h0.8v0.8h-0.8zM60.4 226.4h0.8v0.8h-0.8zM75.1 229.6h0.8v0.8h-0.8zM71.4 226.4h0.8v0.8h-0.8zM85.2 227.8h0.8v0.8h-0.8zM65.2 249.1h0.8v0.8h-0.8zM68.8 246.6h0.8v0.8h-0.8zM95.4 218.7h0.8v0.8h-0.8zM101.4 225.7h0.8v0.8h-0.8zM107.1 226.1h0.8v0.8h-0.8zM101.7 255.5h0.8v0.8h-0.8zM111.9 213.0h0.8v0.8h-0.8zM82.6 229.4h0.8v0.8h-0.8zM101.7 214.3h0.8v0.8h-0.8zM77.7 240.9h0.8v0.8h-0.8zM102.3 248.5h0.8v0.8h-0.8zM95.4 213.3h0.8v0.8h-0.8zM65.1 250.9h0.8v0.8h-0.8zM88.5 239.2h0.8v0.8h-0.8zM79.6 253.7h0.8v0.8h-0.8zM90.1 250.7h0.8v0.8h-0.8zM99.4 225.5h0.8v0.8h-0.8zM103.8 260.1h0.8v0.8h-0.8zM71.2 238.5h0.8v0.8h-0.8zM101.4 232.6h0.8v0.8h-0.8zM113.1 213.0h0.8v0.8h-0.8zM102.4 253.9h0.8v0.8h-0.8zM87.7 243.8h0.8v0.8h-0.8zM63.7 252.1h0.8v0.8h-0.8zM80.2 244.9h0.8v0.8h-0.8zM114.5 220.6h0.8v0.8h-0.8zM103.1 236.3h0.8v0.8h-0.8zM69.6 251.7h0.8v0.8h-0.8zM102.5 247.5h0.8v0.8h-0.8zM86.7 249.2h0.8v0.8h-0.8zM63.5 241.7h0.8v0.8h-0.8zM63.2 212.7h0.8v0.8h-0.8zM86.7 226.7h0.8v0.8h-0.8zM69.9 225.9h0.8v0.8h-0.8zM104.4 237.8h0.8v0.8h-0.8zM103.5 252.9h0.8v0.8h-0.8zM100.8 246.4h0.8v0.8h-0.8zM86.2 236.4h0.8v0.8h-0.8zM70.3 245.4h0.8v0.8h-0.8zM60.1 247.2h0.8v0.8h-0.8zM79.8 238.3h0.8v0.8h-0.8zM98.3 223.8h0.8v0.8h-0.8zM70.7 230.3h0.8v0.8h-0.8zM106.9 235.0h0.8v0.8h-0.8zM103.5 225.4h0.8v0.8h-0.8zM68.1 229.5h0.8v0.8h-0.8zM80.4 210.5h0.8v0.8h-0.8zM69.1 227.0h0.8v0.8h-0.8zM97.3 229.5h0.8v0.8h-0.8zM63.2 217.9h0.8v0.8h-0.8zM100.6 213.5h0.8v0.8h-0.8zM73.6 243.2h0.8v0.8h-0.8zM97.1 216.9h0.8v0.8h-0.8zM98.8 223.3h0.8v0.8h-0.8zM73.3 224.7h0.8v0.8h-0.8zM59.3 246.1h0.8v0.8h-0.8zM69.4 227.6h0.8v0.8h-0.8zM73.2 248.1h0.8v0.8h-0.8zM78.2 233.7h0.8v0.8h-0.8zM73.8 242.0h0.8v0.8h-0.8zM78.4 249.5h0.8v0.8h-0.8zM82.1 246.6h0.8v0.8h-0.8zM81.6 228.2h0.8v0.8h-0.8zM100.7 240.2h0.8v0.8h-0.8zM63.0 248.1h0.8v0.8h-0.8zM87.3 243.2h0.8v0.8h-0.8zM86.8 234.6h0.8v0.8h-0.8zM62.3 227.6h0.8v0.8h-0.8zM75.0 247.0h0.8v0.8h-0.8zM113.9 223.9h0.8v0.8h-0.8zM71.3 256.7h0.8v0.8h-0.8zM70.3 245.1h0.8v0.8h-0.8zM80.2 250.7h0.8v0.8h-0.8zM81.3 227.0h0.8v0.8h-0.8zM71.5 247.6h0.8v0.8h-0.8zM93.8 235.0h0.8v0.8h-0.8zM64.9 247.1h0.8v0.8h-0.8zM66.5 247.1h0.8v0.8h-0.8zM85.6 224.3h0.8v0.8h-0.8zM104.5 252.7h0.8v0.8h-0.8zM69.6 225.3h0.8v0.8h-0.8zM87.9 242.5h0.8v0.8h-0.8zM94.1 247.6h0.8v0.8h-0.8zM90.1 229.0h0.8v0.8h-0.8zM106.3 239.1h0.8v0.8h-0.8zM98.3 232.6h0.8v0.8h-0.8zM94.6 239.7h0.8v0.8h-0.8zM99.5 215.3h0.8v0.8h-0.8zM90.2 256.8h0.8v0.8h-0.8zM106.7 229.8h0.8v0.8h-0.8zM116.9 221.4h0.8v0.8h-0.8zM84.2 248.9h0.8v0.8h-0.8zM108.4 236.6h0.8v0.8h-0.8zM76.3 229.1h0.8v0.8h-0.8zM104.2 248.2h0.8v0.8h-0.8zM80.4 225.1h0.8v0.8h-0.8zM92.9 252.9h0.8v0.8h-0.8zM80.2 247.3h0.8v0.8h-0.8zM95.9 230.5h0.8v0.8h-0.8zM94.7 208.2h0.8v0.8h-0.8zM84.6 242.9h0.8v0.8h-0.8zM92.2 235.1h0.8v0.8h-0.8zM63.8 241.6h0.8v0.8h-0.8zM68.9 251.3h0.8v0.8h-0.8zM68.1 245.7h0.8v0.8h-0.8zM98.3 225.7h0.8v0.8h-0.8zM85.3 255.1h0.8v0.8h-0.8zM95.7 211.0h0.8v0.8h-0.8zM75.9 234.6h0.8v0.8h-0.8zM96.4 221.0h0.8v0.8h-0.8zM90.8 249.7h0.8v0.8h-0.8zM92.0 242.3h0.8v0.8h-0.8zM107.0 214.5h0.8v0.8h-0.8zM66.4 245.4h0.8v0.8h-0.8zM74.4 235.4h0.8v0.8h-0.8zM90.6 239.4h0.8v0.8h-0.8zM107.5 238.4h0.8v0.8h-0.8zM115.7 217.4h0.8v0.8h-0.8zM115.6 221.8h0.8v0.8h-0.8zM75.7 229.5h0.8v0.8h-0.8zM101.3 250.2h0.8v0.8h-0.8zM73.9 247.7h0.8v0.8h-0.8zM63.2 246.4h0.8v0.8h-0.8zM61.3 229.1h0.8v0.8h-0.8zM91.7 252.0h0.8v0.8h-0.8zM88.6 249.2h0.8v0.8h-0.8zM84.3 252.4h0.8v0.8h-0.8zM100.0 244.9h0.8v0.8h-0.8zM65.9 241.2h0.8v0.8h-0.8zM83.5 210.8h0.8v0.8h-0.8zM73.9 229.9h0.8v0.8h-0.8zM61.7 241.7h0.8v0.8h-0.8zM73.6 229.5h0.8v0.8h-0.8zM101.2 242.8h0.8v0.8h-0.8zM71.6 244.8h0.8v0.8h-0.8zM80.1 245.1h0.8v0.8h-0.8zM96.9 249.5h0.8v0.8h-0.8zM109.1 255.0h0.8v0.8h-0.8zM109.7 243.0h0.8v0.8h-0.8zM87.8 256.6h0.8v0.8h-0.8zM92.8 241.7h0.8v0.8h-0.8zM93.2 225.3h0.8v0.8h-0.8zM94.7 220.9h0.8v0.8h-0.8zM117.4 217.7h0.8v0.8h-0.8zM100.3 252.6h0.8v0.8h-0.8zM118.7 226.3h0.8v0.8h-0.8zM70.7 239.8h0.8v0.8h-0.8zM64.4 228.9h0.8v0.8h-0.8zM87.5 241.5h0.8v0.8h-0.8zM93.5 220.9h0.8v0.8h-0.8zM88.8 207.6h0.8v0.8h-0.8zM79.6 239.8h0.8v0.8h-0.8zM83.7 246.8h0.8v0.8h-0.8zM87.4 248.9h0.8v0.8h-0.8zM67.9 245.1h0.8v0.8h-0.8zM86.1 235.2h0.8v0.8h-0.8zM91.1 229.5h0.8v0.8h-0.8zM92.7 237.5h0.8v0.8h-0.8zM59.9 247.1h0.8v0.8h-0.8zM88.0 249.9h0.8v0.8h-0.8zM112.5 241.9h0.8v0.8h-0.8zM101.2 242.8h0.8v0.8h-0.8zM92.0 255.6h0.8v0.8h-0.8zM64.1 248.4h0.8v0.8h-0.8zM94.1 220.1h0.8v0.8h-0.8zM76.1 249.0h0.8v0.8h-0.8zM69.4 228.3h0.8v0.8h-0.8zM113.2 215.2h0.8v0.8h-0.8zM92.7 231.5h0.8v0.8h-0.8zM59.8 213.0h0.8v0.8h-0.8zM93.2 251.2h0.8v0.8h-0.8zM86.1 224.9h0.8v0.8h-0.8zM88.7 242.8h0.8v0.8h-0.8zM80.0 225.4h0.8v0.8h-0.8zM98.6 212.0h0.8v0.8h-0.8zM90.1 240.5h0.8v0.8h-0.8zM81.4 243.8h0.8v0.8h-0.8zM105.3 258.3h0.8v0.8h-0.8zM94.1 241.4h0.8v0.8h-0.8zM113.8 221.1h0.8v0.8h-0.8zM104.1 232.5h0.8v0.8h-0.8zM102.1 252.5h0.8v0.8h-0.8zM82.7 241.5h0.8v0.8h-0.8zM92.0 247.9h0.8v0.8h-0.8zM95.4 244.4h0.8v0.8h-0.8zM87.2 245.1h0.8v0.8h-0.8zM115.9 214.9h0.8v0.8h-0.8zM86.4 248.3h0.8v0.8h-0.8zM100.7 249.3h0.8v0.8h-0.8zM99.2 258.8h0.8v0.8h-0.8zM64.8 248.0h0.8v0.8h-0.8zM93.3 242.4h0.8v0.8h-0.8zM110.9 247.5h0.8v0.8h-0.8zM86.7 248.5h0.8v0.8h-0.8zM64.8 207.4h0.8v0.8h-0.8zM82.5 225.2h0.8v0.8h-0.8zM77.4 255.1h0.8v0.8h-0.8zM67.4 249.0h0.8v0.8h-0.8zM88.0 250.5h0.8v0.8h-0.8zM92.3 246.4h0.8v0.8h-0.8zM101.6 240.2h0.8v0.8h-0.8zM94.9 222.5h0.8v0.8h-0.8zM87.5 234.3h0.8v0.8h-0.8zM108.6 205.8h0.8v0.8h-0.8zM90.9 234.8h0.8v0.8h-0.8zM101.4 216.2h0.8v0.8h-0.8zM97.4 221.4h0.8v0.8h-0.8zM70.5 210.3h0.8v0.8h-0.8zM79.3 254.1h0.8v0.8h-0.8zM117.6 228.5h0.8v0.8h-0.8zM87.2 229.2h0.8v0.8h-0.8zM101.0 250.3h0.8v0.8h-0.8zM97.5 240.7h0.8v0.8h-0.8zM73.3 233.2h0.8v0.8h-0.8zM77.7 229.5h0.8v0.8h-0.8zM63.8 254.3h0.8v0.8h-0.8zM62.7 228.3h0.8v0.8h-0.8zM79.3 240.5h0.8v0.8h-0.8zM102.2 244.8h0.8v0.8h-0.8zM90.3 245.9h0.8v0.8h-0.8zM97.6 212.7h0.8v0.8h-0.8zM86.9 246.9h0.8v0.8h-0.8zM112.6 237.1h0.8v0.8h-0.8zM79.3 246.6h0.8v0.8h-0.8zM99.4 252.4h0.8v0.8h-0.8zM96.8 223.8h0.8v0.8h-0.8zM60.4 240.0h0.8v0.8h-0.8zM66.2 246.0h0.8v0.8h-0.8zM72.0 229.1h0.8v0.8h-0.8zM104.2 253.2h0.8v0.8h-0.8zM99.4 213.2h0.8v0.8h-0.8zM85.6 260.9h0.8v0.8h-0.8zM86.7 242.2h0.8v0.8h-0.8zM85.7 245.4h0.8v0.8h-0.8zM66.0 228.5h0.8v0.8h-0.8zM62.8 243.2h0.8v0.8h-0.8zM98.5 229.5h0.8v0.8h-0.8zM61.4 251.2h0.8v0.8h-0.8zM81.6 224.4h0.8v0.8h-0.8zM96.0 217.3h0.8v0.8h-0.8zM59.9 232.8h0.8v0.8h-0.8zM108.2 234.4h0.8v0.8h-0.8zM105.8 236.9h0.8v0.8h-0.8zM77.1 236.3h0.8v0.8h-0.8zM109.5 223.6h0.8v0.8h-0.8zM134.5 211.7h0.8v0.8h-0.8zM102.3 240.7h0.8v0.8h-0.8zM88.5 244.8h0.8v0.8h-0.8zM79.7 225.0h0.8v0.8h-0.8zM67.1 210.9h0.8v0.8h-0.8zM66.0 236.0h0.8v0.8h-0.8zM79.0 246.9h0.8v0.8h-0.8zM102.3 245.8h0.8v0.8h-0.8zM98.1 224.1h0.8v0.8h-0.8zM96.6 219.8h0.8v0.8h-0.8zM98.4 215.5h0.8v0.8h-0.8zM83.5 227.7h0.8v0.8h-0.8zM95.8 259.3h0.8v0.8h-0.8zM85.3 229.4h0.8v0.8h-0.8zM81.8 255.6h0.8v0.8h-0.8zM104.9 247.4h0.8v0.8h-0.8zM94.7 247.0h0.8v0.8h-0.8zM96.7 208.1h0.8v0.8h-0.8zM73.5 241.5h0.8v0.8h-0.8zM113.9 218.1h0.8v0.8h-0.8zM79.6 243.9h0.8v0.8h-0.8zM96.8 211.4h0.8v0.8h-0.8zM64.5 249.6h0.8v0.8h-0.8zM80.3 246.6h0.8v0.8h-0.8zM75.6 234.5h0.8v0.8h-0.8zM79.1 246.3h0.8v0.8h-0.8zM93.6 248.8h0.8v0.8h-0.8zM97.0 218.0h0.8v0.8h-0.8zM76.2 227.6h0.8v0.8h-0.8zM98.0 247.7h0.8v0.8h-0.8zM69.2 238.4h0.8v0.8h-0.8zM94.2 215.4h0.8v0.8h-0.8zM60.5 218.8h0.8v0.8h-0.8zM92.9 247.1h0.8v0.8h-0.8zM72.9 231.1h0.8v0.8h-0.8zM97.0 228.9h0.8v0.8h-0.8zM114.4 229.7h0.8v0.8h-0.8zM95.6 229.2h0.8v0.8h-0.8zM91.8 226.9h0.8v0.8h-0.8zM98.6 237.4h0.8v0.8h-0.8zM97.8 220.8h0.8v0.8h-0.8zM97.7 226.5h0.8v0.8h-0.8zM115.7 225.1h0.8v0.8h-0.8zM96.6 223.4h0.8v0.8h-0.8zM97.0 214.7h0.8v0.8h-0.8zM93.3 232.9h0.8v0.8h-0.8zM85.8 225.1h0.8v0.8h-0.8zM65.3 245.9h0.8v0.8h-0.8zM70.2 217.7h0.8v0.8h-0.8zM86.6 241.9h0.8v0.8h-0.8zM62.3 250.3h0.8v0.8h-0.8zM91.5 244.9h0.8v0.8h-0.8zM98.5 229.8h0.8v0.8h-0.8zM84.8 239.4h0.8v0.8h-0.8zM102.2 241.5h0.8v0.8h-0.8zM105.7 214.1h0.8v0.8h-0.8zM106.5 233.6h0.8v0.8h-0.8zM65.2 246.6h0.8v0.8h-0.8zM70.1 241.7h0.8v0.8h-0.8zM94.8 226.1h0.8v0.8h-0.8zM63.6 226.4h0.8v0.8h-0.8zM93.2 233.5h0.8v0.8h-0.8zM70.6 247.3h0.8v0.8h-0.8zM80.2 239.8h0.8v0.8h-0.8zM69.5 228.4h0.8v0.8h-0.8zM97.3 231.2h0.8v0.8h-0.8zM79.8 244.7h0.8v0.8h-0.8zM84.7 253.7h0.8v0.8h-0.8zM78.7 228.3h0.8v0.8h-0.8zM97.0 257.9h0.8v0.8h-0.8zM92.2 224.7h0.8v0.8h-0.8zM94.1 220.5h0.8v0.8h-0.8zM67.3 227.2h0.8v0.8h-0.8zM104.2 247.8h0.8v0.8h-0.8zM93.0 227.2h0.8v0.8h-0.8zM99.6 247.4h0.8v0.8h-0.8zM97.0 211.3h0.8v0.8h-0.8zM69.0 230.0h0.8v0.8h-0.8zM88.6 243.9h0.8v0.8h-0.8zM108.8 249.9h0.8v0.8h-0.8zM89.0 236.5h0.8v0.8h-0.8zM95.6 210.7h0.8v0.8h-0.8zM113.8 211.2h0.8v0.8h-0.8zM74.0 251.9h0.8v0.8h-0.8zM109.9 224.8h0.8v0.8h-0.8zM105.5 224.0h0.8v0.8h-0.8zM87.5 231.0h0.8v0.8h-0.8zM112.7 217.3h0.8v0.8h-0.8zM105.6 228.0h0.8v0.8h-0.8zM100.1 239.6h0.8v0.8h-0.8zM116.2 222.5h0.8v0.8h-0.8zM88.7 248.4h0.8v0.8h-0.8zM60.8 230.0h0.8v0.8h-0.8zM108.0 256.9h0.8v0.8h-0.8zM77.8 250.8h0.8v0.8h-0.8zM95.3 243.3h0.8v0.8h-0.8zM100.7 235.5h0.8v0.8h-0.8zM74.8 257.9h0.8v0.8h-0.8zM91.4 220.7h0.8v0.8h-0.8zM98.3 236.6h0.8v0.8h-0.8zM112.2 254.6h0.8v0.8h-0.8zM104.8 232.1h0.8v0.8h-0.8zM101.6 230.9h0.8v0.8h-0.8zM95.9 247.7h0.8v0.8h-0.8zM64.4 242.9h0.8v0.8h-0.8zM70.5 242.4h0.8v0.8h-0.8zM105.1 245.5h0.8v0.8h-0.8zM104.4 225.0h0.8v0.8h-0.8zM106.7 237.1h0.8v0.8h-0.8zM97.7 227.9h0.8v0.8h-0.8zM99.0 243.5h0.8v0.8h-0.8zM114.3 223.6h0.8v0.8h-0.8zM63.8 212.6h0.8v0.8h-0.8zM78.9 246.1h0.8v0.8h-0.8zM83.3 240.7h0.8v0.8h-0.8zM79.6 230.5h0.8v0.8h-0.8zM105.7 238.6h0.8v0.8h-0.8zM61.9 242.4h0.8v0.8h-0.8zM71.9 224.2h0.8v0.8h-0.8zM87.7 238.6h0.8v0.8h-0.8zM88.0 250.7h0.8v0.8h-0.8zM113.5 216.7h0.8v0.8h-0.8zM63.4 237.0h0.8v0.8h-0.8zM90.2 252.0h0.8v0.8h-0.8zM89.0 242.7h0.8v0.8h-0.8zM84.5 252.0h0.8v0.8h-0.8zM71.8 249.9h0.8v0.8h-0.8zM106.3 257.2h0.8v0.8h-0.8zM78.2 250.7h0.8v0.8h-0.8zM74.5 245.9h0.8v0.8h-0.8zM120.9 218.1h0.8v0.8h-0.8zM107.9 248.3h0.8v0.8h-0.8zM100.8 227.6h0.8v0.8h-0.8zM90.4 243.5h0.8v0.8h-0.8zM89.0 230.6h0.8v0.8h-0.8zM88.1 246.1h0.8v0.8h-0.8zM94.5 237.4h0.8v0.8h-0.8zM65.7 254.0h0.8v0.8h-0.8zM69.6 244.7h0.8v0.8h-0.8zM114.4 207.5h0.8v0.8h-0.8zM106.9 241.6h0.8v0.8h-0.8zM99.0 236.1h0.8v0.8h-0.8zM65.0 224.1h0.8v0.8h-0.8zM81.0 245.3h0.8v0.8h-0.8zM105.7 242.1h0.8v0.8h-0.8zM107.9 207.8h0.8v0.8h-0.8zM85.2 227.5h0.8v0.8h-0.8zM104.7 250.2h0.8v0.8h-0.8zM109.7 225.1h0.8v0.8h-0.8zM99.4 238.8h0.8v0.8h-0.8zM103.2 215.2h0.8v0.8h-0.8zM93.8 213.5h0.8v0.8h-0.8zM92.4 260.8h0.8v0.8h-0.8zM107.7 248.3h0.8v0.8h-0.8zM91.0 204.8h0.8v0.8h-0.8zM91.0 232.6h0.8v0.8h-0.8zM95.9 252.2h0.8v0.8h-0.8zM85.7 227.8h0.8v0.8h-0.8zM95.3 221.4h0.8v0.8h-0.8zM104.3 226.3h0.8v0.8h-0.8zM98.4 216.1h0.8v0.8h-0.8zM104.4 223.9h0.8v0.8h-0.8zM109.6 214.4h0.8v0.8h-0.8zM97.0 223.9h0.8v0.8h-0.8zM70.0 210.9h0.8v0.8h-0.8zM59.2 215.8h0.8v0.8h-0.8zM94.9 245.5h0.8v0.8h-0.8zM91.9 209.9h0.8v0.8h-0.8zM87.4 229.2h0.8v0.8h-0.8zM104.4 251.2h0.8v0.8h-0.8zM90.5 228.4h0.8v0.8h-0.8zM89.9 228.8h0.8v0.8h-0.8zM86.3 208.9h0.8v0.8h-0.8zM87.6 250.4h0.8v0.8h-0.8zM93.0 224.7h0.8v0.8h-0.8zM61.4 211.8h0.8v0.8h-0.8zM108.4 226.7h0.8v0.8h-0.8zM102.6 251.2h0.8v0.8h-0.8zM93.8 210.8h0.8v0.8h-0.8zM67.3 245.2h0.8v0.8h-0.8zM107.7 225.2h0.8v0.8h-0.8zM104.5 239.0h0.8v0.8h-0.8zM91.7 243.6h0.8v0.8h-0.8zM67.5 245.3h0.8v0.8h-0.8zM96.5 250.3h0.8v0.8h-0.8zM101.6 234.1h0.8v0.8h-0.8zM100.2 236.8h0.8v0.8h-0.8zM91.1 244.4h0.8v0.8h-0.8zM102.7 213.2h0.8v0.8h-0.8zM83.7 245.3h0.8v0.8h-0.8zM104.5 243.6h0.8v0.8h-0.8zM96.3 249.8h0.8v0.8h-0.8zM99.3 226.3h0.8v0.8h-0.8zM92.5 211.0h0.8v0.8h-0.8zM77.2 227.7h0.8v0.8h-0.8zM71.3 245.8h0.8v0.8h-0.8zM106.3 246.8h0.8v0.8h-0.8zM72.0 210.9h0.8v0.8h-0.8zM65.8 235.8h0.8v0.8h-0.8zM97.7 244.9h0.8v0.8h-0.8zM103.0 245.6h0.8v0.8h-0.8zM94.4 240.3h0.8v0.8h-0.8zM98.1 236.9h0.8v0.8h-0.8zM63.5 219.3h0.8v0.8h-0.8zM96.0 226.3h0.8v0.8h-0.8zM84.8 227.4h0.8v0.8h-0.8zM101.3 247.6h0.8v0.8h-0.8zM106.7 243.4h0.8v0.8h-0.8zM109.7 214.1h0.8v0.8h-0.8zM63.5 246.8h0.8v0.8h-0.8zM103.4 241.1h0.8v0.8h-0.8zM112.7 215.7h0.8v0.8h-0.8zM108.4 247.0h0.8v0.8h-0.8zM62.3 242.0h0.8v0.8h-0.8zM68.3 240.0h0.8v0.8h-0.8zM100.5 230.0h0.8v0.8h-0.8zM104.2 238.7h0.8v0.8h-0.8zM59.9 226.6h0.8v0.8h-0.8zM89.7 247.5h0.8v0.8h-0.8zM84.9 244.6h0.8v0.8h-0.8zM81.4 208.2h0.8v0.8h-0.8zM83.0 244.0h0.8v0.8h-0.8zM104.0 239.0h0.8v0.8h-0.8zM79.0 241.0h0.8v0.8h-0.8zM62.8 249.1h0.8v0.8h-0.8zM99.4 229.2h0.8v0.8h-0.8zM99.3 221.0h0.8v0.8h-0.8zM77.3 242.7h0.8v0.8h-0.8zM87.5 253.0h0.8v0.8h-0.8zM69.1 244.9h0.8v0.8h-0.8zM83.0 247.2h0.8v0.8h-0.8zM72.8 238.6h0.8v0.8h-0.8zM75.1 251.1h0.8v0.8h-0.8zM108.1 225.9h0.8v0.8h-0.8zM86.5 242.1h0.8v0.8h-0.8zM101.3 242.6h0.8v0.8h-0.8zM63.7 225.9h0.8v0.8h-0.8zM59.5 211.5h0.8v0.8h-0.8zM66.2 246.6h0.8v0.8h-0.8zM105.4 245.6h0.8v0.8h-0.8zM100.3 222.8h0.8v0.8h-0.8zM106.7 213.1h0.8v0.8h-0.8zM85.1 243.5h0.8v0.8h-0.8zM60.8 246.9h0.8v0.8h-0.8zM89.6 229.5h0.8v0.8h-0.8zM99.3 215.7h0.8v0.8h-0.8zM124.0 213.4h0.8v0.8h-0.8zM82.2 229.2h0.8v0.8h-0.8zM90.6 220.9h0.8v0.8h-0.8zM97.8 208.6h0.8v0.8h-0.8zM68.4 242.6h0.8v0.8h-0.8zM101.7 246.6h0.8v0.8h-0.8zM106.7 209.7h0.8v0.8h-0.8zM68.1 239.0h0.8v0.8h-0.8zM85.6 226.4h0.8v0.8h-0.8zM63.6 229.2h0.8v0.8h-0.8zM92.1 248.4h0.8v0.8h-0.8zM104.6 213.6h0.8v0.8h-0.8zM109.0 224.5h0.8v0.8h-0.8zM105.9 238.8h0.8v0.8h-0.8zM77.2 252.6h0.8v0.8h-0.8zM82.1 243.7h0.8v0.8h-0.8zM98.7 223.6h0.8v0.8h-0.8zM104.3 242.0h0.8v0.8h-0.8zM110.5 236.1h0.8v0.8h-0.8zM59.4 243.6h0.8v0.8h-0.8zM112.8 214.6h0.8v0.8h-0.8zM110.5 224.4h0.8v0.8h-0.8zM77.5 229.1h0.8v0.8h-0.8zM88.3 245.8h0.8v0.8h-0.8zM79.5 247.9h0.8v0.8h-0.8zM85.2 229.8h0.8v0.8h-0.8zM64.8 228.6h0.8v0.8h-0.8zM103.0 246.8h0.8v0.8h-0.8zM102.0 247.7h0.8v0.8h-0.8zM103.0 249.0h0.8v0.8h-0.8zM101.1 226.4h0.8v0.8h-0.8zM103.8 225.8h0.8v0.8h-0.8zM94.9 244.0h0.8v0.8h-0.8zM93.1 241.6h0.8v0.8h-0.8zM90.0 246.7h0.8v0.8h-0.8zM99.7 223.8h0.8v0.8h-0.8zM70.9 227.9h0.8v0.8h-0.8zM97.8 254.1h0.8v0.8h-0.8zM102.7 245.7h0.8v0.8h-0.8zM112.5 212.6h0.8v0.8h-0.8zM101.6 236.9h0.8v0.8h-0.8zM69.1 245.8h0.8v0.8h-0.8zM101.6 239.5h0.8v0.8h-0.8zM92.9 257.2h0.8v0.8h-0.8zM93.3 243.6h0.8v0.8h-0.8zM101.9 247.1h0.8v0.8h-0.8zM104.3 245.6h0.8v0.8h-0.8zM100.2 233.0h0.8v0.8h-0.8zM92.7 248.2h0.8v0.8h-0.8zM91.6 245.9h0.8v0.8h-0.8zM86.1 224.0h0.8v0.8h-0.8zM72.0 226.4h0.8v0.8h-0.8zM97.7 216.7h0.8v0.8h-0.8zM102.8 244.6h0.8v0.8h-0.8zM92.3 243.3h0.8v0.8h-0.8zM98.1 214.4h0.8v0.8h-0.8zM101.4 241.0h0.8v0.8h-0.8zM91.5 232.0h0.8v0.8h-0.8zM104.6 239.7h0.8v0.8h-0.8zM79.5 246.2h0.8v0.8h-0.8zM62.5 231.3h0.8v0.8h-0.8zM92.0 255.9h0.8v0.8h-0.8zM60.0 224.5h0.8v0.8h-0.8zM83.6 247.1h0.8v0.8h-0.8zM108.2 224.3h0.8v0.8h-0.8zM98.7 221.0h0.8v0.8h-0.8zM69.8 235.5h0.8v0.8h-0.8zM83.8 243.4h0.8v0.8h-0.8zM60.7 249.4h0.8v0.8h-0.8zM62.8 242.1h0.8v0.8h-0.8zM95.2 211.6h0.8v0.8h-0.8zM70.7 245.7h0.8v0.8h-0.8zM59.9 247.9h0.8v0.8h-0.8zM109.5 208.6h0.8v0.8h-0.8zM66.2 248.4h0.8v0.8h-0.8zM99.6 226.3h0.8v0.8h-0.8zM65.9 231.9h0.8v0.8h-0.8zM90.7 245.1h0.8v0.8h-0.8zM82.2 224.4h0.8v0.8h-0.8zM74.0 256.2h0.8v0.8h-0.8zM67.8 241.2h0.8v0.8h-0.8zM96.5 216.9h0.8v0.8h-0.8zM95.6 211.0h0.8v0.8h-0.8zM62.9 245.3h0.8v0.8h-0.8zM95.8 214.3h0.8v0.8h-0.8zM66.6 237.4h0.8v0.8h-0.8zM88.0 241.7h0.8v0.8h-0.8zM103.9 240.3h0.8v0.8h-0.8zM86.0 210.3h0.8v0.8h-0.8zM66.2 239.5h0.8v0.8h-0.8zM61.7 224.8h0.8v0.8h-0.8zM89.1 229.4h0.8v0.8h-0.8zM112.5 251.3h0.8v0.8h-0.8zM90.7 250.1h0.8v0.8h-0.8zM86.6 241.2h0.8v0.8h-0.8zM95.1 215.9h0.8v0.8h-0.8zM71.5 228.6h0.8v0.8h-0.8zM95.7 238.6h0.8v0.8h-0.8zM107.4 213.7h0.8v0.8h-0.8zM95.0 243.6h0.8v0.8h-0.8zM99.0 243.5h0.8v0.8h-0.8zM113.3 225.6h0.8v0.8h-0.8zM85.8 228.2h0.8v0.8h-0.8zM93.7 243.6h0.8v0.8h-0.8zM66.7 241.1h0.8v0.8h-0.8zM101.7 231.9h0.8v0.8h-0.8zM80.5 224.5h0.8v0.8h-0.8zM93.0 252.4h0.8v0.8h-0.8zM81.3 242.0h0.8v0.8h-0.8zM103.6 240.3h0.8v0.8h-0.8zM96.4 229.6h0.8v0.8h-0.8zM82.4 247.7h0.8v0.8h-0.8zM89.9 241.4h0.8v0.8h-0.8zM82.3 247.5h0.8v0.8h-0.8zM62.8 209.4h0.8v0.8h-0.8zM82.5 241.7h0.8v0.8h-0.8zM114.4 217.2h0.8v0.8h-0.8zM108.0 251.6h0.8v0.8h-0.8zM75.7 247.5h0.8v0.8h-0.8zM73.0 258.0h0.8v0.8h-0.8zM85.5 245.7h0.8v0.8h-0.8zM96.2 245.1h0.8v0.8h-0.8zM68.8 238.7h0.8v0.8h-0.8zM101.2 244.1h0.8v0.8h-0.8zM68.6 259.1h0.8v0.8h-0.8zM95.0 218.3h0.8v0.8h-0.8zM96.4 245.5h0.8v0.8h-0.8zM99.5 244.6h0.8v0.8h-0.8zM96.3 229.0h0.8v0.8h-0.8zM89.2 226.3h0.8v0.8h-0.8zM79.8 255.9h0.8v0.8h-0.8zM71.7 242.7h0.8v0.8h-0.8zM101.3 250.9h0.8v0.8h-0.8zM78.3 245.3h0.8v0.8h-0.8zM104.1 231.2h0.8v0.8h-0.8zM96.1 247.7h0.8v0.8h-0.8zM85.5 216.3h0.8v0.8h-0.8zM96.8 212.7h0.8v0.8h-0.8zM130.2 260.6h0.8v0.8h-0.8zM62.6 228.8h0.8v0.8h-0.8zM71.2 229.5h0.8v0.8h-0.8zM87.3 243.3h0.8v0.8h-0.8zM98.5 226.1h0.8v0.8h-0.8zM88.2 226.5h0.8v0.8h-0.8zM60.5 222.0h0.8v0.8h-0.8zM60.8 238.6h0.8v0.8h-0.8zM63.8 225.1h0.8v0.8h-0.8zM92.1 252.9h0.8v0.8h-0.8zM93.1 241.8h0.8v0.8h-0.8zM74.3 242.0h0.8v0.8h-0.8zM105.4 248.4h0.8v0.8h-0.8zM103.7 241.9h0.8v0.8h-0.8zM63.2 245.0h0.8v0.8h-0.8zM112.9 222.7h0.8v0.8h-0.8zM89.4 252.1h0.8v0.8h-0.8zM76.0 247.3h0.8v0.8h-0.8zM81.1 255.9h0.8v0.8h-0.8zM88.8 247.8h0.8v0.8h-0.8zM105.5 231.0h0.8v0.8h-0.8zM71.3 210.8h0.8v0.8h-0.8zM84.3 209.6h0.8v0.8h-0.8zM100.8 243.1h0.8v0.8h-0.8zM99.4 209.5h0.8v0.8h-0.8zM95.4 233.1h0.8v0.8h-0.8zM88.8 242.4h0.8v0.8h-0.8zM100.6 238.0h0.8v0.8h-0.8zM99.9 246.2h0.8v0.8h-0.8zM76.4 240.1h0.8v0.8h-0.8zM77.7 242.9h0.8v0.8h-0.8zM98.8 209.8h0.8v0.8h-0.8zM92.5 245.4h0.8v0.8h-0.8zM96.5 217.0h0.8v0.8h-0.8zM112.4 234.2h0.8v0.8h-0.8zM78.8 228.8h0.8v0.8h-0.8zM77.2 228.7h0.8v0.8h-0.8zM101.6 228.9h0.8v0.8h-0.8zM63.3 223.5h0.8v0.8h-0.8zM97.4 244.8h0.8v0.8h-0.8zM82.6 251.1h0.8v0.8h-0.8zM94.1 230.4h0.8v0.8h-0.8zM79.7 231.0h0.8v0.8h-0.8zM88.3 229.2h0.8v0.8h-0.8zM102.9 227.7h0.8v0.8h-0.8zM61.6 243.5h0.8v0.8h-0.8zM63.5 244.5h0.8v0.8h-0.8zM103.3 232.7h0.8v0.8h-0.8zM97.3 216.4h0.8v0.8h-0.8zM95.6 229.5h0.8v0.8h-0.8zM106.1 230.1h0.8v0.8h-0.8zM109.6 227.9h0.8v0.8h-0.8zM110.0 226.9h0.8v0.8h-0.8zM103.3 246.5h0.8v0.8h-0.8zM61.0 209.6h0.8v0.8h-0.8zM98.5 216.0h0.8v0.8h-0.8zM88.1 248.8h0.8v0.8h-0.8zM108.0 234.4h0.8v0.8h-0.8zM100.7 231.6h0.8v0.8h-0.8zM102.2 245.5h0.8v0.8h-0.8zM84.5 243.0h0.8v0.8h-0.8zM63.0 247.1h0.8v0.8h-0.8zM69.0 245.4h0.8v0.8h-0.8zM64.1 245.9h0.8v0.8h-0.8zM84.3 245.6h0.8v0.8h-0.8zM73.4 245.9h0.8v0.8h-0.8zM78.8 231.4h0.8v0.8h-0.8zM83.4 210.8h0.8v0.8h-0.8zM62.8 216.4h0.8v0.8h-0.8zM69.1 244.7h0.8v0.8h-0.8zM104.3 250.9h0.8v0.8h-0.8zM59.3 250.4h0.8v0.8h-0.8zM62.6 211.9h0.8v0.8h-0.8zM88.0 240.2h0.8v0.8h-0.8zM102.1 226.0h0.8v0.8h-0.8zM85.5 247.2h0.8v0.8h-0.8zM63.0 228.5h0.8v0.8h-0.8zM61.6 248.2h0.8v0.8h-0.8zM110.4 215.1h0.8v0.8h-0.8zM87.2 228.4h0.8v0.8h-0.8zM75.8 240.7h0.8v0.8h-0.8zM69.4 229.0h0.8v0.8h-0.8zM65.4 240.8h0.8v0.8h-0.8zM70.5 229.0h0.8v0.8h-0.8zM74.5 240.5h0.8v0.8h-0.8zM110.6 249.7h0.8v0.8h-0.8zM83.1 226.2h0.8v0.8h-0.8zM104.3 237.3h0.8v0.8h-0.8zM89.9 229.8h0.8v0.8h-0.8zM82.0 236.5h0.8v0.8h-0.8zM60.0 242.4h0.8v0.8h-0.8zM76.2 229.5h0.8v0.8h-0.8zM86.5 245.1h0.8v0.8h-0.8zM92.4 247.9h0.8v0.8h-0.8zM101.2 255.2h0.8v0.8h-0.8zM105.1 223.7h0.8v0.8h-0.8zM81.3 225.5h0.8v0.8h-0.8zM110.3 234.8h0.8v0.8h-0.8zM112.8 218.8h0.8v0.8h-0.8zM112.6 219.5h0.8v0.8h-0.8zM84.2 229.3h0.8v0.8h-0.8zM110.5 254.2h0.8v0.8h-0.8zM82.2 229.8h0.8v0.8h-0.8zM77.1 235.0h0.8v0.8h-0.8zM64.6 229.7h0.8v0.8h-0.8zM78.2 242.7h0.8v0.8h-0.8zM92.7 249.0h0.8v0.8h-0.8zM76.5 210.9h0.8v0.8h-0.8zM96.6 250.2h0.8v0.8h-0.8zM74.1 250.4h0.8v0.8h-0.8zM101.7 238.3h0.8v0.8h-0.8zM74.0 226.8h0.8v0.8h-0.8zM72.1 242.9h0.8v0.8h-0.8zM61.3 241.3h0.8v0.8h-0.8zM98.0 252.0h0.8v0.8h-0.8zM107.0 227.7h0.8v0.8h-0.8zM94.2 215.6h0.8v0.8h-0.8zM100.7 241.9h0.8v0.8h-0.8zM115.3 225.5h0.8v0.8h-0.8zM65.7 242.5h0.8v0.8h-0.8zM65.7 245.5h0.8v0.8h-0.8zM61.5 238.0h0.8v0.8h-0.8zM103.7 225.3h0.8v0.8h-0.8zM105.5 246.7h0.8v0.8h-0.8zM97.8 221.3h0.8v0.8h-0.8zM104.1 245.4h0.8v0.8h-0.8zM98.8 243.8h0.8v0.8h-0.8zM70.9 235.6h0.8v0.8h-0.8zM68.5 229.7h0.8v0.8h-0.8zM98.8 219.3h0.8v0.8h-0.8zM93.2 244.9h0.8v0.8h-0.8zM59.3 219.1h0.8v0.8h-0.8zM90.7 245.4h0.8v0.8h-0.8zM92.8 227.8h0.8v0.8h-0.8zM71.0 236.6h0.8v0.8h-0.8zM82.3 243.5h0.8v0.8h-0.8zM68.6 209.5h0.8v0.8h-0.8zM102.0 240.3h0.8v0.8h-0.8zM65.8 249.6h0.8v0.8h-0.8zM77.7 246.1h0.8v0.8h-0.8zM98.7 225.8h0.8v0.8h-0.8zM82.9 247.8h0.8v0.8h-0.8zM101.2 209.8h0.8v0.8h-0.8zM84.9 242.5h0.8v0.8h-0.8zM90.4 240.2h0.8v0.8h-0.8zM113.9 214.2h0.8v0.8h-0.8zM71.0 255.4h0.8v0.8h-0.8zM102.8 251.6h0.8v0.8h-0.8zM62.3 248.2h0.8v0.8h-0.8zM98.9 245.2h0.8v0.8h-0.8zM100.1 238.4h0.8v0.8h-0.8zM108.3 238.5h0.8v0.8h-0.8zM98.7 240.9h0.8v0.8h-0.8zM106.7 236.8h0.8v0.8h-0.8zM83.7 227.7h0.8v0.8h-0.8zM64.7 245.7h0.8v0.8h-0.8zM84.3 227.3h0.8v0.8h-0.8zM80.7 229.4h0.8v0.8h-0.8zM61.6 217.1h0.8v0.8h-0.8zM102.9 249.1h0.8v0.8h-0.8zM67.0 225.1h0.8v0.8h-0.8zM87.8 252.4h0.8v0.8h-0.8zM61.3 248.6h0.8v0.8h-0.8zM96.5 225.0h0.8v0.8h-0.8zM90.4 236.7h0.8v0.8h-0.8zM91.8 237.7h0.8v0.8h-0.8zM108.6 243.3h0.8v0.8h-0.8zM98.3 224.6h0.8v0.8h-0.8zM77.6 243.8h0.8v0.8h-0.8zM60.3 227.6h0.8v0.8h-0.8zM94.4 246.6h0.8v0.8h-0.8zM69.4 228.8h0.8v0.8h-0.8zM95.6 244.7h0.8v0.8h-0.8zM96.2 258.5h0.8v0.8h-0.8zM99.2 240.8h0.8v0.8h-0.8zM89.1 209.6h0.8v0.8h-0.8zM100.1 226.9h0.8v0.8h-0.8zM93.5 226.6h0.8v0.8h-0.8zM63.8 244.5h0.8v0.8h-0.8zM101.6 242.6h0.8v0.8h-0.8zM99.3 240.0h0.8v0.8h-0.8zM86.0 242.4h0.8v0.8h-0.8zM61.8 229.6h0.8v0.8h-0.8zM76.6 229.3h0.8v0.8h-0.8zM98.8 219.5h0.8v0.8h-0.8zM103.8 210.0h0.8v0.8h-0.8zM94.6 209.9h0.8v0.8h-0.8zM103.6 214.5h0.8v0.8h-0.8zM114.9 218.3h0.8v0.8h-0.8zM108.3 248.6h0.8v0.8h-0.8zM59.7 230.9h0.8v0.8h-0.8zM80.7 229.6h0.8v0.8h-0.8zM84.8 228.2h0.8v0.8h-0.8zM60.5 240.2h0.8v0.8h-0.8zM87.0 248.6h0.8v0.8h-0.8zM105.3 235.2h0.8v0.8h-0.8z" fill="#1a1a1a" fill-opacity="0.6"/>
<path d="M104.6 249.8h0.8v0.8h-0.8zM89.8 239.1h0.8v0.8h-0.8zM88.0 238.5h0.8v0.8h-0.8zM77.5 252.6h0.8v0.8h-0.8zM94.7 220.8h0.8v0.8h-0.8zM73.5 246.2h0.8v0.8h-0.8zM109.4 226.7h0.8v0.8h-0.8zM85.4 241.4h0.8v0.8h-0.8zM105.6 234.3h0.8v0.8h-0.8zM108.9 212.4h0.8v0.8h-0.8zM100.7 209.8h0.8v0.8h-0.8zM72.6 210.5h0.8v0.8h-0.8zM73.2 228.1h0.8v0.8h-0.8zM74.7 240.3h0.8v0.8h-0.8zM70.0 227.6h0.8v0.8h-0.8zM86.9 246.9h0.8v0.8h-0.8zM108.6 234.7h0.8v0.8h-0.8zM85.4 247.6h0.8v0.8h-0.8zM106.2 242.5h0.8v0.8h-0.8zM91.9 244.3h0.8v0.8h-0.8zM93.3 252.9h0.8v0.8h-0.8zM101.2 238.2h0.8v0.8h-0.8zM74.3 245.6h0.8v0.8h-0.8zM90.6 246.6h0.8v0.8h-0.8zM106.6 240.7h0.8v0.8h-0.8zM92.4 247.4h0.8v0.8h-0.8zM102.3 224.7h0.8v0.8h-0.8zM90.2 249.4h0.8v0.8h-0.8zM91.9 230.0h0.8v0.8h-0.8zM78.5 242.9h0.8v0.8h-0.8zM91.1 238.7h0.8v0.8h-0.8zM112.6 231.4h0.8v0.8h-0.8zM92.8 225.5h0.8v0.8h-0.8zM98.4 225.8h0.8v0.8h-0.8zM112.9 250.7h0.8v0.8h-0.8zM95.8 217.3h0.8v0.8h-0.8zM72.2 248.3h0.8v0.8h-0.8zM117.8 227.4h0.8v0.8h-0.8zM92.9 209.0h0.8v0.8h-0.8zM95.4 216.9h0.8v0.8h-0.8zM115.8 220.6h0.8v0.8h-0.8zM78.8 229.3h0.8v0.8h-0.8zM103.1 248.0h0.8v0.8h-0.8zM74.4 249.2h0.8v0.8h-0.8zM91.2 241.2h0.8v0.8h-0.8zM112.2 215.9h0.8v0.8h-0.8zM101.0 243.6h0.8v0.8h-0.8zM110.8 213.3h0.8v0.8h-0.8zM98.0 245.1h0.8v0.8h-0.8zM96.5 214.2h0.8v0.8h-0.8zM103.2 243.6h0.8v0.8h-0.8zM79.9 255.5h0.8v0.8h-0.8zM109.6 244.8h0.8v0.8h-0.8zM94.6 220.3h0.8v0.8h-0.8zM73.6 233.6h0.8v0.8h-0.8zM92.3 245.9h0.8v0.8h-0.8zM68.9 249.7h0.8v0.8h-0.8zM99.4 211.7h0.8v0.8h-0.8zM59.5 215.1h0.8v0.8h-0.8zM73.9 243.6h0.8v0.8h-0.8zM97.0 219.6h0.8v0.8h-0.8zM93.3 245.5h0.8v0.8h-0.8zM113.1 220.3h0.8v0.8h-0.8zM103.7 240.3h0.8v0.8h-0.8zM88.9 229.5h0.8v0.8h-0.8zM93.8 236.8h0.8v0.8h-0.8zM95.5 217.5h0.8v0.8h-0.8zM63.9 244.4h0.8v0.8h-0.8zM81.0 243.9h0.8v0.8h-0.8zM99.8 224.1h0.8v0.8h-0.8zM68.1 228.1h0.8v0.8h-0.8zM107.9 226.3h0.8v0.8h-0.8zM79.1 244.5h0.8v0.8h-0.8zM71.1 239.9h0.8v0.8h-0.8zM68.3 249.8h0.8v0.8h-0.8zM88.1 227.2h0.8v0.8h-0.8zM77.8 241.4h0.8v0.8h-0.8zM100.9 231.6h0.8v0.8h-0.8zM78.6 254.5h0.8v0.8h-0.8zM60.7 251.6h0.8v0.8h-0.8zM65.4 229.0h0.8v0.8h-0.8zM102.3 239.3h0.8v0.8h-0.8zM98.4 229.9h0.8v0.8h-0.8zM78.5 253.4h0.8v0.8h-0.8zM70.9 247.5h0.8v0.8h-0.8zM71.5 259.0h0.8v0.8h-0.8zM69.6 245.4h0.8v0.8h-0.8zM85.2 242.8h0.8v0.8h-0.8zM78.8 241.8h0.8v0.8h-0.8zM91.9 245.8h0.8v0.8h-0.8zM86.8 250.4h0.8v0.8h-0.8zM67.0 245.3h0.8v0.8h-0.8zM63.3 242.0h0.8v0.8h-0.8zM81.0 229.6h0.8v0.8h-0.8zM72.0 229.7h0.8v0.8h-0.8zM94.8 245.6h0.8v0.8h-0.8zM60.3 217.0h0.8v0.8h-0.8zM85.4 244.2h0.8v0.8h-0.8zM84.9 250.0h0.8v0.8h-0.8zM87.0 248.0h0.8v0.8h-0.8zM72.0 226.2h0.8v0.8h-0.8zM100.0 217.6h0.8v0.8h-0.8zM86.3 235.3h0.8v0.8h-0.8zM94.0 252.6h0.8v0.8h-0.8zM59.8 252.4h0.8v0.8h-0.8zM62.6 245.7h0.8v0.8h-0.8zM70.3 229.8h0.8v0.8h-0.8zM82.5 263.1h0.8v0.8h-0.8zM96.6 252.3h0.8v0.8h-0.8zM69.4 226.8h0.8v0.8h-0.8zM93.8 246.2h0.8v0.8h-0.8zM110.1 253.3h0.8v0.8h-0.8zM93.2 248.4h0.8v0.8h-0.8zM98.2 247.8h0.8v0.8h-0.8zM72.7 231.6h0.8v0.8h-0.8zM105.9 234.4h0.8v0.8h-0.8zM104.8 234.6h0.8v0.8h-0.8zM96.5 241.2h0.8v0.8h-0.8zM98.1 215.1h0.8v0.8h-0.8zM106.4 239.3h0.8v0.8h-0.8zM84.4 246.7h0.8v0.8h-0.8zM83.9 226.6h0.8v0.8h-0.8zM82.2 246.2h0.8v0.8h-0.8zM85.5 232.9h0.8v0.8h-0.8zM123.6 237.6h0.8v0.8h-0.8zM64.0 229.5h0.8v0.8h-0.8zM98.7 213.4h0.8v0.8h-0.8zM82.8 225.2h0.8v0.8h-0.8zM67.1 228.9h0.8v0.8h-0.8zM95.4 251.2h0.8v0.8h-0.8zM108.7 210.9h0.8v0.8h-0.8zM82.3 256.7h0.8v0.8h-0.8zM69.2 247.4h0.8v0.8h-0.8zM104.3 240.3h0.8v0.8h-0.8zM62.5 230.5h0.8v0.8h-0.8zM67.7 239.2h0.8v0.8h-0.8zM119.5 212.6h0.8v0.8h-0.8zM75.7 210.1h0.8v0.8h-0.8zM80.1 229.6h0.8v0.8h-0.8zM99.8 251.8h0.8v0.8h-0.8zM84.9 244.6h0.8v0.8h-0.8zM81.5 226.0h0.8v0.8h-0.8zM99.1 242.1h0.8v0.8h-0.8zM78.8 228.8h0.8v0.8h-0.8zM113.1 221.3h0.8v0.8h-0.8zM111.8 211.1h0.8v0.8h-0.8zM100.4 246.2h0.8v0.8h-0.8zM82.9 231.4h0.8v0.8h-0.8zM92.1 253.2h0.8v0.8h-0.8zM93.4 254.5h0.8v0.8h-0.8zM91.3 244.4h0.8v0.8h-0.8zM105.3 232.8h0.8v0.8h-0.8zM102.2 244.5h0.8v0.8h-0.8zM107.6 260.5h0.8v0.8h-0.8zM92.5 246.1h0.8v0.8h-0.8zM94.6 229.1h0.8v0.8h-0.8zM98.6 222.3h0.8v0.8h-0.8zM86.9 210.1h0.8v0.8h-0.8zM103.6 225.0h0.8v0.8h-0.8zM91.6 242.2h0.8v0.8h-0.8zM94.9 207.6h0.8v0.8h-0.8zM72.3 246.5h0.8v0.8h-0.8zM79.1 225.0h0.8v0.8h-0.8zM90.8 244.5h0.8v0.8h-0.8zM63.9 232.1h0.8v0.8h-0.8zM103.4 241.9h0.8v0.8h-0.8zM74.6 229.4h0.8v0.8h-0.8zM100.8 246.1h0.8v0.8h-0.8zM96.8 251.6h0.8v0.8h-0.8zM113.8 215.7h0.8v0.8h-0.8zM68.5 242.4h0.8v0.8h-0.8zM85.0 245.8h0.8v0.8h-0.8zM109.1 255.2h0.8v0.8h-0.8zM72.5 244.3h0.8v0.8h-0.8zM72.5 258.6h0.8v0.8h-0.8zM99.3 226.2h0.8v0.8h-0.8zM106.2 210.0h0.8v0.8h-0.8zM103.5 224.0h0.8v0.8h-0.8zM73.5 237.8h0.8v0.8h-0.8zM74.9 242.1h0.8v0.8h-0.8zM72.9 231.8h0.8v0.8h-0.8zM65.2 246.2h0.8v0.8h-0.8zM102.9 242.8h0.8v0.8h-0.8zM95.8 245.8h0.8v0.8h-0.8zM74.7 210.8h0.8v0.8h-0.8zM63.4 212.3h0.8v0.8h-0.8zM73.2 233.0h0.8v0.8h-0.8zM77.7 229.3h0.8v0.8h-0.8zM75.9 240.6h0.8v0.8h-0.8zM79.6 224.7h0.8v0.8h-0.8zM120.8 218.9h0.8v0.8h-0.8zM104.9 241.9h0.8v0.8h-0.8zM75.8 249.8h0.8v0.8h-0.8zM94.2 216.7h0.8v0.8h-0.8zM83.9 250.2h0.8v0.8h-0.8zM88.2 224.9h0.8v0.8h-0.8zM77.4 257.2h0.8v0.8h-0.8zM63.3 245.9h0.8v0.8h-0.8zM91.1 209.5h0.8v0.8h-0.8zM80.7 226.3h0.8v0.8h-0.8zM100.9 248.8h0.8v0.8h-0.8zM97.8 214.8h0.8v0.8h-0.8zM96.4 240.0h0.8v0.8h-0.8zM77.8 241.3h0.8v0.8h-0.8zM72.5 249.3h0.8v0.8h-0.8zM100.5 243.5h0.8v0.8h-0.8zM59.5 212.2h0.8v0.8h-0.8zM94.2 234.6h0.8v0.8h-0.8zM112.6 214.3h0.8v0.8h-0.8zM96.0 210.9h0.8v0.8h-0.8zM83.2 229.1h0.8v0.8h-0.8zM88.5 208.6h0.8v0.8h-0.8zM99.5 233.5h0.8v0.8h-0.8zM79.4 235.5h0.8v0.8h-0.8zM112.5 234.1h0.8v0.8h-0.8zM84.5 235.3h0.8v0.8h-0.8zM114.9 207.0h0.8v0.8h-0.8zM70.0 250.6h0.8v0.8h-0.8zM122.5 211.7h0.8v0.8h-0.8zM61.7 263.2h0.8v0.8h-0.8zM63.4 238.2h0.8v0.8h-0.8zM85.4 242.6h0.8v0.8h-0.8zM99.1 219.6h0.8v0.8h-0.8zM84.7 255.1h0.8v0.8h-0.8zM64.5 246.7h0.8v0.8h-0.8zM66.6 235.1h0.8v0.8h-0.8zM68.8 238.4h0.8v0.8h-0.8zM102.5 245.6h0.8v0.8h-0.8zM113.0 223.5h0.8v0.8h-0.8zM63.5 248.0h0.8v0.8h-0.8zM82.4 226.9h0.8v0.8h-0.8zM113.9 223.6h0.8v0.8h-0.8zM104.4 249.8h0.8v0.8h-0.8zM99.9 250.9h0.8v0.8h-0.8zM92.3 250.5h0.8v0.8h-0.8zM123.5 225.2h0.8v0.8h-0.8zM66.4 210.7h0.8v0.8h-0.8zM76.4 240.9h0.8v0.8h-0.8zM74.1 242.1h0.8v0.8h-0.8zM97.5 204.5h0.8v0.8h-0.8zM59.4 242.1h0.8v0.8h-0.8zM98.0 219.1h0.8v0.8h-0.8zM95.1 204.0h0.8v0.8h-0.8zM83.9 246.9h0.8v0.8h-0.8zM66.9 229.6h0.8v0.8h-0.8zM75.6 234.8h0.8v0.8h-0.8zM94.6 242.5h0.8v0.8h-0.8zM70.7 248.0h0.8v0.8h-0.8zM94.6 231.6h0.8v0.8h-0.8zM96.8 241.8h0.8v0.8h-0.8zM73.3 229.5h0.8v0.8h-0.8zM64.7 245.6h0.8v0.8h-0.8zM76.3 239.1h0.8v0.8h-0.8zM89.2 260.1h0.8v0.8h-0.8zM67.6 243.7h0.8v0.8h-0.8zM116.0 233.5h0.8v0.8h-0.8zM92.1 249.1h0.8v0.8h-0.8zM95.4 248.2h0.8v0.8h-0.8zM101.7 215.3h0.8v0.8h-0.8zM70.6 245.8h0.8v0.8h-0.8zM107.0 243.0h0.8v0.8h-0.8zM70.1 251.5h0.8v0.8h-0.8zM105.9 235.0h0.8v0.8h-0.8zM74.6 232.0h0.8v0.8h-0.8zM91.4 250.0h0.8v0.8h-0.8zM112.4 218.3h0.8v0.8h-0.8zM98.4 214.0h0.8v0.8h-0.8zM105.6 215.4h0.8v0.8h-0.8zM67.3 224.1h0.8v0.8h-0.8zM91.6 229.4h0.8v0.8h-0.8zM96.2 260.6h0.8v0.8h-0.8zM66.7 225.8h0.8v0.8h-0.8zM100.2 241.8h0.8v0.8h-0.8zM71.9 244.6h0.8v0.8h-0.8zM98.2 210.8h0.8v0.8h-0.8zM72.9 240.5h0.8v0.8h-0.8zM71.1 242.6h0.8v0.8h-0.8zM98.1 249.1h0.8v0.8h-0.8zM109.7 226.1h0.8v0.8h-0.8zM81.3 246.4h0.8v0.8h-0.8zM96.9 252.8h0.8v0.8h-0.8zM72.8 229.1h0.8v0.8h-0.8zM79.7 208.2h0.8v0.8h-0.8zM74.4 223.3h0.8v0.8h-0.8zM104.6 245.9h0.8v0.8h-0.8zM119.3 220.9h0.8v0.8h-0.8zM81.5 251.1h0.8v0.8h-0.8zM94.1 257.8h0.8v0.8h-0.8zM89.5 242.5h0.8v0.8h-0.8zM100.3 226.1h0.8v0.8h-0.8zM109.8 214.7h0.8v0.8h-0.8zM97.0 217.0h0.8v0.8h-0.8zM97.3 226.6h0.8v0.8h-0.8zM65.0 215.7h0.8v0.8h-0.8zM92.6 249.2h0.8v0.8h-0.8zM103.9 244.7h0.8v0.8h-0.8zM93.3 246.1h0.8v0.8h-0.8zM69.8 241.8h0.8v0.8h-0.8zM81.0 245.4h0.8v0.8h-0.8zM63.2 218.4h0.8v0.8h-0.8zM72.5 246.8h0.8v0.8h-0.8zM76.7 247.6h0.8v0.8h-0.8zM100.2 244.6h0.8v0.8h-0.8zM96.9 222.6h0.8v0.8h-0.8zM115.7 214.8h0.8v0.8h-0.8zM99.0 240.9h0.8v0.8h-0.8zM60.8 243.7h0.8v0.8h-0.8zM105.5 224.9h0.8v0.8h-0.8zM77.4 229.0h0.8v0.8h-0.8zM87.9 250.9h0.8v0.8h-0.8zM72.4 229.2h0.8v0.8h-0.8zM59.8 219.4h0.8v0.8h-0.8zM104.0 214.1h0.8v0.8h-0.8zM69.9 245.4h0.8v0.8h-0.8zM90.5 246.8h0.8v0.8h-0.8zM76.0 249.7h0.8v0.8h-0.8zM76.6 247.4h0.8v0.8h-0.8zM79.6 241.7h0.8v0.8h-0.8zM105.2 237.4h0.8v0.8h-0.8zM69.2 238.2h0.8v0.8h-0.8zM100.0 207.6h0.8v0.8h-0.8zM116.0 225.4h0.8v0.8h-0.8zM79.3 260.5h0.8v0.8h-0.8zM82.9 242.0h0.8v0.8h-0.8zM71.8 229.0h0.8v0.8h-0.8zM75.3 244.8h0.8v0.8h-0.8zM111.7 224.1h0.8v0.8h-0.8zM80.1 245.2h0.8v0.8h-0.8zM95.7 209.3h0.8v0.8h-0.8zM101.0 247.3h0.8v0.8h-0.8zM104.8 214.9h0.8v0.8h-0.8zM110.5 241.0h0.8v0.8h-0.8zM103.7 223.9h0.8v0.8h-0.8zM101.2 214.8h0.8v0.8h-0.8zM72.5 240.3h0.8v0.8h-0.8zM102.5 244.0h0.8v0.8h-0.8zM97.9 242.9h0.8v0.8h-0.8zM69.8 251.3h0.8v0.8h-0.8zM88.3 241.6h0.8v0.8h-0.8zM93.9 228.5h0.8v0.8h-0.8zM64.4 242.2h0.8v0.8h-0.8zM75.4 248.9h0.8v0.8h-0.8zM62.9 243.6h0.8v0.8h-0.8zM93.8 245.5h0.8v0.8h-0.8zM100.3 211.9h0.8v0.8h-0.8zM76.6 247.6h0.8v0.8h-0.8zM83.1 241.0h0.8v0.8h-0.8zM117.7 212.3h0.8v0.8h-0.8zM61.2 248.9h0.8v0.8h-0.8zM106.9 204.0h0.8v0.8h-0.8zM95.7 254.1h0.8v0.8h-0.8zM72.7 247.3h0.8v0.8h-0.8zM82.9 243.3h0.8v0.8h-0.8zM70.4 233.4h0.8v0.8h-0.8zM81.4 226.0h0.8v0.8h-0.8zM98.8 242.7h0.8v0.8h-0.8zM99.5 224.9h0.8v0.8h-0.8zM89.9 230.0h0.8v0.8h-0.8zM99.0 227.7h0.8v0.8h-0.8zM101.0 244.4h0.8v0.8h-0.8zM79.7 237.9h0.8v0.8h-0.8zM77.7 210.6h0.8v0.8h-0.8zM112.9 218.0h0.8v0.8h-0.8zM78.8 254.6h0.8v0.8h-0.8zM103.9 227.5h0.8v0.8h-0.8zM71.1 236.0h0.8v0.8h-0.8zM68.9 249.5h0.8v0.8h-0.8zM96.9 249.7h0.8v0.8h-0.8zM75.0 241.3h0.8v0.8h-0.8zM93.3 257.1h0.8v0.8h-0.8zM69.8 229.4h0.8v0.8h-0.8zM91.8 242.8h0.8v0.8h-0.8zM97.8 244.3h0.8v0.8h-0.8zM78.5 226.2h0.8v0.8h-0.8zM100.2 223.9h0.8v0.8h-0.8zM102.8 244.6h0.8v0.8h-0.8zM88.4 239.8h0.8v0.8h-0.8zM81.1 225.3h0.8v0.8h-0.8zM90.0 229.0h0.8v0.8h-0.8zM105.9 244.6h0.8v0.8h-0.8zM90.2 213.8h0.8v0.8h-0.8zM84.1 228.0h0.8v0.8h-0.8zM100.3 223.7h0.8v0.8h-0.8zM116.6 215.6h0.8v0.8h-0.8zM107.5 237.6h0.8v0.8h-0.8zM94.1 250.2h0.8v0.8h-0.8zM86.7 240.5h0.8v0.8h-0.8zM101.0 252.1h0.8v0.8h-0.8zM93.4 246.7h0.8v0.8h-0.8zM91.5 239.3h0.8v0.8h-0.8zM83.6 227.0h0.8v0.8h-0.8zM101.5 225.1h0.8v0.8h-0.8zM92.2 253.6h0.8v0.8h-0.8zM79.1 241.9h0.8v0.8h-0.8zM87.6 237.0h0.8v0.8h-0.8zM105.2 248.1h0.8v0.8h-0.8zM83.2 245.3h0.8v0.8h-0.8zM97.2 241.6h0.8v0.8h-0.8zM95.5 228.6h0.8v0.8h-0.8zM64.7 228.2h0.8v0.8h-0.8zM101.2 241.3h0.8v0.8h-0.8zM76.5 240.6h0.8v0.8h-0.8zM105.7 214.4h0.8v0.8h-0.8zM73.8 247.1h0.8v0.8h-0.8zM109.9 235.9h0.8v0.8h-0.8zM85.2 245.3h0.8v0.8h-0.8zM68.6 241.2h0.8v0.8h-0.8zM105.0 214.5h0.8v0.8h-0.8zM104.9 246.0h0.8v0.8h-0.8zM84.5 230.8h0.8v0.8h-0.8zM63.0 225.5h0.8v0.8h-0.8zM93.3 218.6h0.8v0.8h-0.8zM105.6 241.8h0.8v0.8h-0.8zM112.0 213.5h0.8v0.8h-0.8zM92.8 245.1h0.8v0.8h-0.8zM63.4 228.8h0.8v0.8h-0.8zM97.9 214.5h0.8v0.8h-0.8zM111.2 254.3h0.8v0.8h-0.8zM101.3 240.3h0.8v0.8h-0.8zM102.6 228.6h0.8v0.8h-0.8zM71.3 245.1h0.8v0.8h-0.8zM115.4 215.6h0.8v0.8h-0.8zM81.2 242.5h0.8v0.8h-0.8zM109.2 227.4h0.8v0.8h-0.8zM98.1 251.6h0.8v0.8h-0.8zM64.2 215.4h0.8v0.8h-0.8zM77.9 236.6h0.8v0.8h-0.8zM107.3 246.8h0.8v0.8h-0.8zM68.9 247.3h0.8v0.8h-0.8zM100.1 211.7h0.8v0.8h-0.8zM97.8 253.4h0.8v0.8h-0.8zM92.0 245.0h0.8v0.8h-0.8zM84.1 249.4h0.8v0.8h-0.8zM75.4 244.4h0.8v0.8h-0.8zM66.6 248.2h0.8v0.8h-0.8zM92.4 243.7h0.8v0.8h-0.8zM73.6 245.2h0.8v0.8h-0.8zM105.4 234.9h0.8v0.8h-0.8zM87.8 251.0h0.8v0.8h-0.8zM72.6 228.2h0.8v0.8h-0.8zM103.1 243.6h0.8v0.8h-0.8zM106.6 231.5h0.8v0.8h-0.8zM109.4 253.7h0.8v0.8h-0.8zM102.4 244.5h0.8v0.8h-0.8zM87.5 246.1h0.8v0.8h-0.8zM109.8 251.5h0.8v0.8h-0.8zM110.7 214.2h0.8v0.8h-0.8zM60.9 240.3h0.8v0.8h-0.8zM87.3 228.6h0.8v0.8h-0.8zM69.4 224.4h0.8v0.8h-0.8zM106.9 240.2h0.8v0.8h-0.8zM74.2 237.9h0.8v0.8h-0.8zM99.1 207.0h0.8v0.8h-0.8zM63.5 253.4h0.8v0.8h-0.8zM65.3 238.9h0.8v0.8h-0.8zM103.2 225.5h0.8v0.8h-0.8zM63.8 226.4h0.8v0.8h-0.8zM106.3 235.5h0.8v0.8h-0.8zM81.4 246.3h0.8v0.8h-0.8zM96.6 226.1h0.8v0.8h-0.8zM91.8 244.0h0.8v0.8h-0.8zM98.7 243.8h0.8v0.8h-0.8zM99.8 227.6h0.8v0.8h-0.8zM76.0 243.8h0.8v0.8h-0.8zM96.7 212.5h0.8v0.8h-0.8zM104.2 251.3h0.8v0.8h-0.8zM96.6 256.5h0.8v0.8h-0.8zM67.2 247.3h0.8v0.8h-0.8zM109.5 252.1h0.8v0.8h-0.8zM89.7 247.2h0.8v0.8h-0.8zM100.6 246.6h0.8v0.8h-0.8zM70.9 230.1h0.8v0.8h-0.8zM60.4 252.6h0.8v0.8h-0.8zM100.6 239.1h0.8v0.8h-0.8zM88.7 247.5h0.8v0.8h-0.8zM100.6 247.0h0.8v0.8h-0.8zM96.6 248.8h0.8v0.8h-0.8zM61.1 246.8h0.8v0.8h-0.8zM98.1 244.0h0.8v0.8h-0.8zM93.2 238.4h0.8v0.8h-0.8zM86.4 239.3h0.8v0.8h-0.8zM78.6 228.9h0.8v0.8h-0.8zM61.0 245.4h0.8v0.8h-0.8zM80.5 240.4h0.8v0.8h-0.8zM109.1 247.1h0.8v0.8h-0.8zM97.9 246.5h0.8v0.8h-0.8zM88.7 247.1h0.8v0.8h-0.8zM71.6 224.5h0.8v0.8h-0.8zM65.5 210.3h0.8v0.8h-0.8zM97.7 229.4h0.8v0.8h-0.8zM75.1 242.2h0.8v0.8h-0.8zM60.6 241.5h0.8v0.8h-0.8zM94.6 241.1h0.8v0.8h-0.8zM73.6 241.8h0.8v0.8h-0.8zM105.2 215.5h0.8v0.8h-0.8zM105.4 235.0h0.8v0.8h-0.8zM96.5 222.0h0.8v0.8h-0.8zM74.8 229.8h0.8v0.8h-0.8zM75.4 227.6h0.8v0.8h-0.8zM100.6 213.8h0.8v0.8h-0.8zM59.8 250.4h0.8v0.8h-0.8zM101.7 222.6h0.8v0.8h-0.8zM104.6 224.4h0.8v0.8h-0.8zM68.2 228.9h0.8v0.8h-0.8zM94.0 246.2h0.8v0.8h-0.8zM102.0 224.8h0.8v0.8h-0.8zM102.7 234.0h0.8v0.8h-0.8zM81.4 227.0h0.8v0.8h-0.8zM93.7 261.2h0.8v0.8h-0.8zM71.5 254.7h0.8v0.8h-0.8zM106.2 226.6h0.8v0.8h-0.8zM105.3 252.8h0.8v0.8h-0.8zM71.3 210.6h0.8v0.8h-0.8zM109.9 210.6h0.8v0.8h-0.8zM70.5 256.4h0.8v0.8h-0.8zM92.3 247.9h0.8v0.8h-0.8zM69.7 249.5h0.8v0.8h-0.8zM112.2 207.9h0.8v0.8h-0.8zM99.0 219.6h0.8v0.8h-0.8zM72.0 223.5h0.8v0.8h-0.8zM99.1 239.7h0.8v0.8h-0.8zM106.7 234.0h0.8v0.8h-0.8zM63.8 214.3h0.8v0.8h-0.8zM95.1 224.5h0.8v0.8h-0.8zM76.9 245.9h0.8v0.8h-0.8zM95.9 222.8h0.8v0.8h-0.8zM63.3 247.3h0.8v0.8h-0.8zM90.6 221.2h0.8v0.8h-0.8zM76.2 243.8h0.8v0.8h-0.8zM74.7 235.2h0.8v0.8h-0.8zM95.9 243.4h0.8v0.8h-0.8zM118.7 217.6h0.8v0.8h-0.8zM63.4 222.4h0.8v0.8h-0.8zM100.7 227.7h0.8v0.8h-0.8zM71.6 240.1h0.8v0.8h-0.8zM97.5 222.0h0.8v0.8h-0.8zM78.9 245.6h0.8v0.8h-0.8zM97.0 245.7h0.8v0.8h-0.8zM60.6 247.5h0.8v0.8h-0.8zM95.5 221.0h0.8v0.8h-0.8zM67.0 233.7h0.8v0.8h-0.8zM95.4 252.9h0.8v0.8h-0.8zM75.5 251.4h0.8v0.8h-0.8zM131.1 246.5h0.8v0.8h-0.8zM87.7 251.5h0.8v0.8h-0.8zM69.4 229.5h0.8v0.8h-0.8zM88.5 242.4h0.8v0.8h-0.8zM91.8 227.8h0.8v0.8h-0.8zM69.3 237.0h0.8v0.8h-0.8zM78.0 234.5h0.8v0.8h-0.8zM100.3 229.2h0.8v0.8h-0.8zM63.2 238.4h0.8v0.8h-0.8zM87.3 229.6h0.8v0.8h-0.8zM100.8 232.5h0.8v0.8h-0.8zM76.7 244.6h0.8v0.8h-0.8zM91.7 209.8h0.8v0.8h-0.8zM67.3 228.4h0.8v0.8h-0.8zM89.2 243.2h0.8v0.8h-0.8zM105.4 253.6h0.8v0.8h-0.8zM84.7 243.2h0.8v0.8h-0.8zM88.6 244.8h0.8v0.8h-0.8zM59.5 224.9h0.8v0.8h-0.8zM76.3 209.9h0.8v0.8h-0.8zM76.0 240.9h0.8v0.8h-0.8zM97.7 229.2h0.8v0.8h-0.8zM67.9 242.0h0.8v0.8h-0.8zM83.5 244.6h0.8v0.8h-0.8zM62.7 253.4h0.8v0.8h-0.8zM90.0 243.5h0.8v0.8h-0.8zM103.4 211.7h0.8v0.8h-0.8zM63.0 246.2h0.8v0.8h-0.8zM96.2 245.2h0.8v0.8h-0.8zM95.7 207.3h0.8v0.8h-0.8zM83.2 210.6h0.8v0.8h-0.8zM100.3 251.0h0.8v0.8h-0.8zM78.3 241.3h0.8v0.8h-0.8zM79.4 238.3h0.8v0.8h-0.8zM116.8 217.8h0.8v0.8h-0.8zM98.4 224.5h0.8v0.8h-0.8zM97.5 223.3h0.8v0.8h-0.8zM71.1 241.2h0.8v0.8h-0.8zM99.6 224.0h0.8v0.8h-0.8zM100.7 245.3h0.8v0.8h-0.8zM87.6 245.9h0.8v0.8h-0.8zM104.7 255.1h0.8v0.8h-0.8zM97.4 240.9h0.8v0.8h-0.8zM97.9 219.2h0.8v0.8h-0.8zM87.8 245.4h0.8v0.8h-0.8zM59.9 246.9h0.8v0.8h-0.8zM72.2 241.7h0.8v0.8h-0.8zM103.8 209.6h0.8v0.8h-0.8zM80.9 228.4h0.8v0.8h-0.8zM67.3 239.6h0.8v0.8h-0.8zM86.1 248.0h0.8v0.8h-0.8zM63.3 233.3h0.8v0.8h-0.8zM105.2 214.4h0.8v0.8h-0.8zM91.5 242.4h0.8v0.8h-0.8zM64.4 241.4h0.8v0.8h-0.8zM101.2 243.3h0.8v0.8h-0.8zM100.7 239.9h0.8v0.8h-0.8zM90.1 246.7h0.8v0.8h-0.8zM85.8 247.6h0.8v0.8h-0.8zM97.9 222.0h0.8v0.8h-0.8zM110.1 209.3h0.8v0.8h-0.8zM74.3 249.7h0.8v0.8h-0.8zM109.1 230.2h0.8v0.8h-0.8zM90.3 257.4h0.8v0.8h-0.8zM87.7 240.3h0.8v0.8h-0.8zM97.3 238.9h0.8v0.8h-0.8zM99.8 241.8h0.8v0.8h-0.8zM78.7 226.7h0.8v0.8h-0.8zM65.9 240.8h0.8v0.8h-0.8zM110.2 212.9h0.8v0.8h-0.8zM71.6 248.6h0.8v0.8h-0.8zM98.3 214.3h0.8v0.8h-0.8zM77.2 228.5h0.8v0.8h-0.8zM95.4 212.3h0.8v0.8h-0.8zM108.3 213.9h0.8v0.8h-0.8zM61.3 247.7h0.8v0.8h-0.8zM82.6 223.9h0.8v0.8h-0.8zM80.8 211.0h0.8v0.8h-0.8zM113.3 226.3h0.8v0.8h-0.8zM93.2 229.4h0.8v0.8h-0.8zM96.5 229.7h0.8v0.8h-0.8zM88.5 252.8h0.8v0.8h-0.8zM102.2 246.5h0.8v0.8h-0.8zM78.8 259.9h0.8v0.8h-0.8zM73.7 210.6h0.8v0.8h-0.8zM86.0 236.2h0.8v0.8h-0.8zM92.2 240.9h0.8v0.8h-0.8zM84.7 244.0h0.8v0.8h-0.8zM91.1 248.8h0.8v0.8h-0.8zM76.6 245.7h0.8v0.8h-0.8zM64.6 255.8h0.8v0.8h-0.8zM71.6 225.8h0.8v0.8h-0.8zM92.8 207.7h0.8v0.8h-0.8zM80.9 227.2h0.8v0.8h-0.8zM116.3 214.3h0.8v0.8h-0.8zM68.6 239.6h0.8v0.8h-0.8zM104.3 242.7h0.8v0.8h-0.8zM82.9 228.7h0.8v0.8h-0.8zM85.8 242.9h0.8v0.8h-0.8zM110.8 225.0h0.8v0.8h-0.8zM60.2 223.9h0.8v0.8h-0.8zM69.9 246.9h0.8v0.8h-0.8zM90.0 246.2h0.8v0.8h-0.8zM91.1 239.7h0.8v0.8h-0.8zM103.9 226.2h0.8v0.8h-0.8zM71.6 209.0h0.8v0.8h-0.8zM100.8 230.2h0.8v0.8h-0.8zM90.5 254.2h0.8v0.8h-0.8zM97.6 209.8h0.8v0.8h-0.8zM88.6 248.7h0.8v0.8h-0.8zM89.1 222.3h0.8v0.8h-0.8zM74.3 210.7h0.8v0.8h-0.8zM84.0 246.8h0.8v0.8h-0.8zM83.1 249.6h0.8v0.8h-0.8zM87.1 252.3h0.8v0.8h-0.8zM101.0 243.6h0.8v0.8h-0.8zM75.6 210.7h0.8v0.8h-0.8zM107.5 210.7h0.8v0.8h-0.8zM71.6 243.1h0.8v0.8h-0.8zM96.3 252.1h0.8v0.8h-0.8zM65.6 250.4h0.8v0.8h-0.8zM103.9 240.4h0.8v0.8h-0.8zM105.9 252.4h0.8v0.8h-0.8zM110.6 232.0h0.8v0.8h-0.8zM95.6 253.0h0.8v0.8h-0.8zM103.4 246.9h0.8v0.8h-0.8zM85.4 236.5h0.8v0.8h-0.8zM91.9 249.2h0.8v0.8h-0.8zM84.3 244.4h0.8v0.8h-0.8zM85.9 245.6h0.8v0.8h-0.8zM65.9 207.6h0.8v0.8h-0.8zM91.6 212.5h0.8v0.8h-0.8zM75.9 246.8h0.8v0.8h-0.8zM95.7 229.5h0.8v0.8h-0.8zM107.7 248.3h0.8v0.8h-0.8zM92.8 243.7h0.8v0.8h-0.8zM73.0 249.1h0.8v0.8h-0.8zM78.5 249.3h0.8v0.8h-0.8zM101.4 230.1h0.8v0.8h-0.8zM103.5 225.7h0.8v0.8h-0.8zM78.8 239.3h0.8v0.8h-0.8zM85.7 210.7h0.8v0.8h-0.8zM96.4 248.3h0.8v0.8h-0.8zM62.7 250.6h0.8v0.8h-0.8zM92.2 248.5h0.8v0.8h-0.8zM82.0 227.2h0.8v0.8h-0.8zM91.9 227.2h0.8v0.8h-0.8zM108.5 212.0h0.8v0.8h-0.8zM73.3 246.8h0.8v0.8h-0.8zM86.5 257.1h0.8v0.8h-0.8zM116.1 220.4h0.8v0.8h-0.8zM114.3 213.3h0.8v0.8h-0.8zM108.9 214.0h0.8v0.8h-0.8zM111.5 213.2h0.8v0.8h-0.8zM109.1 224.0h0.8v0.8h-0.8zM82.3 228.3h0.8v0.8h-0.8zM109.0 209.2h0.8v0.8h-0.8zM77.8 249.6h0.8v0.8h-0.8zM117.6 219.3h0.8v0.8h-0.8zM95.9 250.2h0.8v0.8h-0.8zM102.4 243.4h0.8v0.8h-0.8zM101.4 230.5h0.8v0.8h-0.8zM93.8 219.8h0.8v0.8h-0.8zM99.5 230.9h0.8v0.8h-0.8zM104.7 214.5h0.8v0.8h-0.8zM89.3 239.0h0.8v0.8h-0.8zM87.3 240.0h0.8v0.8h-0.8zM93.4 251.9h0.8v0.8h-0.8zM97.9 221.3h0.8v0.8h-0.8zM76.4 250.3h0.8v0.8h-0.8zM103.8 240.3h0.8v0.8h-0.8zM97.2 253.7h0.8v0.8h-0.8zM90.3 245.6h0.8v0.8h-0.8zM59.5 227.3h0.8v0.8h-0.8zM96.7 243.4h0.8v0.8h-0.8zM90.8 205.3h0.8v0.8h-0.8zM70.8 244.8h0.8v0.8h-0.8zM64.9 251.7h0.8v0.8h-0.8zM101.8 243.1h0.8v0.8h-0.8zM84.9 259.8h0.8v0.8h-0.8zM103.5 224.3h0.8v0.8h-0.8zM105.3 214.7h0.8v0.8h-0.8zM100.4 210.9h0.8v0.8h-0.8zM65.8 243.0h0.8v0.8h-0.8zM93.2 247.8h0.8v0.8h-0.8zM101.4 225.9h0.8v0.8h-0.8zM93.5 213.6h0.8v0.8h-0.8zM70.0 236.4h0.8v0.8h-0.8zM70.7 242.6h0.8v0.8h-0.8zM64.4 250.4h0.8v0.8h-0.8zM110.5 241.3h0.8v0.8h-0.8zM70.4 229.3h0.8v0.8h-0.8zM97.6 214.4h0.8v0.8h-0.8zM113.6 227.7h0.8v0.8h-0.8zM97.3 224.4h0.8v0.8h-0.8zM102.9 243.1h0.8v0.8h-0.8zM85.4 251.9h0.8v0.8h-0.8zM102.2 211.8h0.8v0.8h-0.8zM99.3 209.0h0.8v0.8h-0.8zM96.1 217.3h0.8v0.8h-0.8zM87.6 246.9h0.8v0.8h-0.8zM90.6 249.0h0.8v0.8h-0.8zM104.3 252.4h0.8v0.8h-0.8zM80.9 242.1h0.8v0.8h-0.8zM78.3 245.7h0.8v0.8h-0.8zM60.7 251.4h0.8v0.8h-0.8zM89.9 246.5h0.8v0.8h-0.8zM74.8 234.6h0.8v0.8h-0.8zM69.2 251.6h0.8v0.8h-0.8zM92.5 243.7h0.8v0.8h-0.8zM78.3 245.1h0.8v0.8h-0.8zM102.1 213.7h0.8v0.8h-0.8zM85.3 244.6h0.8v0.8h-0.8zM81.3 245.9h0.8v0.8h-0.8zM61.9 240.1h0.8v0.8h-0.8zM78.6 243.9h0.8v0.8h-0.8zM91.2 255.6h0.8v0.8h-0.8zM98.8 243.2h0.8v0.8h-0.8zM85.8 252.5h0.8v0.8h-0.8zM101.9 224.1h0.8v0.8h-0.8zM99.3 214.1h0.8v0.8h-0.8zM88.2 228.9h0.8v0.8h-0.8zM110.9 213.5h0.8v0.8h-0.8zM110.1 215.5h0.8v0.8h-0.8zM103.3 210.1h0.8v0.8h-0.8zM73.6 237.2h0.8v0.8h-0.8zM104.2 236.0h0.8v0.8h-0.8zM105.7 254.5h0.8v0.8h-0.8zM67.5 244.6h0.8v0.8h-0.8zM107.3 208.3h0.8v0.8h-0.8zM97.1 210.4h0.8v0.8h-0.8zM97.0 228.9h0.8v0.8h-0.8zM84.4 242.2h0.8v0.8h-0.8zM113.3 213.7h0.8v0.8h-0.8zM93.6 243.5h0.8v0.8h-0.8zM87.3 246.0h0.8v0.8h-0.8zM102.2 225.8h0.8v0.8h-0.8zM106.4 255.0h0.8v0.8h-0.8zM71.7 256.4h0.8v0.8h-0.8zM94.2 213.3h0.8v0.8h-0.8zM63.3 227.5h0.8v0.8h-0.8zM64.5 225.0h0.8v0.8h-0.8zM93.4 243.0h0.8v0.8h-0.8zM83.1 245.3h0.8v0.8h-0.8zM104.9 239.1h0.8v0.8h-0.8zM92.2 238.7h0.8v0.8h-0.8zM92.3 229.5h0.8v0.8h-0.8zM96.2 214.6h0.8v0.8h-0.8zM83.1 239.6h0.8v0.8h-0.8zM91.1 251.4h0.8v0.8h-0.8zM103.1 246.6h0.8v0.8h-0.8zM74.2 227.9h0.8v0.8h-0.8zM95.4 228.5h0.8v0.8h-0.8zM93.4 259.3h0.8v0.8h-0.8zM116.6 205.4h0.8v0.8h-0.8zM108.6 228.2h0.8v0.8h-0.8zM74.7 242.3h0.8v0.8h-0.8zM91.7 229.3h0.8v0.8h-0.8zM66.3 237.3h0.8v0.8h-0.8zM67.5 209.9h0.8v0.8h-0.8zM72.9 228.9h0.8v0.8h-0.8zM78.7 247.1h0.8v0.8h-0.8zM67.2 241.9h0.8v0.8h-0.8zM104.3 243.3h0.8v0.8h-0.8zM68.3 228.2h0.8v0.8h-0.8zM88.3 232.9h0.8v0.8h-0.8zM100.4 247.2h0.8v0.8h-0.8zM76.2 225.6h0.8v0.8h-0.8zM80.9 254.9h0.8v0.8h-0.8zM115.2 226.4h0.8v0.8h-0.8zM71.5 242.9h0.8v0.8h-0.8zM106.1 234.5h0.8v0.8h-0.8zM98.6 247.5h0.8v0.8h-0.8zM101.5 240.1h0.8v0.8h-0.8zM59.6 239.4h0.8v0.8h-0.8zM86.6 246.6h0.8v0.8h-0.8zM107.4 256.9h0.8v0.8h-0.8zM80.1 228.2h0.8v0.8h-0.8zM83.6 252.0h0.8v0.8h-0.8zM93.3 235.8h0.8v0.8h-0.8zM97.5 222.6h0.8v0.8h-0.8zM114.6 216.4h0.8v0.8h-0.8zM99.5 212.4h0.8v0.8h-0.8zM63.9 247.9h0.8v0.8h-0.8zM77.8 249.6h0.8v0.8h-0.8zM80.4 232.5h0.8v0.8h-0.8zM72.4 209.2h0.8v0.8h-0.8zM65.0 216.0h0.8v0.8h-0.8zM102.1 247.8h0.8v0.8h-0.8zM96.5 226.0h0.8v0.8h-0.8z" fill="#444" fill-opacity="0.55"/>
<clipPath id="u1"><polygon points="60.6,43.6 98.3,43.6 98.3,55.2 93.5,60 66.5,60 60.6,53.6"/></clipPath>
<polygon points="60.6,43.6 98.3,43.6 98.3,55.2 93.5,60 66.5,60 60.6,53.6" fill="#1030ff"/>
<path d="M97.5,46.8 L103.5,49.6 Q105.6,50.6 103.5,51.6 L97.5,54.6 Z" fill="#1030ff"/>
<g clip-path="url(#u1)">
<g filter="url(#bl)">
<rect x="62.00" y="44.60" width="35.00" height="14.20" rx="6" ry="6" fill="#0850ff"/>
<rect x="63.60" y="45.60" width="32.20" height="11.60" rx="5.8" ry="5.8" fill="#0090ff"/>
<rect x="64.60" y="46.40" width="30.40" height="9.60" rx="4.8" ry="4.8" fill="#00ccff"/>
<rect x="65.30" y="47.00" width="28.90" height="8.20" rx="4.1" ry="4.1" fill="#00f0c8"/>
<rect x="66.00" y="47.50" width="27.40" height="6.90" rx="3.45" ry="3.45" fill="#48f058"/>
<rect x="66.80" y="48.00" width="25.80" height="5.60" rx="2.8" ry="2.8" fill="#c0f020"/>
<rect x="67.40" y="48.50" width="24.40" height="4.40" rx="2.2" ry="2.2" fill="#ffd400"/>
<rect x="68.20" y="49.00" width="22.60" height="3.20" rx="1.6" ry="1.6" fill="#ff7000"/>
<rect x="68.80" y="49.40" width="21.20" height="2.40" rx="1.2" ry="1.2" fill="#ff1000"/>
</g></g>
<clipPath id="l1"><path d="M58.6,70 L68.5,61.6 L93.5,61.6 Q98.4,61.6 98.4,66.5 Q98.4,72.5 93.5,78.9 L58.6,78.9 Z"/></clipPath>
<path d="M58.6,70 L68.5,61.6 L93.5,61.6 Q98.4,61.6 98.4,66.5 Q98.4,72.5 93.5,78.9 L58.6,78.9 Z" fill="#1030ff"/>
<g clip-path="url(#l1)">
<g filter="url(#bl)">
<rect x="59.20" y="63.00" width="38.20" height="15.40" rx="6" ry="6" fill="#0850ff"/>
<rect x="60.60" y="65.80" width="35.60" height="11.80" rx="5.9" ry="5.9" fill="#0090ff"/>
<rect x="61.80" y="67.30" width="33.40" height="9.50" rx="4.75" ry="4.75" fill="#00ccff"/>
<rect x="63.20" y="68.60" width="31.20" height="7.40" rx="3.7" ry="3.7" fill="#00f0c8"/>
<rect x="64.60" y="69.60" width="28.80" height="5.60" rx="2.8" ry="2.8" fill="#48f058"/>
<rect x="68.50" y="71.40" width="21.50" height="2.60" rx="1.3" ry="1.3" fill="#c0f020"/>
<rect x="72.00" y="72.20" width="14.00" height="1.00" rx="0.5" ry="0.5" fill="#d8f028"/>
</g></g>
<polygon points="60.50,43.40 98.40,43.40 98.40,60.10 60.50,60.10" fill="none" stroke="#000" stroke-width="1.35"/>
<polygon points="102.80,62.40 121.50,62.40 121.00,83.10 92.40,83.10" fill="none" stroke="#000" stroke-width="1.35"/>
<clipPath id="u2"><path d="M64,132 Q64,128.9 68,128.9 L93.5,128.9 Q97.2,128.9 97.2,132.5 Q97.2,138 93,143.7 L70,143.7 Q65,143.7 64,138 Z"/></clipPath>
<path d="M64,132 Q64,128.9 68,128.9 L93.5,128.9 Q97.2,128.9 97.2,132.5 Q97.2,138 93,143.7 L70,143.7 Q65,143.7 64,138 Z" fill="#1030ff" filter="url(#bl)"/>
<g clip-path="url(#u2)">
<g filter="url(#bl)">
<rect x="65.40" y="130.00" width="30.60" height="12.40" rx="6" ry="6" fill="#0850ff"/>
<rect x="67.20" y="131.20" width="27.20" height="9.00" rx="4.5" ry="4.5" fill="#0090ff"/>
<rect x="69.50" y="132.60" width="22.70" height="5.00" rx="2.5" ry="2.5" fill="#00ccff"/>
<rect x="72.50" y="133.80" width="17.00" height="2.40" rx="1.2" ry="1.2" fill="#00f0c8"/>
</g></g>
<clipPath id="l2"><path d="M58.6,154.2 L68.2,145.6 L100.8,145.6 L94.8,163.8 L58.6,163.8 Z"/></clipPath>
<path d="M58.6,154.2 L68.2,145.6 L100.8,145.6 L94.8,163.8 L58.6,163.8 Z" fill="#1030ff"/>
<g clip-path="url(#l2)">
<g filter="url(#bl)">
<rect x="59.00" y="146.40" width="40.50" height="16.80" rx="6" ry="6" fill="#0850ff"/>
<rect x="60.00" y="147.20" width="38.40" height="15.20" rx="6" ry="6" fill="#0090ff"/>
<rect x="61.20" y="147.80" width="36.00" height="13.60" rx="6" ry="6" fill="#00ccff"/>
<rect x="62.60" y="148.40" width="33.60" height="12.20" rx="6" ry="6" fill="#00f0c8"/>
<rect x="63.90" y="149.00" width="31.10" height="10.90" rx="5.45" ry="5.45" fill="#48f058"/>
<rect x="69.10" y="150.80" width="24.20" height="4.30" rx="2.15" ry="2.15" fill="#c0f020"/>
<rect x="70.80" y="151.20" width="21.70" height="3.00" rx="1.5" ry="1.5" fill="#ffd400"/>
<rect x="76.00" y="151.30" width="16.50" height="2.50" rx="1.25" ry="1.25" fill="#ff7000"/>
<rect x="82.00" y="151.50" width="10.30" height="1.90" rx="0.95" ry="0.95" fill="#ff1000"/>
<rect x="86.50" y="151.30" width="5.50" height="2.30" rx="1.15" ry="1.15" fill="#ff1000"/>
</g></g>
<g transform="rotate(28 103 158.5)">
<rect x="97.6" y="145.2" width="10.8" height="26.6" rx="5" fill="#1030ff" filter="url(#bl)"/>
<ellipse cx="103.3" cy="158.3" rx="4.0" ry="9.5" fill="#0860ff" filter="url(#bl2)"/>
<ellipse cx="103.5" cy="158.3" rx="2.7" ry="6.5" fill="#0098ff" filter="url(#bl)"/>
<ellipse cx="103.6" cy="158.3" rx="1.9" ry="4.6" fill="#00d4f8" filter="url(#bl)"/>
<ellipse cx="103.6" cy="158.3" rx="1.0" ry="2.6" fill="#40f0b0" filter="url(#bl)"/>
</g>
<polygon points="60.50,126.90 99.20,126.90 99.20,144.20 60.50,144.20" fill="none" stroke="#000" stroke-width="1.35"/>
<polygon points="104.20,146.40 122.90,146.40 122.40,167.10 93.40,166.60" fill="none" stroke="#000" stroke-width="1.35"/>
<clipPath id="u3"><path d="M61.5,215 Q61.5,212.4 64.5,212.4 L95,212.4 Q97.8,212.4 97.8,215 L97.8,225 Q97.8,227.7 95,227.7 L64.5,227.7 Q61.5,227.7 61.5,225 Z"/></clipPath>
<path d="M61.5,215 Q61.5,212.4 64.5,212.4 L95,212.4 Q97.8,212.4 97.8,215 L97.8,225 Q97.8,227.7 95,227.7 L64.5,227.7 Q61.5,227.7 61.5,225 Z" fill="#1030ff"/>
<path d="M97,214.2 L103.5,218.6 Q105.4,220 103.5,221.4 L97,225.6 Z" fill="#1030ff" filter="url(#bl)"/>
<g clip-path="url(#u3)">
<g filter="url(#bl)">
<rect x="62.40" y="213.20" width="34.60" height="13.60" rx="6" ry="6" fill="#0850ff"/>
<rect x="63.00" y="213.80" width="33.50" height="11.60" rx="5.8" ry="5.8" fill="#0090ff"/>
<rect x="63.30" y="214.30" width="32.70" height="10.00" rx="5.0" ry="5.0" fill="#00ccff"/>
<rect x="64.20" y="215.00" width="31.30" height="8.60" rx="4.3" ry="4.3" fill="#00f0c8"/>
<rect x="65.20" y="215.70" width="29.80" height="7.20" rx="3.6" ry="3.6" fill="#48f058"/>
<rect x="66.40" y="216.40" width="28.10" height="5.60" rx="2.8" ry="2.8" fill="#c0f020"/>
<rect x="67.60" y="217.10" width="26.40" height="3.90" rx="1.95" ry="1.95" fill="#ffd400"/>
<rect x="69.50" y="217.60" width="23.50" height="2.90" rx="1.45" ry="1.45" fill="#ff7000"/>
<rect x="71.40" y="218.10" width="21.20" height="1.90" rx="0.95" ry="0.95" fill="#ff1000"/>
</g></g>
<clipPath id="l3"><path d="M58.6,236.5 L65.7,229.2 L102.5,229.2 L96.6,243.9 L58.6,243.9 Z"/></clipPath>
<path d="M58.6,236.5 L65.7,229.2 L102.5,229.2 L96.6,243.9 L58.6,243.9 Z" fill="#1030ff"/>
<g clip-path="url(#l3)">
<g filter="url(#bl)">
<rect x="59.00" y="230.00" width="42.00" height="13.40" rx="6" ry="6" fill="#0850ff"/>
<rect x="60.20" y="231.20" width="37.80" height="11.80" rx="5.9" ry="5.9" fill="#0090ff"/>
<rect x="61.30" y="232.20" width="33.70" height="10.40" rx="5.2" ry="5.2" fill="#00ccff"/>
<rect x="62.20" y="233.80" width="32.00" height="8.20" rx="4.1" ry="4.1" fill="#00f0c8"/>
<rect x="63.00" y="235.20" width="30.30" height="6.10" rx="3.05" ry="3.05" fill="#48f058"/>
<rect x="64.60" y="236.20" width="28.40" height="4.40" rx="2.2" ry="2.2" fill="#c0f020"/>
<rect x="66.10" y="237.00" width="26.40" height="3.00" rx="1.5" ry="1.5" fill="#ffd400"/>
<rect x="67.50" y="237.50" width="24.00" height="1.90" rx="0.95" ry="0.95" fill="#ff7000"/>
<rect x="68.20" y="237.80" width="7.80" height="1.30" rx="0.65" ry="0.65" fill="#ff1000"/>
<rect x="83.00" y="237.80" width="7.70" height="1.30" rx="0.65" ry="0.65" fill="#ff1000"/>
</g></g>
<g transform="rotate(27 100.8 243.2)">
<rect x="97.3" y="233.0" width="7.0" height="20.4" rx="3.5" fill="#1030ff" filter="url(#bl)"/>
<ellipse cx="100.9" cy="242.8" rx="1.6" ry="6" fill="#0860ff" filter="url(#bl2)"/>
</g>
<polygon points="60.50,211.00 98.30,211.00 98.30,228.30 60.50,228.30" fill="none" stroke="#000" stroke-width="1.35"/>
<polygon points="103.70,229.90 120.50,230.40 120.30,251.10 92.40,251.10" fill="none" stroke="#000" stroke-width="1.35"/>
<rect x="58.6" y="22.5" width="77.80000000000001" height="76.6" fill="none" stroke="#000" stroke-width="1.25"/>
<rect x="58.6" y="106.5" width="77.80000000000001" height="76.6" fill="none" stroke="#000" stroke-width="1.25"/>
<rect x="58.6" y="190.5" width="77.80000000000001" height="76.60000000000002" fill="none" stroke="#000" stroke-width="1.25"/>
<text x="69.20" y="37.60" font-size="8" fill="#1c1c1c" font-weight="bold" textLength="20.90" lengthAdjust="spacingAndGlyphs">60.0%</text>
<rect x="105.6" y="49.6" width="27.4" height="8.2" fill="#fff"/>
<text x="106.60" y="56.00" font-size="8" fill="#1c1c1c" font-weight="bold" textLength="25.00" lengthAdjust="spacingAndGlyphs">0.260%</text>
<text x="69.60" y="121.50" font-size="8" fill="#1c1c1c" font-weight="bold" textLength="20.80" lengthAdjust="spacingAndGlyphs">11.7%</text>
<rect x="110.0" y="134.8" width="24.0" height="8.2" fill="#fff"/>
<text x="111.00" y="141.50" font-size="8" fill="#1c1c1c" font-weight="bold" textLength="21.60" lengthAdjust="spacingAndGlyphs">7.15%</text>
<text x="71.00" y="206.50" font-size="6.0" fill="#1c1c1c" font-weight="bold" textLength="15.40" lengthAdjust="spacingAndGlyphs">52.7%</text>
<rect x="99.6" y="220.6" width="20.2" height="7.6" fill="#fff"/>
<text x="102.80" y="226.60" font-size="6.0" fill="#222" textLength="14.50" lengthAdjust="spacingAndGlyphs">1.73%</text>
<text x="75.50" y="281.20" font-size="8.2" fill="#1c1c1c">0</text>
<text x="95.40" y="281.20" font-size="8.2" fill="#1c1c1c" textLength="7.60" lengthAdjust="spacingAndGlyphs">10</text>
<text x="103.40" y="277.70" font-size="6.2" fill="#1c1c1c">3</text>
<text x="109.90" y="281.20" font-size="8.2" fill="#1c1c1c" textLength="7.60" lengthAdjust="spacingAndGlyphs">10</text>
<text x="117.90" y="277.70" font-size="6.2" fill="#1c1c1c">4</text>
<text x="124.30" y="281.20" font-size="8.2" fill="#1c1c1c" textLength="7.60" lengthAdjust="spacingAndGlyphs">10</text>
<text x="132.30" y="277.70" font-size="6.2" fill="#1c1c1c">5</text>
<text x="84.50" y="295.10" font-size="10" fill="#1c1c1c" textLength="24.80" lengthAdjust="spacingAndGlyphs">CD138</text>
<line x1="171.50" y1="27.80" x2="171.50" y2="114.90" stroke="#1a1a1a" stroke-width="1.2"/>
<line x1="168.90" y1="114.40" x2="256.60" y2="114.40" stroke="#1a1a1a" stroke-width="1.2"/>
<line x1="168.70" y1="114.10" x2="171.50" y2="114.10" stroke="#1a1a1a" stroke-width="1.0"/>
<text x="165.30" y="117.10" font-size="8.4" fill="#1c1c1c" text-anchor="end">0</text>
<line x1="168.70" y1="92.85" x2="171.50" y2="92.85" stroke="#1a1a1a" stroke-width="1.0"/>
<text x="165.30" y="95.85" font-size="8.4" fill="#1c1c1c" text-anchor="end">20</text>
<line x1="168.70" y1="71.60" x2="171.50" y2="71.60" stroke="#1a1a1a" stroke-width="1.0"/>
<text x="165.30" y="74.60" font-size="8.4" fill="#1c1c1c" text-anchor="end">40</text>
<line x1="168.70" y1="50.35" x2="171.50" y2="50.35" stroke="#1a1a1a" stroke-width="1.0"/>
<text x="165.30" y="53.35" font-size="8.4" fill="#1c1c1c" text-anchor="end">60</text>
<line x1="168.70" y1="29.10" x2="171.50" y2="29.10" stroke="#1a1a1a" stroke-width="1.0"/>
<text x="165.30" y="32.10" font-size="8.4" fill="#1c1c1c" text-anchor="end">80</text>
<line x1="185.50" y1="114.40" x2="185.50" y2="117.60" stroke="#1a1a1a" stroke-width="1.0"/>
<line x1="213.80" y1="114.40" x2="213.80" y2="117.60" stroke="#1a1a1a" stroke-width="1.0"/>
<line x1="242.00" y1="114.40" x2="242.00" y2="117.60" stroke="#1a1a1a" stroke-width="1.0"/>
<text x="179.50" y="127.90" font-size="8.4" fill="#1c1c1c" textLength="13.10" lengthAdjust="spacingAndGlyphs">BM</text>
<text x="207.30" y="127.90" font-size="8.4" fill="#1c1c1c" textLength="13.10" lengthAdjust="spacingAndGlyphs">WT</text>
<text x="229.80" y="127.90" font-size="8.4" fill="#1c1c1c" textLength="18.10" lengthAdjust="spacingAndGlyphs">Sirt1</text>
<text x="247.60" y="124.40" font-size="5.0" fill="#1c1c1c" textLength="6.00" lengthAdjust="spacingAndGlyphs">-/-</text>
<text x="149.70" y="82.30" font-size="9.2" fill="#1c1c1c" textLength="23.90" lengthAdjust="spacingAndGlyphs" transform="rotate(-90 149.70 82.30)">%B220</text>
<polyline points="213.6,53.3 213.6,48.5 240.6,48.5 240.6,53.3" fill="none" stroke="#262626" stroke-width="1.1"/>
<circle cx="225.1" cy="43.6" r="1.2" fill="#1a1a1a"/>
<circle cx="228.6" cy="43.6" r="1.2" fill="#1a1a1a"/>
<line x1="176.30" y1="64.90" x2="195.00" y2="64.90" stroke="#5fa33a" stroke-width="1.0"/>
<line x1="185.40" y1="52.10" x2="185.40" y2="78.30" stroke="#5fa33a" stroke-width="1.0"/>
<line x1="183.00" y1="52.10" x2="187.80" y2="52.10" stroke="#5fa33a" stroke-width="1.0"/>
<line x1="180.90" y1="78.30" x2="190.00" y2="78.30" stroke="#5fa33a" stroke-width="1.0"/>
<circle cx="180.80" cy="54.00" r="3.4" fill="none" stroke="#5fa33a" stroke-width="0.95"/>
<circle cx="190.30" cy="51.70" r="3.4" fill="none" stroke="#5fa33a" stroke-width="0.95"/>
<circle cx="180.30" cy="65.30" r="3.4" fill="none" stroke="#5fa33a" stroke-width="0.95"/>
<circle cx="190.10" cy="63.60" r="3.4" fill="none" stroke="#5fa33a" stroke-width="0.95"/>
<circle cx="185.00" cy="67.60" r="3.4" fill="none" stroke="#5fa33a" stroke-width="0.95"/>
<circle cx="185.60" cy="88.70" r="3.4" fill="none" stroke="#5fa33a" stroke-width="0.95"/>
<rect x="210.20" y="99.20" width="6.8" height="6.8" fill="#ad0a35"/>
<rect x="206.10" y="103.20" width="6.8" height="6.8" fill="#ad0a35"/>
<rect x="214.30" y="103.20" width="6.8" height="6.8" fill="#ad0a35"/>
<rect x="210.20" y="105.10" width="6.8" height="6.8" fill="#ad0a35"/>
<rect x="206.90" y="110.10" width="6.8" height="6.8" fill="#ad0a35"/>
<rect x="213.50" y="110.10" width="6.8" height="6.8" fill="#ad0a35"/>
<line x1="204.20" y1="110.60" x2="223.10" y2="110.60" stroke="#ad0a35" stroke-width="1.0"/>
<line x1="241.70" y1="67.50" x2="241.70" y2="114.00" stroke="#5a78b0" stroke-width="1.2"/>
<line x1="237.70" y1="67.50" x2="246.20" y2="67.50" stroke="#5a78b0" stroke-width="1.2"/>
<line x1="232.60" y1="89.70" x2="251.00" y2="89.70" stroke="#2a4c8c" stroke-width="1.2"/>
<polygon points="236.40,56.40 239.90,62.10 232.90,62.10" fill="#2a4c8c" stroke="none" stroke-width="1"/>
<polygon points="247.90,57.70 251.40,63.40 244.40,63.40" fill="#2a4c8c" stroke="none" stroke-width="1"/>
<polygon points="239.00,60.30 242.50,66.00 235.50,66.00" fill="#2a4c8c" stroke="none" stroke-width="1"/>
<polygon points="244.20,61.00 247.70,66.70 240.70,66.70" fill="#2a4c8c" stroke="none" stroke-width="1"/>
<polygon points="241.80,82.40 245.30,88.10 238.30,88.10" fill="#2a4c8c" stroke="none" stroke-width="1"/>
<polygon points="237.40,98.00 240.90,103.70 233.90,103.70" fill="#2a4c8c" stroke="none" stroke-width="1"/>
<polygon points="246.60,98.00 250.10,103.70 243.10,103.70" fill="#2a4c8c" stroke="none" stroke-width="1"/>
<polygon points="238.00,104.80 241.50,110.50 234.50,110.50" fill="#2a4c8c" stroke="none" stroke-width="1"/>
<polygon points="246.60,104.80 250.10,110.50 243.10,110.50" fill="#2a4c8c" stroke="none" stroke-width="1"/>
<polygon points="241.80,107.90 245.30,113.60 238.30,113.60" fill="#2a4c8c" stroke="none" stroke-width="1"/>
<line x1="171.50" y1="163.00" x2="171.50" y2="251.30" stroke="#1a1a1a" stroke-width="1.2"/>
<line x1="168.90" y1="250.80" x2="256.50" y2="250.80" stroke="#1a1a1a" stroke-width="1.2"/>
<line x1="168.70" y1="250.60" x2="171.50" y2="250.60" stroke="#1a1a1a" stroke-width="1.0"/>
<text x="165.30" y="253.60" font-size="8.4" fill="#1c1c1c" text-anchor="end">0</text>
<line x1="168.70" y1="222.10" x2="171.50" y2="222.10" stroke="#1a1a1a" stroke-width="1.0"/>
<text x="165.30" y="225.10" font-size="8.4" fill="#1c1c1c" text-anchor="end">5</text>
<line x1="168.70" y1="193.60" x2="171.50" y2="193.60" stroke="#1a1a1a" stroke-width="1.0"/>
<text x="165.30" y="196.60" font-size="8.4" fill="#1c1c1c" text-anchor="end">10</text>
<line x1="168.70" y1="165.10" x2="171.50" y2="165.10" stroke="#1a1a1a" stroke-width="1.0"/>
<text x="165.30" y="168.10" font-size="8.4" fill="#1c1c1c" text-anchor="end">15</text>
<line x1="185.90" y1="250.80" x2="185.90" y2="254.00" stroke="#1a1a1a" stroke-width="1.0"/>
<line x1="214.10" y1="250.80" x2="214.10" y2="254.00" stroke="#1a1a1a" stroke-width="1.0"/>
<line x1="242.30" y1="250.80" x2="242.30" y2="254.00" stroke="#1a1a1a" stroke-width="1.0"/>
<text x="179.50" y="264.50" font-size="8.4" fill="#1c1c1c" textLength="13.20" lengthAdjust="spacingAndGlyphs">BM</text>
<text x="207.60" y="264.50" font-size="8.4" fill="#1c1c1c" textLength="13.20" lengthAdjust="spacingAndGlyphs">WT</text>
<text x="230.50" y="264.50" font-size="8.4" fill="#1c1c1c" textLength="16.20" lengthAdjust="spacingAndGlyphs">Sirt1</text>
<text x="246.60" y="261.60" font-size="5.0" fill="#1c1c1c" textLength="7.30" lengthAdjust="spacingAndGlyphs">-/-</text>
<text x="150.40" y="221.80" font-size="9.2" fill="#1c1c1c" textLength="30.20" lengthAdjust="spacingAndGlyphs" transform="rotate(-90 150.40 221.80)">%CD138</text>
<polyline points="213.8,182.6 213.8,177.7 241.8,177.7 241.8,182.6" fill="none" stroke="#262626" stroke-width="1.1"/>
<circle cx="225.9" cy="173.6" r="1.2" fill="#1a1a1a"/>
<circle cx="229.6" cy="173.6" r="1.2" fill="#1a1a1a"/>
<line x1="176.60" y1="242.40" x2="195.00" y2="242.40" stroke="#5fa33a" stroke-width="1.0"/>
<circle cx="180.50" cy="240.30" r="3.4" fill="none" stroke="#5fa33a" stroke-width="0.95"/>
<circle cx="190.60" cy="239.90" r="3.4" fill="none" stroke="#5fa33a" stroke-width="0.95"/>
<circle cx="180.20" cy="244.80" r="3.4" fill="none" stroke="#5fa33a" stroke-width="0.95"/>
<circle cx="190.40" cy="244.60" r="3.4" fill="none" stroke="#5fa33a" stroke-width="0.95"/>
<circle cx="183.60" cy="246.60" r="3.4" fill="none" stroke="#5fa33a" stroke-width="0.95"/>
<circle cx="187.40" cy="246.60" r="3.4" fill="none" stroke="#5fa33a" stroke-width="0.95"/>
<circle cx="185.50" cy="245.30" r="3.4" fill="none" stroke="#5fa33a" stroke-width="0.95"/>
<line x1="213.80" y1="192.40" x2="213.80" y2="222.40" stroke="#c8506e" stroke-width="1.2"/>
<line x1="208.80" y1="192.40" x2="218.80" y2="192.40" stroke="#c8506e" stroke-width="1.2"/>
<line x1="208.80" y1="222.40" x2="218.80" y2="222.40" stroke="#c8506e" stroke-width="1.2"/>
<rect x="210.20" y="185.40" width="6.6" height="6.6" fill="#ad0a35"/>
<rect x="215.10" y="192.90" width="6.6" height="6.6" fill="#ad0a35"/>
<rect x="205.60" y="196.90" width="6.6" height="6.6" fill="#ad0a35"/>
<rect x="210.20" y="207.70" width="6.6" height="6.6" fill="#ad0a35"/>
<rect x="215.10" y="218.90" width="6.6" height="6.6" fill="#ad0a35"/>
<rect x="205.90" y="222.90" width="6.6" height="6.6" fill="#ad0a35"/>
<line x1="204.40" y1="207.50" x2="223.10" y2="207.50" stroke="#ad0a35" stroke-width="1.0"/>
<line x1="240.40" y1="226.80" x2="246.30" y2="226.80" stroke="#5a78b0" stroke-width="1.2"/>
<line x1="243.30" y1="226.80" x2="243.30" y2="245.00" stroke="#5a78b0" stroke-width="1.2"/>
<polygon points="237.80,220.90 241.00,226.90 234.60,226.90" fill="#2a4c8c" stroke="none" stroke-width="1"/>
<polygon points="246.70,220.20 249.90,226.20 243.50,226.20" fill="#2a4c8c" stroke="none" stroke-width="1"/>
<polygon points="242.40,228.80 245.60,234.80 239.20,234.80" fill="#2a4c8c" stroke="none" stroke-width="1"/>
<polygon points="237.40,236.00 240.60,242.00 234.20,242.00" fill="#2a4c8c" stroke="none" stroke-width="1"/>
<polygon points="247.00,236.00 250.20,242.00 243.80,242.00" fill="#2a4c8c" stroke="none" stroke-width="1"/>
<polygon points="241.10,238.60 244.30,244.60 237.90,244.60" fill="#2a4c8c" stroke="none" stroke-width="1"/>
<polygon points="242.40,241.90 245.60,247.90 239.20,247.90" fill="#2a4c8c" stroke="none" stroke-width="1"/>
<line x1="233.00" y1="235.30" x2="251.60" y2="235.30" stroke="#2a4c8c" stroke-width="1.2"/>
<line x1="429.50" y1="26.60" x2="429.50" y2="111.70" stroke="#1a1a1a" stroke-width="1.2"/>
<line x1="426.90" y1="111.20" x2="512.70" y2="111.20" stroke="#1a1a1a" stroke-width="1.2"/>
<line x1="426.70" y1="110.90" x2="429.50" y2="110.90" stroke="#1a1a1a" stroke-width="1.0"/>
<text x="423.30" y="113.90" font-size="8.4" fill="#1c1c1c" text-anchor="end">0</text>
<line x1="426.70" y1="90.60" x2="429.50" y2="90.60" stroke="#1a1a1a" stroke-width="1.0"/>
<text x="423.30" y="93.60" font-size="8.4" fill="#1c1c1c" text-anchor="end">1</text>
<line x1="426.70" y1="70.30" x2="429.50" y2="70.30" stroke="#1a1a1a" stroke-width="1.0"/>
<text x="423.30" y="73.30" font-size="8.4" fill="#1c1c1c" text-anchor="end">2</text>
<line x1="426.70" y1="50.00" x2="429.50" y2="50.00" stroke="#1a1a1a" stroke-width="1.0"/>
<text x="423.30" y="53.00" font-size="8.4" fill="#1c1c1c" text-anchor="end">3</text>
<line x1="426.70" y1="29.70" x2="429.50" y2="29.70" stroke="#1a1a1a" stroke-width="1.0"/>
<text x="423.30" y="32.70" font-size="8.4" fill="#1c1c1c" text-anchor="end">4</text>
<line x1="443.30" y1="111.20" x2="443.30" y2="114.40" stroke="#1a1a1a" stroke-width="1.0"/>
<line x1="470.70" y1="111.20" x2="470.70" y2="114.40" stroke="#1a1a1a" stroke-width="1.0"/>
<line x1="498.50" y1="111.20" x2="498.50" y2="114.40" stroke="#1a1a1a" stroke-width="1.0"/>
<text x="436.80" y="125.00" font-size="8.4" fill="#1c1c1c" textLength="13.10" lengthAdjust="spacingAndGlyphs">BM</text>
<text x="464.20" y="125.00" font-size="8.4" fill="#1c1c1c" textLength="13.50" lengthAdjust="spacingAndGlyphs">WT</text>
<text x="485.80" y="125.00" font-size="8.4" fill="#1c1c1c" textLength="17.50" lengthAdjust="spacingAndGlyphs">Sirt1</text>
<text x="503.20" y="122.00" font-size="5.0" fill="#1c1c1c" textLength="6.80" lengthAdjust="spacingAndGlyphs">-/-</text>
<text x="413.60" y="96.80" font-size="9.6" fill="#1c1c1c" textLength="50.40" lengthAdjust="spacingAndGlyphs" transform="rotate(-90 413.60 96.80)">MFI CD86 (x10</text>
<text x="408.60" y="45.70" font-size="6.4" fill="#1c1c1c" transform="rotate(-90 408.60 45.70)">3</text>
<text x="413.60" y="41.80" font-size="9.6" fill="#1c1c1c" transform="rotate(-90 413.60 41.80)">)</text>
<polyline points="469.4,34.4 469.4,29.2 496.0,29.2 496.0,34.4" fill="none" stroke="#262626" stroke-width="1.1"/>
<circle cx="480.9" cy="25.4" r="1.2" fill="#1a1a1a"/>
<circle cx="484.8" cy="25.4" r="1.2" fill="#1a1a1a"/>
<line x1="433.50" y1="63.20" x2="452.60" y2="63.20" stroke="#5fa33a" stroke-width="1.0"/>
<circle cx="438.10" cy="61.00" r="3.5" fill="none" stroke="#5fa33a" stroke-width="0.95"/>
<circle cx="444.00" cy="59.50" r="3.5" fill="none" stroke="#5fa33a" stroke-width="0.95"/>
<circle cx="447.50" cy="62.20" r="3.5" fill="none" stroke="#5fa33a" stroke-width="0.95"/>
<circle cx="442.80" cy="69.40" r="3.5" fill="none" stroke="#5fa33a" stroke-width="0.95"/>
<circle cx="441.80" cy="63.80" r="3.5" fill="none" stroke="#5fa33a" stroke-width="0.95"/>
<rect x="462.70" y="41.10" width="7.0" height="7.0" fill="#ad0a35"/>
<rect x="470.80" y="42.10" width="7.0" height="7.0" fill="#ad0a35"/>
<rect x="465.30" y="45.30" width="7.0" height="7.0" fill="#ad0a35"/>
<rect x="468.90" y="45.50" width="7.0" height="7.0" fill="#ad0a35"/>
<rect x="467.10" y="45.80" width="7.0" height="7.0" fill="#ad0a35"/>
<line x1="461.30" y1="46.80" x2="479.60" y2="46.80" stroke="#ad0a35" stroke-width="1.0"/>
<polygon points="491.30,48.50 495.30,55.70 487.30,55.70" fill="#2a4c8c" stroke="none" stroke-width="1"/>
<polygon points="494.70,46.70 498.70,53.90 490.70,53.90" fill="#2a4c8c" stroke="none" stroke-width="1"/>
<polygon points="500.80,44.80 504.80,52.00 496.80,52.00" fill="#2a4c8c" stroke="none" stroke-width="1"/>
<polygon points="503.60,48.20 507.60,55.40 499.60,55.40" fill="#2a4c8c" stroke="none" stroke-width="1"/>
<polygon points="497.60,49.80 501.60,57.00 493.60,57.00" fill="#2a4c8c" stroke="none" stroke-width="1"/>
<polygon points="495.80,56.00 499.80,63.20 491.80,63.20" fill="#2a4c8c" stroke="none" stroke-width="1"/>
<polygon points="499.80,56.00 503.80,63.20 495.80,63.20" fill="#2a4c8c" stroke="none" stroke-width="1"/>
<line x1="498.50" y1="52.50" x2="498.50" y2="54.50" stroke="#ffffff" stroke-width="1.0"/>
<line x1="429.60" y1="162.90" x2="429.60" y2="248.50" stroke="#1a1a1a" stroke-width="1.2"/>
<line x1="427.00" y1="248.00" x2="512.70" y2="248.00" stroke="#1a1a1a" stroke-width="1.2"/>
<line x1="426.80" y1="248.10" x2="429.60" y2="248.10" stroke="#1a1a1a" stroke-width="1.0"/>
<text x="423.40" y="251.10" font-size="8.4" fill="#1c1c1c" text-anchor="end">0</text>
<line x1="426.80" y1="227.60" x2="429.60" y2="227.60" stroke="#1a1a1a" stroke-width="1.0"/>
<text x="423.40" y="230.60" font-size="8.4" fill="#1c1c1c" text-anchor="end">1</text>
<line x1="426.80" y1="207.10" x2="429.60" y2="207.10" stroke="#1a1a1a" stroke-width="1.0"/>
<text x="423.40" y="210.10" font-size="8.4" fill="#1c1c1c" text-anchor="end">2</text>
<line x1="426.80" y1="186.60" x2="429.60" y2="186.60" stroke="#1a1a1a" stroke-width="1.0"/>
<text x="423.40" y="189.60" font-size="8.4" fill="#1c1c1c" text-anchor="end">3</text>
<line x1="426.80" y1="166.10" x2="429.60" y2="166.10" stroke="#1a1a1a" stroke-width="1.0"/>
<text x="423.40" y="169.10" font-size="8.4" fill="#1c1c1c" text-anchor="end">4</text>
<line x1="443.30" y1="248.00" x2="443.30" y2="251.20" stroke="#1a1a1a" stroke-width="1.0"/>
<line x1="470.70" y1="248.00" x2="470.70" y2="251.20" stroke="#1a1a1a" stroke-width="1.0"/>
<line x1="498.50" y1="248.00" x2="498.50" y2="251.20" stroke="#1a1a1a" stroke-width="1.0"/>
<text x="436.80" y="262.00" font-size="8.4" fill="#1c1c1c" textLength="13.10" lengthAdjust="spacingAndGlyphs">BM</text>
<text x="464.20" y="262.00" font-size="8.4" fill="#1c1c1c" textLength="13.50" lengthAdjust="spacingAndGlyphs">WT</text>
<text x="485.80" y="262.00" font-size="8.4" fill="#1c1c1c" textLength="17.50" lengthAdjust="spacingAndGlyphs">Sirt1</text>
<text x="503.20" y="259.00" font-size="5.0" fill="#1c1c1c" textLength="6.80" lengthAdjust="spacingAndGlyphs">-/-</text>
<text x="412.60" y="237.50" font-size="9.9" fill="#1c1c1c" textLength="57.00" lengthAdjust="spacingAndGlyphs" transform="rotate(-90 412.60 237.50)">MHCII (MFI x 10</text>
<text x="408.60" y="179.70" font-size="6.4" fill="#1c1c1c" transform="rotate(-90 408.60 179.70)">5</text>
<text x="412.60" y="175.60" font-size="9.9" fill="#1c1c1c" transform="rotate(-90 412.60 175.60)">)</text>
<polyline points="471.1,176.6 471.1,171.5 493.6,171.5 493.6,176.6" fill="none" stroke="#262626" stroke-width="1.1"/>
<circle cx="482.4" cy="167.5" r="1.2" fill="#1a1a1a"/>
<line x1="434.00" y1="213.80" x2="452.20" y2="213.80" stroke="#5fa33a" stroke-width="1.0"/>
<circle cx="447.90" cy="208.90" r="3.5" fill="none" stroke="#5fa33a" stroke-width="0.95"/>
<circle cx="438.30" cy="214.80" r="3.5" fill="none" stroke="#5fa33a" stroke-width="0.95"/>
<circle cx="442.30" cy="213.30" r="3.5" fill="none" stroke="#5fa33a" stroke-width="0.95"/>
<circle cx="445.60" cy="215.40" r="3.5" fill="none" stroke="#5fa33a" stroke-width="0.95"/>
<circle cx="441.40" cy="216.40" r="3.5" fill="none" stroke="#5fa33a" stroke-width="0.95"/>
<line x1="470.30" y1="185.50" x2="470.30" y2="203.50" stroke="#c8506e" stroke-width="1.2"/>
<line x1="466.20" y1="185.50" x2="475.20" y2="185.50" stroke="#c8506e" stroke-width="1.2"/>
<line x1="466.20" y1="203.50" x2="475.20" y2="203.50" stroke="#c8506e" stroke-width="1.2"/>
<rect x="467.00" y="179.20" width="7.0" height="7.0" fill="#ad0a35"/>
<rect x="463.40" y="189.20" width="7.0" height="7.0" fill="#ad0a35"/>
<rect x="471.20" y="189.20" width="7.0" height="7.0" fill="#ad0a35"/>
<rect x="467.00" y="205.60" width="7.0" height="7.0" fill="#ad0a35"/>
<line x1="461.30" y1="194.50" x2="480.10" y2="194.50" stroke="#ad0a35" stroke-width="1.0"/>
<line x1="494.50" y1="202.50" x2="501.00" y2="202.50" stroke="#5a78b0" stroke-width="1.2"/>
<line x1="497.70" y1="202.50" x2="497.70" y2="212.00" stroke="#5a78b0" stroke-width="1.2"/>
<polygon points="493.20,195.30 496.30,201.70 490.10,201.70" fill="#2a4c8c" stroke="none" stroke-width="1"/>
<polygon points="502.30,196.00 505.40,202.40 499.20,202.40" fill="#2a4c8c" stroke="none" stroke-width="1"/>
<polygon points="492.80,209.30 495.90,215.70 489.70,215.70" fill="#2a4c8c" stroke="none" stroke-width="1"/>
<polygon points="502.70,206.40 505.80,212.80 499.60,212.80" fill="#2a4c8c" stroke="none" stroke-width="1"/>
<polygon points="501.20,208.40 504.30,214.80 498.10,214.80" fill="#2a4c8c" stroke="none" stroke-width="1"/>
<polygon points="496.80,212.80 499.90,219.20 493.70,219.20" fill="#2a4c8c" stroke="none" stroke-width="1"/>
<polygon points="498.70,211.80 501.80,218.20 495.60,218.20" fill="#2a4c8c" stroke="none" stroke-width="1"/>
<line x1="488.90" y1="208.70" x2="507.10" y2="208.70" stroke="#2a4c8c" stroke-width="1.2"/>
<polygon points="307.30,81.00 308.60,78.00 309.61,74.27 310.38,76.30 311.14,71.15 312.20,71.70 313.07,72.22 313.98,68.52 315.08,67.27 315.80,64.50 316.86,60.83 318.30,56.10 319.35,51.16 320.31,53.87 321.60,50.30 322.80,44.89 324.00,43.00 324.74,40.53 325.70,35.60 326.71,32.08 328.10,31.50 329.41,28.30 330.60,29.80 331.94,32.49 333.00,27.60 333.94,28.72 334.70,33.10 335.47,33.78 336.30,41.30 337.47,44.63 338.80,52.80 339.74,60.47 340.40,62.60 341.01,64.06 342.00,69.20 342.90,74.40 343.77,79.15 344.78,78.40 345.58,83.63 346.50,85.30 347.41,85.89 348.11,90.90 349.39,90.68 350.10,94.30 350.87,96.89 352.01,96.39 352.69,100.96 353.70,101.50 354.78,102.65 355.80,106.00 356.90,107.19 358.07,107.84 359.14,109.19 360.14,109.77 361.20,110.30 362.31,110.44 363.12,110.58 364.02,110.72 365.08,110.86 366.00,111.00 366.00,111.20 307.30,111.20" fill="#bcd79c" stroke="none" stroke-width="1"/>
<polyline points="307.30,81.00 308.60,78.00 309.61,74.27 310.38,76.30 311.14,71.15 312.20,71.70 313.07,72.22 313.98,68.52 315.08,67.27 315.80,64.50 316.86,60.83 318.30,56.10 319.35,51.16 320.31,53.87 321.60,50.30 322.80,44.89 324.00,43.00 324.74,40.53 325.70,35.60 326.71,32.08 328.10,31.50 329.41,28.30 330.60,29.80 331.94,32.49 333.00,27.60 333.94,28.72 334.70,33.10 335.47,33.78 336.30,41.30 337.47,44.63 338.80,52.80 339.74,60.47 340.40,62.60 341.01,64.06 342.00,69.20 342.90,74.40 343.77,79.15 344.78,78.40 345.58,83.63 346.50,85.30 347.41,85.89 348.11,90.90 349.39,90.68 350.10,94.30 350.87,96.89 352.01,96.39 352.69,100.96 353.70,101.50 354.78,102.65 355.80,106.00 356.90,107.19 358.07,107.84 359.14,109.19 360.14,109.77 361.20,110.30 362.31,110.44 363.12,110.58 364.02,110.72 365.08,110.86 366.00,111.00" fill="none" stroke="#5fa33a" stroke-width="1.1" stroke-linejoin="round"/>
<polyline points="307.30,81.70 308.60,81.70 309.57,78.90 310.35,79.78 311.38,76.23 312.20,77.10 313.16,77.31 313.86,73.06 315.03,72.53 315.80,71.70 316.63,71.66 317.41,65.25 318.50,68.26 319.40,63.60 320.58,59.26 321.25,62.25 322.40,59.30 323.47,53.07 324.80,51.10 325.77,49.04 326.97,47.37 328.10,43.00 329.30,38.54 330.60,38.00 331.59,37.96 332.20,32.30 332.99,32.75 333.90,27.80 334.77,29.35 335.50,36.40 336.70,43.37 338.00,47.90 338.80,48.42 339.60,54.40 340.37,61.92 341.20,64.30 342.05,66.79 342.79,73.29 343.90,73.81 344.70,78.00 345.64,80.71 346.68,81.16 347.70,83.40 348.59,86.07 349.68,88.22 350.40,88.90 351.25,88.92 352.36,93.93 353.21,93.65 354.00,96.10 354.70,98.22 355.99,98.27 356.51,100.04 357.60,102.40 358.63,104.69 359.41,104.74 360.21,107.08 361.20,107.80 361.96,109.06 362.91,108.50 363.98,109.37 364.80,110.30 365.78,110.53 367.01,110.77 368.00,111.00 368.99,111.00 370.23,111.00 371.22,111.00 372.04,111.00 373.20,111.00 374.05,111.00 374.93,111.00 376.26,111.00 377.17,111.00 378.02,111.00 379.37,111.00 380.26,111.00 381.31,111.00 382.21,111.00 383.12,111.00 384.36,111.00 385.48,111.00 386.32,111.00 387.41,111.00 388.29,111.00 389.32,111.00 390.37,111.00 391.41,111.00 392.41,111.00 393.35,111.00 394.60,111.00 395.59,111.00 396.50,111.00" fill="none" stroke="#2a4c8c" stroke-width="1.15" stroke-linejoin="round"/>
<polyline points="307.30,92.50 308.25,91.62 309.13,94.17 310.20,91.64 311.30,93.40 312.41,94.10 313.61,92.19 314.82,88.69 315.80,88.90 316.95,89.40 318.00,85.09 319.19,86.03 320.27,82.93 321.20,83.50 322.08,79.92 323.21,79.35 323.81,78.57 324.85,80.02 325.80,76.20 326.95,70.78 328.10,67.50 329.23,66.61 330.37,60.49 331.40,61.00 332.85,53.77 333.90,52.00 334.84,49.26 335.50,44.60 336.78,44.97 338.00,38.90 338.93,38.44 339.60,35.60 340.70,27.20 342.00,33.10 342.68,36.64 343.70,43.00 344.74,39.10 346.10,42.10 346.81,44.51 347.80,50.30 349.15,55.77 350.20,56.10 351.50,62.00 352.12,64.51 353.10,70.80 354.15,72.08 355.10,74.15 355.80,78.00 356.94,83.93 358.00,88.90 359.11,91.92 360.30,96.10 361.02,98.92 362.28,101.46 363.00,103.30 363.88,105.30 364.84,105.65 365.70,107.80 366.78,108.94 367.59,108.84 368.59,109.83 369.30,110.50 370.00,110.67 370.91,110.83 372.00,111.00 372.84,111.00 374.11,111.00 375.16,111.00 376.15,111.00 377.09,111.00 378.07,111.00 379.18,111.00 380.28,111.00 381.28,111.00 382.33,111.00 383.20,111.00 384.18,111.00 385.25,111.00 386.23,111.00 387.29,111.00 388.35,111.00 389.49,111.00 390.50,111.00 391.33,111.00 392.53,111.00 393.40,111.00 394.63,111.00 395.66,111.00 396.50,111.00" fill="none" stroke="#ad0a35" stroke-width="1.25" stroke-linejoin="round"/>
<line x1="307.40" y1="23.60" x2="307.40" y2="111.20" stroke="#ad0a35" stroke-width="1.1"/>
<rect x="306.4" y="23.0" width="90.90000000000003" height="88.6" fill="none" stroke="#000" stroke-width="1.35"/>
<line x1="303.40" y1="111.20" x2="306.40" y2="111.20" stroke="#1a1a1a" stroke-width="0.9"/>
<line x1="303.40" y1="94.20" x2="306.40" y2="94.20" stroke="#1a1a1a" stroke-width="0.9"/>
<line x1="303.40" y1="77.20" x2="306.40" y2="77.20" stroke="#1a1a1a" stroke-width="0.9"/>
<line x1="303.40" y1="60.20" x2="306.40" y2="60.20" stroke="#1a1a1a" stroke-width="0.9"/>
<line x1="303.40" y1="43.20" x2="306.40" y2="43.20" stroke="#1a1a1a" stroke-width="0.9"/>
<line x1="303.40" y1="26.20" x2="306.40" y2="26.20" stroke="#1a1a1a" stroke-width="0.9"/>
<line x1="304.60" y1="111.20" x2="306.40" y2="111.20" stroke="#333" stroke-width="0.5"/>
<line x1="304.60" y1="106.95" x2="306.40" y2="106.95" stroke="#333" stroke-width="0.5"/>
<line x1="304.60" y1="102.70" x2="306.40" y2="102.70" stroke="#333" stroke-width="0.5"/>
<line x1="304.60" y1="98.45" x2="306.40" y2="98.45" stroke="#333" stroke-width="0.5"/>
<line x1="304.60" y1="94.20" x2="306.40" y2="94.20" stroke="#333" stroke-width="0.5"/>
<line x1="304.60" y1="89.95" x2="306.40" y2="89.95" stroke="#333" stroke-width="0.5"/>
<line x1="304.60" y1="85.70" x2="306.40" y2="85.70" stroke="#333" stroke-width="0.5"/>
<line x1="304.60" y1="81.45" x2="306.40" y2="81.45" stroke="#333" stroke-width="0.5"/>
<line x1="304.60" y1="77.20" x2="306.40" y2="77.20" stroke="#333" stroke-width="0.5"/>
<line x1="304.60" y1="72.95" x2="306.40" y2="72.95" stroke="#333" stroke-width="0.5"/>
<line x1="304.60" y1="68.70" x2="306.40" y2="68.70" stroke="#333" stroke-width="0.5"/>
<line x1="304.60" y1="64.45" x2="306.40" y2="64.45" stroke="#333" stroke-width="0.5"/>
<line x1="304.60" y1="60.20" x2="306.40" y2="60.20" stroke="#333" stroke-width="0.5"/>
<line x1="304.60" y1="55.95" x2="306.40" y2="55.95" stroke="#333" stroke-width="0.5"/>
<line x1="304.60" y1="51.70" x2="306.40" y2="51.70" stroke="#333" stroke-width="0.5"/>
<line x1="304.60" y1="47.45" x2="306.40" y2="47.45" stroke="#333" stroke-width="0.5"/>
<line x1="304.60" y1="43.20" x2="306.40" y2="43.20" stroke="#333" stroke-width="0.5"/>
<line x1="304.60" y1="38.95" x2="306.40" y2="38.95" stroke="#333" stroke-width="0.5"/>
<line x1="304.60" y1="34.70" x2="306.40" y2="34.70" stroke="#333" stroke-width="0.5"/>
<line x1="304.60" y1="30.45" x2="306.40" y2="30.45" stroke="#333" stroke-width="0.5"/>
<line x1="304.60" y1="26.20" x2="306.40" y2="26.20" stroke="#333" stroke-width="0.5"/>
<text x="300.00" y="29.30" font-size="8.6" fill="#1c1c1c" text-anchor="end">100</text>
<text x="300.00" y="46.60" font-size="8.6" fill="#1c1c1c" text-anchor="end">80</text>
<text x="300.00" y="63.50" font-size="8.6" fill="#1c1c1c" text-anchor="end">60</text>
<text x="300.00" y="80.50" font-size="8.6" fill="#1c1c1c" text-anchor="end">40</text>
<text x="300.00" y="97.50" font-size="8.6" fill="#1c1c1c" text-anchor="end">20</text>
<text x="300.00" y="114.40" font-size="8.6" fill="#1c1c1c" text-anchor="end">0</text>
<polygon points="307.50,246.50 308.46,246.53 309.46,246.56 310.61,246.59 311.41,246.61 312.39,246.64 313.62,246.67 314.50,246.70 315.40,246.62 316.60,246.54 317.48,246.46 318.29,246.38 319.57,246.30 320.30,246.22 321.51,246.14 322.31,246.06 323.18,246.23 324.30,245.90 325.10,245.11 326.17,245.67 327.18,244.59 328.19,244.41 329.20,244.30 330.09,244.33 331.09,242.66 331.98,243.60 333.23,241.99 334.10,241.80 335.06,240.75 335.97,238.32 337.36,238.68 338.20,236.10 338.97,234.34 340.24,227.99 341.10,226.40 342.07,225.29 342.83,221.28 343.83,216.89 344.80,214.50 345.57,210.02 346.85,208.38 347.70,204.20 348.54,198.16 349.58,192.84 350.70,189.40 351.32,187.81 352.20,185.00 353.00,178.00 354.07,175.41 355.50,174.70 356.50,172.66 357.10,168.10 358.31,164.29 359.30,164.80 360.24,171.63 361.20,171.40 362.26,173.00 363.70,178.00 365.06,184.06 366.10,187.80 367.06,195.58 368.40,200.00 369.18,208.12 370.20,218.00 370.96,226.93 372.00,232.50 372.96,234.20 374.03,237.91 374.80,241.50 375.80,243.63 376.48,244.19 377.67,245.29 378.40,247.20 378.40,247.50 307.50,247.50" fill="#bcd79c" stroke="none" stroke-width="1"/>
<polyline points="307.50,246.50 308.46,246.53 309.46,246.56 310.61,246.59 311.41,246.61 312.39,246.64 313.62,246.67 314.50,246.70 315.40,246.62 316.60,246.54 317.48,246.46 318.29,246.38 319.57,246.30 320.30,246.22 321.51,246.14 322.31,246.06 323.18,246.23 324.30,245.90 325.10,245.11 326.17,245.67 327.18,244.59 328.19,244.41 329.20,244.30 330.09,244.33 331.09,242.66 331.98,243.60 333.23,241.99 334.10,241.80 335.06,240.75 335.97,238.32 337.36,238.68 338.20,236.10 338.97,234.34 340.24,227.99 341.10,226.40 342.07,225.29 342.83,221.28 343.83,216.89 344.80,214.50 345.57,210.02 346.85,208.38 347.70,204.20 348.54,198.16 349.58,192.84 350.70,189.40 351.32,187.81 352.20,185.00 353.00,178.00 354.07,175.41 355.50,174.70 356.50,172.66 357.10,168.10 358.31,164.29 359.30,164.80 360.24,171.63 361.20,171.40 362.26,173.00 363.70,178.00 365.06,184.06 366.10,187.80 367.06,195.58 368.40,200.00 369.18,208.12 370.20,218.00 370.96,226.93 372.00,232.50 372.96,234.20 374.03,237.91 374.80,241.50 375.80,243.63 376.48,244.19 377.67,245.29 378.40,247.20" fill="none" stroke="#5fa33a" stroke-width="1.1" stroke-linejoin="round"/>
<polyline points="307.90,244.30 308.96,244.12 309.95,244.49 310.91,245.65 311.52,245.18 312.63,246.01 313.44,246.36 314.50,246.70 315.59,246.62 316.32,246.54 317.24,246.46 318.31,246.38 319.32,246.30 320.45,246.22 321.44,246.14 322.26,246.06 323.18,246.12 324.30,245.90 325.32,245.35 326.20,245.69 327.23,244.40 328.30,245.00 329.20,244.30 329.99,243.05 330.97,242.59 332.17,242.40 332.99,242.47 334.10,241.80 335.23,240.81 336.09,240.25 337.29,237.08 338.20,236.50 339.37,234.10 340.30,229.30 341.40,227.06 342.19,223.30 343.24,220.68 344.00,219.00 344.93,216.47 345.86,211.55 347.00,208.60 347.79,208.23 348.86,200.05 349.81,200.72 350.70,196.80 351.77,195.42 352.90,190.90 353.81,185.08 355.10,185.00 355.92,185.45 357.09,183.47 358.00,178.00 359.17,175.52 360.40,171.40 361.12,166.69 362.00,168.10 363.24,169.95 364.20,164.60 365.15,168.28 366.10,168.10 367.27,169.10 368.60,166.10 369.80,171.40 371.10,184.50 372.00,191.43 373.00,200.00 374.20,218.00 375.15,223.43 376.00,232.50 377.04,238.44 378.40,243.30 379.45,243.97 380.31,246.20 381.10,247.00 382.20,247.00 383.00,247.00 384.15,247.00 385.13,247.00 386.08,247.00 387.04,247.00 388.17,247.00 389.14,247.00 390.17,247.00 391.22,247.00 392.03,247.00 393.19,247.00 394.10,247.00 395.00,247.00" fill="none" stroke="#2a4c8c" stroke-width="1.15" stroke-linejoin="round"/>
<polyline points="307.60,247.50 307.60,230.30 308.20,245.50 309.60,245.90 310.57,246.19 311.63,245.50 312.49,245.88 313.64,245.49 314.50,245.10 315.50,245.41 316.48,244.91 317.56,244.87 318.35,245.64 319.40,245.10 320.50,244.21 321.24,244.58 322.52,243.79 323.38,243.99 324.30,243.40 325.56,242.35 326.58,243.47 327.60,242.60 328.51,242.98 329.72,240.89 330.90,241.00 332.12,240.41 333.10,239.05 334.10,238.50 335.19,237.80 336.45,235.86 337.40,235.20 338.61,233.81 339.76,231.25 340.70,230.30 341.68,229.46 342.95,226.74 343.87,226.60 344.80,224.10 345.80,221.83 347.07,221.62 348.23,222.00 349.20,222.70 350.19,217.98 351.03,214.65 352.20,212.30 353.12,211.05 353.86,210.89 354.92,212.82 355.90,210.90 356.97,209.23 357.85,211.37 358.59,208.85 359.50,209.40 360.33,208.85 361.18,204.83 362.29,208.25 363.00,204.50 363.83,201.54 364.92,203.62 365.70,200.90 366.55,198.72 367.80,194.30 368.81,190.86 370.20,188.60 371.14,184.53 371.90,182.00 372.84,181.50 373.50,174.70 374.53,169.50 375.20,166.50 376.11,167.49 376.80,164.80 378.00,171.40 379.30,182.90 380.60,197.60 380.90,218.00 382.30,232.50 383.04,238.60 383.80,243.30 384.56,244.87 385.60,247.00 386.50,247.00 387.53,247.00 388.89,247.00 389.63,247.00 390.87,247.00 392.02,247.00 393.03,247.00 394.12,247.00 395.00,247.00" fill="none" stroke="#ad0a35" stroke-width="1.2" stroke-linejoin="round"/>
<rect x="306.5" y="159.6" width="89.0" height="88.4" fill="none" stroke="#000" stroke-width="1.35"/>
<line x1="303.50" y1="248.00" x2="306.50" y2="248.00" stroke="#1a1a1a" stroke-width="0.9"/>
<line x1="303.50" y1="231.08" x2="306.50" y2="231.08" stroke="#1a1a1a" stroke-width="0.9"/>
<line x1="303.50" y1="214.16" x2="306.50" y2="214.16" stroke="#1a1a1a" stroke-width="0.9"/>
<line x1="303.50" y1="197.24" x2="306.50" y2="197.24" stroke="#1a1a1a" stroke-width="0.9"/>
<line x1="303.50" y1="180.32" x2="306.50" y2="180.32" stroke="#1a1a1a" stroke-width="0.9"/>
<line x1="303.50" y1="163.40" x2="306.50" y2="163.40" stroke="#1a1a1a" stroke-width="0.9"/>
<line x1="304.70" y1="248.00" x2="306.50" y2="248.00" stroke="#333" stroke-width="0.5"/>
<line x1="304.70" y1="243.77" x2="306.50" y2="243.77" stroke="#333" stroke-width="0.5"/>
<line x1="304.70" y1="239.54" x2="306.50" y2="239.54" stroke="#333" stroke-width="0.5"/>
<line x1="304.70" y1="235.31" x2="306.50" y2="235.31" stroke="#333" stroke-width="0.5"/>
<line x1="304.70" y1="231.08" x2="306.50" y2="231.08" stroke="#333" stroke-width="0.5"/>
<line x1="304.70" y1="226.85" x2="306.50" y2="226.85" stroke="#333" stroke-width="0.5"/>
<line x1="304.70" y1="222.62" x2="306.50" y2="222.62" stroke="#333" stroke-width="0.5"/>
<line x1="304.70" y1="218.39" x2="306.50" y2="218.39" stroke="#333" stroke-width="0.5"/>
<line x1="304.70" y1="214.16" x2="306.50" y2="214.16" stroke="#333" stroke-width="0.5"/>
<line x1="304.70" y1="209.93" x2="306.50" y2="209.93" stroke="#333" stroke-width="0.5"/>
<line x1="304.70" y1="205.70" x2="306.50" y2="205.70" stroke="#333" stroke-width="0.5"/>
<line x1="304.70" y1="201.47" x2="306.50" y2="201.47" stroke="#333" stroke-width="0.5"/>
<line x1="304.70" y1="197.24" x2="306.50" y2="197.24" stroke="#333" stroke-width="0.5"/>
<line x1="304.70" y1="193.01" x2="306.50" y2="193.01" stroke="#333" stroke-width="0.5"/>
<line x1="304.70" y1="188.78" x2="306.50" y2="188.78" stroke="#333" stroke-width="0.5"/>
<line x1="304.70" y1="184.55" x2="306.50" y2="184.55" stroke="#333" stroke-width="0.5"/>
<line x1="304.70" y1="180.32" x2="306.50" y2="180.32" stroke="#333" stroke-width="0.5"/>
<line x1="304.70" y1="176.09" x2="306.50" y2="176.09" stroke="#333" stroke-width="0.5"/>
<line x1="304.70" y1="171.86" x2="306.50" y2="171.86" stroke="#333" stroke-width="0.5"/>
<line x1="304.70" y1="167.63" x2="306.50" y2="167.63" stroke="#333" stroke-width="0.5"/>
<line x1="304.70" y1="163.40" x2="306.50" y2="163.40" stroke="#333" stroke-width="0.5"/>
<text x="300.30" y="166.70" font-size="8.6" fill="#1c1c1c" text-anchor="end">100</text>
<text x="300.30" y="183.80" font-size="8.6" fill="#1c1c1c" text-anchor="end">80</text>
<text x="300.30" y="200.80" font-size="8.6" fill="#1c1c1c" text-anchor="end">60</text>
<text x="300.30" y="216.90" font-size="8.6" fill="#1c1c1c" text-anchor="end">40</text>
<text x="300.30" y="233.90" font-size="8.6" fill="#1c1c1c" text-anchor="end">20</text>
<text x="300.30" y="251.00" font-size="8.6" fill="#1c1c1c" text-anchor="end">0</text>
<text x="313.60" y="125.30" font-size="8.2" fill="#1c1c1c">0</text>
<text x="319.10" y="125.30" font-size="8.3" fill="#1c1c1c" textLength="7.90" lengthAdjust="spacingAndGlyphs">10</text>
<text x="327.40" y="121.80" font-size="6.3" fill="#1c1c1c">2</text>
<text x="341.80" y="125.30" font-size="8.3" fill="#1c1c1c" textLength="7.90" lengthAdjust="spacingAndGlyphs">10</text>
<text x="350.10" y="121.80" font-size="6.3" fill="#1c1c1c">3</text>
<text x="363.40" y="125.30" font-size="8.3" fill="#1c1c1c" textLength="7.90" lengthAdjust="spacingAndGlyphs">10</text>
<text x="371.70" y="121.80" font-size="6.3" fill="#1c1c1c">4</text>
<text x="383.60" y="125.30" font-size="8.3" fill="#1c1c1c" textLength="7.90" lengthAdjust="spacingAndGlyphs">10</text>
<text x="391.90" y="121.80" font-size="6.3" fill="#1c1c1c">5</text>
<text x="313.30" y="261.30" font-size="8.2" fill="#1c1c1c">0</text>
<text x="318.20" y="261.30" font-size="8.3" fill="#1c1c1c" textLength="7.90" lengthAdjust="spacingAndGlyphs">10</text>
<text x="326.50" y="257.80" font-size="6.3" fill="#1c1c1c">2</text>
<text x="341.20" y="261.30" font-size="8.3" fill="#1c1c1c" textLength="7.90" lengthAdjust="spacingAndGlyphs">10</text>
<text x="349.50" y="257.80" font-size="6.3" fill="#1c1c1c">3</text>
<text x="362.40" y="261.30" font-size="8.3" fill="#1c1c1c" textLength="7.90" lengthAdjust="spacingAndGlyphs">10</text>
<text x="370.70" y="257.80" font-size="6.3" fill="#1c1c1c">4</text>
<text x="380.70" y="261.30" font-size="8.3" fill="#1c1c1c" textLength="7.90" lengthAdjust="spacingAndGlyphs">10</text>
<text x="389.00" y="257.80" font-size="6.3" fill="#1c1c1c">5</text>
<line x1="315.60" y1="112.20" x2="315.60" y2="115.20" stroke="#1a1a1a" stroke-width="0.8"/>
<line x1="309.10" y1="112.20" x2="309.10" y2="114.00" stroke="#333" stroke-width="0.5"/>
<line x1="311.60" y1="112.20" x2="311.60" y2="114.00" stroke="#333" stroke-width="0.5"/>
<line x1="313.60" y1="112.20" x2="313.60" y2="114.00" stroke="#333" stroke-width="0.5"/>
<line x1="317.60" y1="112.20" x2="317.60" y2="114.00" stroke="#333" stroke-width="0.5"/>
<line x1="319.60" y1="112.20" x2="319.60" y2="114.00" stroke="#333" stroke-width="0.5"/>
<line x1="322.10" y1="112.20" x2="322.10" y2="114.00" stroke="#333" stroke-width="0.5"/>
<line x1="325.50" y1="112.20" x2="325.50" y2="115.20" stroke="#1a1a1a" stroke-width="0.8"/>
<line x1="347.60" y1="112.20" x2="347.60" y2="115.20" stroke="#1a1a1a" stroke-width="0.8"/>
<line x1="369.20" y1="112.20" x2="369.20" y2="115.20" stroke="#1a1a1a" stroke-width="0.8"/>
<line x1="390.00" y1="112.20" x2="390.00" y2="115.20" stroke="#1a1a1a" stroke-width="0.8"/>
<line x1="323.36" y1="112.20" x2="323.36" y2="114.10" stroke="#333" stroke-width="0.55"/>
<line x1="324.49" y1="112.20" x2="324.49" y2="114.10" stroke="#333" stroke-width="0.55"/>
<line x1="332.15" y1="112.20" x2="332.15" y2="114.10" stroke="#333" stroke-width="0.55"/>
<line x1="336.04" y1="112.20" x2="336.04" y2="114.10" stroke="#333" stroke-width="0.55"/>
<line x1="338.81" y1="112.20" x2="338.81" y2="114.10" stroke="#333" stroke-width="0.55"/>
<line x1="340.95" y1="112.20" x2="340.95" y2="114.10" stroke="#333" stroke-width="0.55"/>
<line x1="342.70" y1="112.20" x2="342.70" y2="114.10" stroke="#333" stroke-width="0.55"/>
<line x1="344.18" y1="112.20" x2="344.18" y2="114.10" stroke="#333" stroke-width="0.55"/>
<line x1="345.46" y1="112.20" x2="345.46" y2="114.10" stroke="#333" stroke-width="0.55"/>
<line x1="346.59" y1="112.20" x2="346.59" y2="114.10" stroke="#333" stroke-width="0.55"/>
<line x1="354.25" y1="112.20" x2="354.25" y2="114.10" stroke="#333" stroke-width="0.55"/>
<line x1="358.14" y1="112.20" x2="358.14" y2="114.10" stroke="#333" stroke-width="0.55"/>
<line x1="360.91" y1="112.20" x2="360.91" y2="114.10" stroke="#333" stroke-width="0.55"/>
<line x1="363.05" y1="112.20" x2="363.05" y2="114.10" stroke="#333" stroke-width="0.55"/>
<line x1="364.80" y1="112.20" x2="364.80" y2="114.10" stroke="#333" stroke-width="0.55"/>
<line x1="366.28" y1="112.20" x2="366.28" y2="114.10" stroke="#333" stroke-width="0.55"/>
<line x1="367.56" y1="112.20" x2="367.56" y2="114.10" stroke="#333" stroke-width="0.55"/>
<line x1="368.69" y1="112.20" x2="368.69" y2="114.10" stroke="#333" stroke-width="0.55"/>
<line x1="375.85" y1="112.20" x2="375.85" y2="114.10" stroke="#333" stroke-width="0.55"/>
<line x1="379.74" y1="112.20" x2="379.74" y2="114.10" stroke="#333" stroke-width="0.55"/>
<line x1="382.51" y1="112.20" x2="382.51" y2="114.10" stroke="#333" stroke-width="0.55"/>
<line x1="384.65" y1="112.20" x2="384.65" y2="114.10" stroke="#333" stroke-width="0.55"/>
<line x1="386.40" y1="112.20" x2="386.40" y2="114.10" stroke="#333" stroke-width="0.55"/>
<line x1="387.88" y1="112.20" x2="387.88" y2="114.10" stroke="#333" stroke-width="0.55"/>
<line x1="389.16" y1="112.20" x2="389.16" y2="114.10" stroke="#333" stroke-width="0.55"/>
<line x1="390.29" y1="112.20" x2="390.29" y2="114.10" stroke="#333" stroke-width="0.55"/>
<line x1="396.65" y1="112.20" x2="396.65" y2="114.10" stroke="#333" stroke-width="0.55"/>
<line x1="315.20" y1="248.60" x2="315.20" y2="251.60" stroke="#1a1a1a" stroke-width="0.8"/>
<line x1="308.70" y1="248.60" x2="308.70" y2="250.40" stroke="#333" stroke-width="0.5"/>
<line x1="311.20" y1="248.60" x2="311.20" y2="250.40" stroke="#333" stroke-width="0.5"/>
<line x1="313.20" y1="248.60" x2="313.20" y2="250.40" stroke="#333" stroke-width="0.5"/>
<line x1="317.20" y1="248.60" x2="317.20" y2="250.40" stroke="#333" stroke-width="0.5"/>
<line x1="319.20" y1="248.60" x2="319.20" y2="250.40" stroke="#333" stroke-width="0.5"/>
<line x1="321.70" y1="248.60" x2="321.70" y2="250.40" stroke="#333" stroke-width="0.5"/>
<line x1="325.00" y1="248.60" x2="325.00" y2="251.60" stroke="#1a1a1a" stroke-width="0.8"/>
<line x1="347.00" y1="248.60" x2="347.00" y2="251.60" stroke="#1a1a1a" stroke-width="0.8"/>
<line x1="368.40" y1="248.60" x2="368.40" y2="251.60" stroke="#1a1a1a" stroke-width="0.8"/>
<line x1="388.20" y1="248.60" x2="388.20" y2="251.60" stroke="#1a1a1a" stroke-width="0.8"/>
<line x1="322.87" y1="248.60" x2="322.87" y2="250.50" stroke="#333" stroke-width="0.55"/>
<line x1="323.99" y1="248.60" x2="323.99" y2="250.50" stroke="#333" stroke-width="0.55"/>
<line x1="331.62" y1="248.60" x2="331.62" y2="250.50" stroke="#333" stroke-width="0.55"/>
<line x1="335.50" y1="248.60" x2="335.50" y2="250.50" stroke="#333" stroke-width="0.55"/>
<line x1="338.25" y1="248.60" x2="338.25" y2="250.50" stroke="#333" stroke-width="0.55"/>
<line x1="340.38" y1="248.60" x2="340.38" y2="250.50" stroke="#333" stroke-width="0.55"/>
<line x1="342.12" y1="248.60" x2="342.12" y2="250.50" stroke="#333" stroke-width="0.55"/>
<line x1="343.59" y1="248.60" x2="343.59" y2="250.50" stroke="#333" stroke-width="0.55"/>
<line x1="344.87" y1="248.60" x2="344.87" y2="250.50" stroke="#333" stroke-width="0.55"/>
<line x1="345.99" y1="248.60" x2="345.99" y2="250.50" stroke="#333" stroke-width="0.55"/>
<line x1="353.62" y1="248.60" x2="353.62" y2="250.50" stroke="#333" stroke-width="0.55"/>
<line x1="357.50" y1="248.60" x2="357.50" y2="250.50" stroke="#333" stroke-width="0.55"/>
<line x1="360.25" y1="248.60" x2="360.25" y2="250.50" stroke="#333" stroke-width="0.55"/>
<line x1="362.38" y1="248.60" x2="362.38" y2="250.50" stroke="#333" stroke-width="0.55"/>
<line x1="364.12" y1="248.60" x2="364.12" y2="250.50" stroke="#333" stroke-width="0.55"/>
<line x1="365.59" y1="248.60" x2="365.59" y2="250.50" stroke="#333" stroke-width="0.55"/>
<line x1="366.87" y1="248.60" x2="366.87" y2="250.50" stroke="#333" stroke-width="0.55"/>
<line x1="367.99" y1="248.60" x2="367.99" y2="250.50" stroke="#333" stroke-width="0.55"/>
<line x1="375.02" y1="248.60" x2="375.02" y2="250.50" stroke="#333" stroke-width="0.55"/>
<line x1="378.90" y1="248.60" x2="378.90" y2="250.50" stroke="#333" stroke-width="0.55"/>
<line x1="381.65" y1="248.60" x2="381.65" y2="250.50" stroke="#333" stroke-width="0.55"/>
<line x1="383.78" y1="248.60" x2="383.78" y2="250.50" stroke="#333" stroke-width="0.55"/>
<line x1="385.52" y1="248.60" x2="385.52" y2="250.50" stroke="#333" stroke-width="0.55"/>
<line x1="386.99" y1="248.60" x2="386.99" y2="250.50" stroke="#333" stroke-width="0.55"/>
<line x1="388.27" y1="248.60" x2="388.27" y2="250.50" stroke="#333" stroke-width="0.55"/>
<line x1="389.39" y1="248.60" x2="389.39" y2="250.50" stroke="#333" stroke-width="0.55"/>
<line x1="394.82" y1="248.60" x2="394.82" y2="250.50" stroke="#333" stroke-width="0.55"/>
<text x="341.80" y="139.30" font-size="10" fill="#1c1c1c" textLength="20.70" lengthAdjust="spacingAndGlyphs">CD86</text>
<text x="339.90" y="275.70" font-size="10" fill="#1c1c1c" textLength="22.00" lengthAdjust="spacingAndGlyphs">MHCII</text>
<text x="282.60" y="245.60" font-size="10" fill="#1c1c1c" textLength="33.40" lengthAdjust="spacingAndGlyphs" transform="rotate(-90 282.60 245.60)">% of Max</text>
<rect x="0.6" y="0.6" width="518.8" height="303.8" fill="none" stroke="#000" stroke-width="1.3"/>
</svg></body></html>
